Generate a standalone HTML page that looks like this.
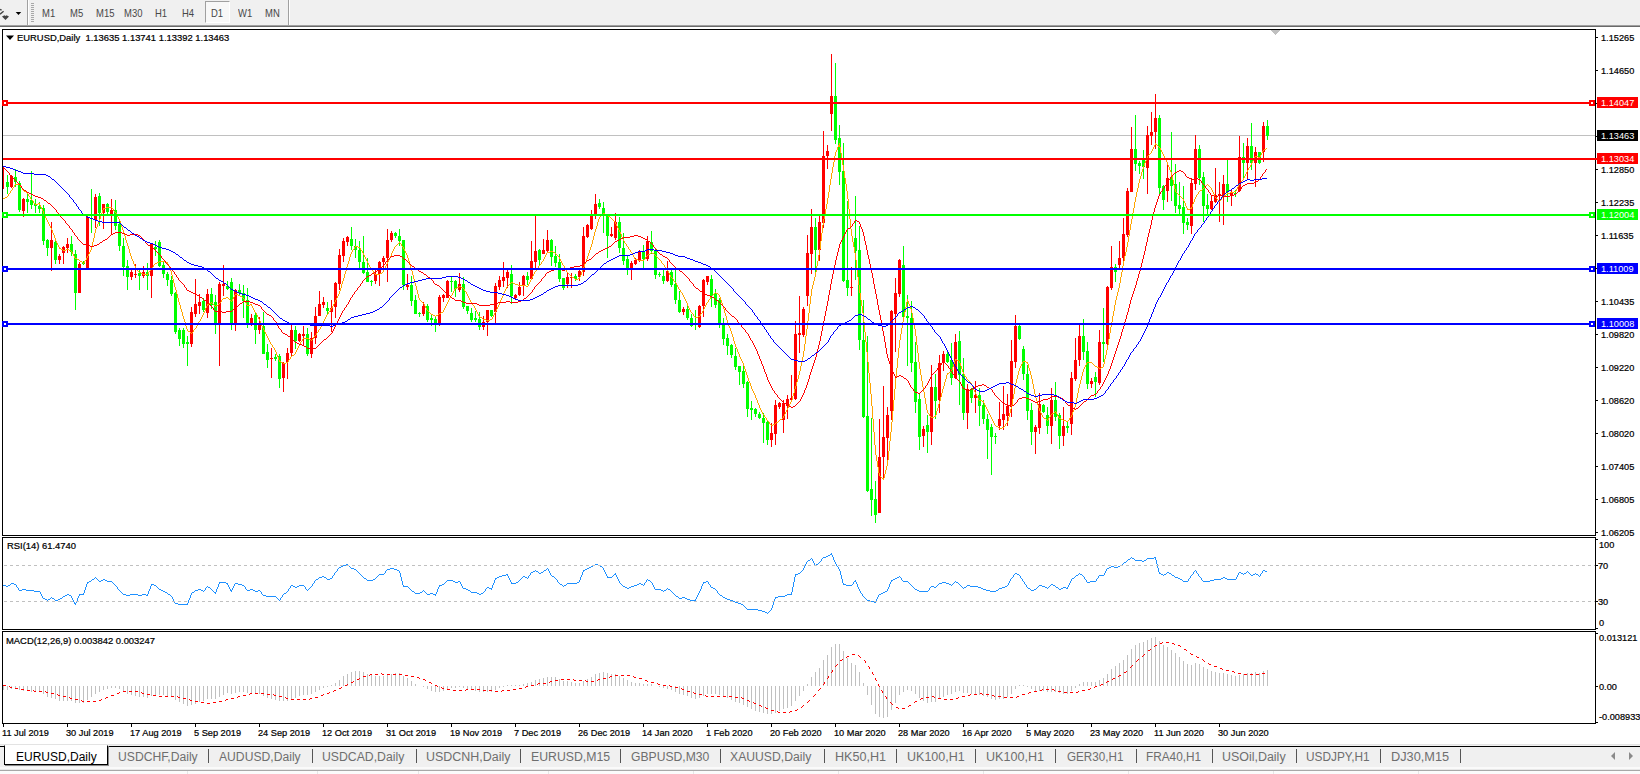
<!DOCTYPE html><html><head><meta charset="utf-8"><title>EURUSD,Daily</title><style>
html,body{margin:0;padding:0;}
body{width:1640px;height:774px;overflow:hidden;background:#fff;position:relative;font-family:"Liberation Sans",sans-serif;}
div,span{box-sizing:border-box}
#tb{position:absolute;left:0;top:0;width:1640px;height:25px;background:#f0f0f0;}
#tbl1{position:absolute;left:0;top:25px;width:1640px;height:1px;background:#a0a0a0;}
#tbl2{position:absolute;left:0;top:26px;width:1640px;height:1px;background:#696969;}
.tf{position:absolute;top:8px;font-size:10.2px;line-height:11px;color:#484848;white-space:nowrap;transform:scaleX(.93);transform-origin:0 0;}
.ax,.dt,.lbl{-webkit-text-stroke:0.22px #000}
.ax{position:absolute;left:1601px;font-size:9.5px;line-height:11px;color:#000;white-space:nowrap;transform:scaleX(.968);transform-origin:0 0;}
.tag{position:absolute;left:1597px;width:41px;height:11px;color:#fff;font-size:9.5px;line-height:11px;white-space:nowrap;}
.tag span{position:absolute;left:3.7px;top:-0.5px;transform:scaleX(.968);transform-origin:0 0;}
.dt{position:absolute;top:726.5px;font-size:9.5px;line-height:11px;color:#000;white-space:nowrap;transform:scaleX(.968);transform-origin:0 0;}
.lbl{position:absolute;font-size:9.5px;line-height:11px;color:#000;white-space:nowrap;transform:scaleX(.99);transform-origin:0 0;}
.tab{position:absolute;top:750px;font-size:12px;line-height:14px;color:#6e6e6e;white-space:nowrap;}
.sep{position:absolute;top:749px;width:1px;height:14px;background:#555;}
</style></head><body><div id="tb"></div><div id="tbl1"></div><div id="tbl2"></div><div style="position:absolute;left:27px;top:0;width:1px;height:25px;background:#a0a0a0"></div><div style="position:absolute;left:28px;top:0;width:1px;height:25px;background:#fff"></div><div style="position:absolute;left:288px;top:0;width:1px;height:25px;background:#a0a0a0"></div><div style="position:absolute;left:289px;top:0;width:1px;height:25px;background:#fff"></div><div style="position:absolute;left:31px;top:3px;width:3px;height:19px;background:repeating-linear-gradient(to bottom,#a8a8a8 0,#a8a8a8 1px,#f0f0f0 1px,#f0f0f0 2px)"></div><div style="position:absolute;left:205px;top:1px;width:25px;height:22px;border-left:1px solid #a0a0a0;border-top:1px solid #a0a0a0;border-right:1px solid #fff;border-bottom:1px solid #fff;background:#f8f8f8"></div><div class="tf" style="left:42px">M1</div><div class="tf" style="left:70px">M5</div><div class="tf" style="left:96px">M15</div><div class="tf" style="left:124px">M30</div><div class="tf" style="left:155px">H1</div><div class="tf" style="left:182px">H4</div><div class="tf" style="left:211px">D1</div><div class="tf" style="left:238px">W1</div><div class="tf" style="left:265px">MN</div><svg style="position:absolute;left:0;top:0" width="27" height="25"><path d="M0 14.2 L3.6 11.2 M0 9.4 L1.6 10.2" stroke="#444" stroke-width="1.4" fill="none"/><path d="M2 16.6 L4.5 15.2 L5.5 15.9 L6.5 15.2 L9 16.6 L5.5 20z" fill="#444"/><path d="M15.7 11.9 h5.5 l-2.75 3.1z" fill="#000"/></svg><div class="ax" style="top:31.5px">1.15265</div><div class="ax" style="top:64.5px">1.14650</div><div class="ax" style="top:163.5px">1.12850</div><div class="ax" style="top:196.5px">1.12235</div><div class="ax" style="top:229.5px">1.11635</div><div class="ax" style="top:295.5px">1.10435</div><div class="ax" style="top:328.5px">1.09820</div><div class="ax" style="top:361.5px">1.09220</div><div class="ax" style="top:394.5px">1.08620</div><div class="ax" style="top:427.5px">1.08020</div><div class="ax" style="top:460.5px">1.07405</div><div class="ax" style="top:493.5px">1.06805</div><div class="ax" style="top:526.5px">1.06205</div><div class="ax" style="left:1599px;top:539px">100</div><div class="ax" style="left:1598px;top:560px">70</div><div class="ax" style="left:1598px;top:596px">30</div><div class="ax" style="left:1599px;top:617px">0</div><div class="ax" style="left:1599px;top:632px">0.013121</div><div class="ax" style="left:1599px;top:681px">0.00</div><div class="ax" style="left:1599px;top:711px">-0.008933</div><div class="dt" style="left:2px">11 Jul 2019</div><div class="dt" style="left:66px">30 Jul 2019</div><div class="dt" style="left:130px">17 Aug 2019</div><div class="dt" style="left:194px">5 Sep 2019</div><div class="dt" style="left:258px">24 Sep 2019</div><div class="dt" style="left:322px">12 Oct 2019</div><div class="dt" style="left:386px">31 Oct 2019</div><div class="dt" style="left:450px">19 Nov 2019</div><div class="dt" style="left:514px">7 Dec 2019</div><div class="dt" style="left:578px">26 Dec 2019</div><div class="dt" style="left:642px">14 Jan 2020</div><div class="dt" style="left:706px">1 Feb 2020</div><div class="dt" style="left:770px">20 Feb 2020</div><div class="dt" style="left:834px">10 Mar 2020</div><div class="dt" style="left:898px">28 Mar 2020</div><div class="dt" style="left:962px">16 Apr 2020</div><div class="dt" style="left:1026px">5 May 2020</div><div class="dt" style="left:1090px">23 May 2020</div><div class="dt" style="left:1154px">11 Jun 2020</div><div class="dt" style="left:1218px">30 Jun 2020</div><div class="tag" style="top:97px;background:#ff0000"><span>1.14047</span></div><div class="tag" style="top:130px;background:#000"><span>1.13463</span></div><div class="tag" style="top:153px;background:#ff0000"><span>1.13034</span></div><div class="tag" style="top:209px;background:#00ff00"><span>1.12004</span></div><div class="tag" style="top:263px;background:#0000ff"><span>1.11009</span></div><div class="tag" style="top:318px;background:#0000ff"><span>1.10008</span></div><svg style="position:absolute;left:6px;top:35px" width="9" height="6"><path d="M0 0.5 h8 l-4 4.5z" fill="#000"/></svg><div class="lbl" style="left:17px;top:32px">EURUSD,Daily&nbsp; 1.13635 1.13741 1.13392 1.13463</div><div class="lbl" style="left:6.5px;top:540px">RSI(14) 61.4740</div><div class="lbl" style="left:6px;top:634.5px">MACD(12,26,9) 0.003842 0.003247</div><svg id="chart" style="position:absolute;left:0;top:0" width="1640" height="774" shape-rendering="crispEdges"><rect x="3" y="135" width="1592" height="1" fill="#c0c0c0"/><rect x="3" y="167" width="1" height="22" fill="#ff0000"/><rect x="3" y="169" width="1" height="20" fill="#ff0000"/><rect x="7" y="175" width="1" height="19" fill="#00ff00"/><rect x="6" y="182" width="3" height="5" fill="#00ff00"/><rect x="11" y="175" width="1" height="13" fill="#ff0000"/><rect x="10" y="176" width="3" height="11" fill="#ff0000"/><rect x="15" y="169" width="1" height="18" fill="#00ff00"/><rect x="14" y="177" width="3" height="5" fill="#00ff00"/><rect x="19" y="181" width="1" height="31" fill="#00ff00"/><rect x="18" y="183" width="3" height="27" fill="#00ff00"/><rect x="23" y="198" width="1" height="19" fill="#ff0000"/><rect x="22" y="199" width="3" height="12" fill="#ff0000"/><rect x="27" y="193" width="1" height="20" fill="#00ff00"/><rect x="26" y="199" width="3" height="3" fill="#00ff00"/><rect x="31" y="171" width="1" height="38" fill="#00ff00"/><rect x="30" y="200" width="3" height="5" fill="#00ff00"/><rect x="35" y="199" width="1" height="14" fill="#00ff00"/><rect x="34" y="204" width="3" height="2" fill="#00ff00"/><rect x="39" y="202" width="1" height="11" fill="#00ff00"/><rect x="38" y="206" width="3" height="3" fill="#00ff00"/><rect x="43" y="205" width="1" height="40" fill="#00ff00"/><rect x="42" y="208" width="3" height="33" fill="#00ff00"/><rect x="47" y="239" width="1" height="17" fill="#00ff00"/><rect x="46" y="240" width="3" height="8" fill="#00ff00"/><rect x="51" y="222" width="1" height="49" fill="#ff0000"/><rect x="50" y="240" width="3" height="8" fill="#ff0000"/><rect x="55" y="240" width="1" height="24" fill="#00ff00"/><rect x="54" y="242" width="3" height="18" fill="#00ff00"/><rect x="59" y="254" width="1" height="10" fill="#ff0000"/><rect x="58" y="256" width="3" height="4" fill="#ff0000"/><rect x="63" y="246" width="1" height="18" fill="#ff0000"/><rect x="62" y="247" width="3" height="6" fill="#ff0000"/><rect x="67" y="238" width="1" height="15" fill="#ff0000"/><rect x="66" y="244" width="3" height="4" fill="#ff0000"/><rect x="71" y="236" width="1" height="20" fill="#00ff00"/><rect x="70" y="244" width="3" height="8" fill="#00ff00"/><rect x="75" y="250" width="1" height="60" fill="#00ff00"/><rect x="74" y="254" width="3" height="39" fill="#00ff00"/><rect x="79" y="262" width="1" height="31" fill="#ff0000"/><rect x="78" y="264" width="3" height="29" fill="#ff0000"/><rect x="83" y="261" width="1" height="4" fill="#00ff00"/><rect x="82" y="263" width="3" height="1" fill="#00ff00"/><rect x="87" y="216" width="1" height="52" fill="#ff0000"/><rect x="86" y="217" width="3" height="51" fill="#ff0000"/><rect x="91" y="189" width="1" height="44" fill="#00ff00"/><rect x="91" y="210" width="1" height="1" fill="#00ff00"/><rect x="95" y="194" width="1" height="34" fill="#ff0000"/><rect x="94" y="197" width="3" height="23" fill="#ff0000"/><rect x="99" y="193" width="1" height="33" fill="#00ff00"/><rect x="98" y="196" width="3" height="17" fill="#00ff00"/><rect x="103" y="204" width="1" height="25" fill="#ff0000"/><rect x="102" y="204" width="3" height="9" fill="#ff0000"/><rect x="107" y="203" width="1" height="11" fill="#00ff00"/><rect x="106" y="204" width="3" height="8" fill="#00ff00"/><rect x="111" y="199" width="1" height="35" fill="#ff0000"/><rect x="110" y="210" width="3" height="4" fill="#ff0000"/><rect x="115" y="200" width="1" height="30" fill="#00ff00"/><rect x="114" y="210" width="3" height="16" fill="#00ff00"/><rect x="119" y="220" width="1" height="31" fill="#00ff00"/><rect x="118" y="224" width="3" height="22" fill="#00ff00"/><rect x="123" y="238" width="1" height="38" fill="#00ff00"/><rect x="122" y="246" width="3" height="21" fill="#00ff00"/><rect x="127" y="260" width="1" height="30" fill="#00ff00"/><rect x="126" y="266" width="3" height="11" fill="#00ff00"/><rect x="131" y="270" width="1" height="10" fill="#ff0000"/><rect x="130" y="272" width="3" height="5" fill="#ff0000"/><rect x="135" y="264" width="1" height="14" fill="#ff0000"/><rect x="134" y="274" width="3" height="1" fill="#ff0000"/><rect x="139" y="270" width="1" height="20" fill="#00ff00"/><rect x="138" y="273" width="3" height="3" fill="#00ff00"/><rect x="143" y="266" width="1" height="12" fill="#ff0000"/><rect x="142" y="272" width="3" height="4" fill="#ff0000"/><rect x="147" y="263" width="1" height="27" fill="#00ff00"/><rect x="146" y="272" width="3" height="4" fill="#00ff00"/><rect x="151" y="244" width="1" height="54" fill="#ff0000"/><rect x="150" y="244" width="3" height="32" fill="#ff0000"/><rect x="155" y="241" width="1" height="15" fill="#00ff00"/><rect x="154" y="247" width="3" height="2" fill="#00ff00"/><rect x="159" y="240" width="1" height="27" fill="#00ff00"/><rect x="158" y="242" width="3" height="24" fill="#00ff00"/><rect x="163" y="261" width="1" height="17" fill="#00ff00"/><rect x="162" y="265" width="3" height="9" fill="#00ff00"/><rect x="167" y="272" width="1" height="14" fill="#00ff00"/><rect x="166" y="274" width="3" height="6" fill="#00ff00"/><rect x="171" y="276" width="1" height="20" fill="#00ff00"/><rect x="170" y="280" width="3" height="14" fill="#00ff00"/><rect x="175" y="292" width="1" height="42" fill="#00ff00"/><rect x="174" y="293" width="3" height="39" fill="#00ff00"/><rect x="179" y="328" width="1" height="18" fill="#00ff00"/><rect x="178" y="330" width="3" height="9" fill="#00ff00"/><rect x="183" y="328" width="1" height="20" fill="#00ff00"/><rect x="182" y="330" width="3" height="14" fill="#00ff00"/><rect x="187" y="336" width="1" height="30" fill="#00ff00"/><rect x="186" y="342" width="3" height="2" fill="#00ff00"/><rect x="191" y="307" width="1" height="40" fill="#ff0000"/><rect x="190" y="312" width="3" height="32" fill="#ff0000"/><rect x="195" y="279" width="1" height="38" fill="#ff0000"/><rect x="194" y="304" width="3" height="10" fill="#ff0000"/><rect x="199" y="294" width="1" height="20" fill="#ff0000"/><rect x="198" y="302" width="3" height="4" fill="#ff0000"/><rect x="203" y="298" width="1" height="14" fill="#00ff00"/><rect x="202" y="301" width="3" height="9" fill="#00ff00"/><rect x="207" y="289" width="1" height="29" fill="#ff0000"/><rect x="206" y="294" width="3" height="19" fill="#ff0000"/><rect x="211" y="288" width="1" height="21" fill="#00ff00"/><rect x="210" y="294" width="3" height="11" fill="#00ff00"/><rect x="215" y="295" width="1" height="39" fill="#00ff00"/><rect x="214" y="302" width="3" height="22" fill="#00ff00"/><rect x="219" y="282" width="1" height="84" fill="#ff0000"/><rect x="218" y="284" width="3" height="40" fill="#ff0000"/><rect x="223" y="265" width="1" height="31" fill="#ff0000"/><rect x="222" y="284" width="3" height="2" fill="#ff0000"/><rect x="227" y="281" width="1" height="9" fill="#00ff00"/><rect x="226" y="286" width="3" height="3" fill="#00ff00"/><rect x="231" y="278" width="1" height="52" fill="#00ff00"/><rect x="230" y="282" width="3" height="42" fill="#00ff00"/><rect x="235" y="289" width="1" height="42" fill="#ff0000"/><rect x="234" y="290" width="3" height="34" fill="#ff0000"/><rect x="239" y="284" width="1" height="12" fill="#00ff00"/><rect x="238" y="290" width="3" height="3" fill="#00ff00"/><rect x="243" y="285" width="1" height="33" fill="#00ff00"/><rect x="242" y="293" width="3" height="8" fill="#00ff00"/><rect x="247" y="288" width="1" height="40" fill="#00ff00"/><rect x="246" y="300" width="3" height="23" fill="#00ff00"/><rect x="251" y="314" width="1" height="12" fill="#ff0000"/><rect x="250" y="318" width="3" height="6" fill="#ff0000"/><rect x="255" y="313" width="1" height="31" fill="#00ff00"/><rect x="254" y="315" width="3" height="15" fill="#00ff00"/><rect x="259" y="317" width="1" height="17" fill="#ff0000"/><rect x="258" y="324" width="3" height="6" fill="#ff0000"/><rect x="263" y="312" width="1" height="42" fill="#00ff00"/><rect x="262" y="326" width="3" height="28" fill="#00ff00"/><rect x="267" y="344" width="1" height="24" fill="#00ff00"/><rect x="266" y="352" width="3" height="8" fill="#00ff00"/><rect x="271" y="348" width="1" height="30" fill="#ff0000"/><rect x="270" y="358" width="3" height="1" fill="#ff0000"/><rect x="275" y="354" width="1" height="7" fill="#00ff00"/><rect x="274" y="357" width="3" height="2" fill="#00ff00"/><rect x="279" y="354" width="1" height="34" fill="#00ff00"/><rect x="278" y="356" width="3" height="23" fill="#00ff00"/><rect x="283" y="362" width="1" height="30" fill="#ff0000"/><rect x="282" y="363" width="3" height="15" fill="#ff0000"/><rect x="287" y="348" width="1" height="31" fill="#ff0000"/><rect x="286" y="353" width="3" height="9" fill="#ff0000"/><rect x="291" y="325" width="1" height="31" fill="#ff0000"/><rect x="290" y="330" width="3" height="23" fill="#ff0000"/><rect x="295" y="326" width="1" height="23" fill="#00ff00"/><rect x="294" y="330" width="3" height="11" fill="#00ff00"/><rect x="299" y="333" width="1" height="9" fill="#ff0000"/><rect x="298" y="334" width="3" height="7" fill="#ff0000"/><rect x="303" y="326" width="1" height="20" fill="#ff0000"/><rect x="302" y="334" width="3" height="2" fill="#ff0000"/><rect x="307" y="328" width="1" height="28" fill="#00ff00"/><rect x="306" y="334" width="3" height="20" fill="#00ff00"/><rect x="311" y="332" width="1" height="26" fill="#ff0000"/><rect x="310" y="338" width="3" height="16" fill="#ff0000"/><rect x="315" y="307" width="1" height="37" fill="#ff0000"/><rect x="314" y="316" width="3" height="22" fill="#ff0000"/><rect x="319" y="291" width="1" height="25" fill="#ff0000"/><rect x="318" y="304" width="3" height="12" fill="#ff0000"/><rect x="323" y="297" width="1" height="11" fill="#ff0000"/><rect x="322" y="302" width="3" height="3" fill="#ff0000"/><rect x="327" y="302" width="1" height="12" fill="#00ff00"/><rect x="326" y="308" width="3" height="3" fill="#00ff00"/><rect x="331" y="300" width="1" height="32" fill="#ff0000"/><rect x="330" y="308" width="3" height="4" fill="#ff0000"/><rect x="335" y="282" width="1" height="36" fill="#ff0000"/><rect x="334" y="283" width="3" height="24" fill="#ff0000"/><rect x="339" y="249" width="1" height="41" fill="#ff0000"/><rect x="338" y="255" width="3" height="29" fill="#ff0000"/><rect x="343" y="238" width="1" height="24" fill="#ff0000"/><rect x="342" y="241" width="3" height="15" fill="#ff0000"/><rect x="347" y="236" width="1" height="10" fill="#ff0000"/><rect x="346" y="237" width="3" height="5" fill="#ff0000"/><rect x="351" y="227" width="1" height="23" fill="#00ff00"/><rect x="350" y="239" width="3" height="7" fill="#00ff00"/><rect x="355" y="239" width="1" height="19" fill="#00ff00"/><rect x="354" y="246" width="3" height="4" fill="#00ff00"/><rect x="359" y="241" width="1" height="27" fill="#00ff00"/><rect x="358" y="250" width="3" height="12" fill="#00ff00"/><rect x="363" y="236" width="1" height="38" fill="#00ff00"/><rect x="362" y="262" width="3" height="11" fill="#00ff00"/><rect x="367" y="258" width="1" height="24" fill="#00ff00"/><rect x="366" y="272" width="3" height="10" fill="#00ff00"/><rect x="371" y="280" width="1" height="6" fill="#00ff00"/><rect x="370" y="281" width="3" height="1" fill="#00ff00"/><rect x="375" y="268" width="1" height="16" fill="#ff0000"/><rect x="374" y="274" width="3" height="7" fill="#ff0000"/><rect x="379" y="261" width="1" height="25" fill="#ff0000"/><rect x="378" y="262" width="3" height="12" fill="#ff0000"/><rect x="383" y="256" width="1" height="12" fill="#ff0000"/><rect x="382" y="258" width="3" height="4" fill="#ff0000"/><rect x="387" y="229" width="1" height="53" fill="#ff0000"/><rect x="386" y="240" width="3" height="18" fill="#ff0000"/><rect x="391" y="231" width="1" height="11" fill="#ff0000"/><rect x="390" y="233" width="3" height="7" fill="#ff0000"/><rect x="395" y="232" width="1" height="6" fill="#00ff00"/><rect x="394" y="233" width="3" height="3" fill="#00ff00"/><rect x="399" y="229" width="1" height="17" fill="#00ff00"/><rect x="398" y="236" width="3" height="5" fill="#00ff00"/><rect x="403" y="240" width="1" height="50" fill="#00ff00"/><rect x="402" y="240" width="3" height="45" fill="#00ff00"/><rect x="407" y="274" width="1" height="16" fill="#ff0000"/><rect x="406" y="285" width="3" height="2" fill="#ff0000"/><rect x="411" y="276" width="1" height="30" fill="#00ff00"/><rect x="410" y="285" width="3" height="16" fill="#00ff00"/><rect x="415" y="295" width="1" height="19" fill="#00ff00"/><rect x="414" y="300" width="3" height="14" fill="#00ff00"/><rect x="419" y="312" width="1" height="5" fill="#00ff00"/><rect x="418" y="313" width="3" height="1" fill="#00ff00"/><rect x="423" y="302" width="1" height="14" fill="#ff0000"/><rect x="422" y="306" width="3" height="8" fill="#ff0000"/><rect x="427" y="304" width="1" height="18" fill="#00ff00"/><rect x="426" y="306" width="3" height="14" fill="#00ff00"/><rect x="431" y="314" width="1" height="12" fill="#00ff00"/><rect x="430" y="318" width="3" height="2" fill="#00ff00"/><rect x="435" y="317" width="1" height="15" fill="#00ff00"/><rect x="434" y="319" width="3" height="5" fill="#00ff00"/><rect x="439" y="295" width="1" height="31" fill="#ff0000"/><rect x="438" y="297" width="3" height="27" fill="#ff0000"/><rect x="443" y="294" width="1" height="8" fill="#ff0000"/><rect x="442" y="295" width="3" height="3" fill="#ff0000"/><rect x="447" y="280" width="1" height="18" fill="#ff0000"/><rect x="446" y="281" width="3" height="17" fill="#ff0000"/><rect x="451" y="277" width="1" height="15" fill="#00ff00"/><rect x="450" y="281" width="3" height="1" fill="#00ff00"/><rect x="455" y="280" width="1" height="17" fill="#00ff00"/><rect x="454" y="281" width="3" height="8" fill="#00ff00"/><rect x="459" y="273" width="1" height="19" fill="#ff0000"/><rect x="458" y="284" width="3" height="6" fill="#ff0000"/><rect x="463" y="277" width="1" height="32" fill="#00ff00"/><rect x="462" y="284" width="3" height="23" fill="#00ff00"/><rect x="467" y="306" width="1" height="8" fill="#00ff00"/><rect x="466" y="306" width="3" height="5" fill="#00ff00"/><rect x="471" y="308" width="1" height="14" fill="#00ff00"/><rect x="470" y="313" width="3" height="7" fill="#00ff00"/><rect x="475" y="311" width="1" height="11" fill="#00ff00"/><rect x="474" y="318" width="3" height="2" fill="#00ff00"/><rect x="479" y="312" width="1" height="18" fill="#00ff00"/><rect x="478" y="319" width="3" height="8" fill="#00ff00"/><rect x="483" y="316" width="1" height="14" fill="#ff0000"/><rect x="482" y="322" width="3" height="5" fill="#ff0000"/><rect x="487" y="310" width="1" height="26" fill="#ff0000"/><rect x="486" y="310" width="3" height="12" fill="#ff0000"/><rect x="491" y="310" width="1" height="7" fill="#00ff00"/><rect x="490" y="310" width="3" height="6" fill="#00ff00"/><rect x="495" y="283" width="1" height="40" fill="#ff0000"/><rect x="494" y="286" width="3" height="26" fill="#ff0000"/><rect x="499" y="276" width="1" height="14" fill="#ff0000"/><rect x="498" y="280" width="3" height="7" fill="#ff0000"/><rect x="503" y="262" width="1" height="25" fill="#ff0000"/><rect x="502" y="277" width="3" height="4" fill="#ff0000"/><rect x="507" y="269" width="1" height="19" fill="#ff0000"/><rect x="506" y="272" width="3" height="6" fill="#ff0000"/><rect x="511" y="265" width="1" height="39" fill="#00ff00"/><rect x="510" y="274" width="3" height="22" fill="#00ff00"/><rect x="515" y="294" width="1" height="6" fill="#ff0000"/><rect x="514" y="295" width="3" height="3" fill="#ff0000"/><rect x="519" y="282" width="1" height="14" fill="#ff0000"/><rect x="518" y="287" width="3" height="8" fill="#ff0000"/><rect x="523" y="275" width="1" height="21" fill="#ff0000"/><rect x="522" y="276" width="3" height="10" fill="#ff0000"/><rect x="527" y="272" width="1" height="13" fill="#00ff00"/><rect x="526" y="276" width="3" height="4" fill="#00ff00"/><rect x="531" y="241" width="1" height="39" fill="#ff0000"/><rect x="530" y="261" width="3" height="18" fill="#ff0000"/><rect x="535" y="216" width="1" height="52" fill="#ff0000"/><rect x="534" y="251" width="3" height="11" fill="#ff0000"/><rect x="539" y="249" width="1" height="16" fill="#00ff00"/><rect x="538" y="250" width="3" height="10" fill="#00ff00"/><rect x="543" y="239" width="1" height="15" fill="#ff0000"/><rect x="542" y="250" width="3" height="4" fill="#ff0000"/><rect x="547" y="230" width="1" height="22" fill="#ff0000"/><rect x="546" y="240" width="3" height="11" fill="#ff0000"/><rect x="551" y="239" width="1" height="27" fill="#00ff00"/><rect x="550" y="240" width="3" height="17" fill="#00ff00"/><rect x="555" y="246" width="1" height="21" fill="#00ff00"/><rect x="554" y="256" width="3" height="7" fill="#00ff00"/><rect x="559" y="254" width="1" height="28" fill="#00ff00"/><rect x="558" y="262" width="3" height="17" fill="#00ff00"/><rect x="563" y="278" width="1" height="12" fill="#00ff00"/><rect x="562" y="278" width="3" height="10" fill="#00ff00"/><rect x="567" y="273" width="1" height="15" fill="#ff0000"/><rect x="566" y="277" width="3" height="7" fill="#ff0000"/><rect x="571" y="273" width="1" height="15" fill="#ff0000"/><rect x="570" y="277" width="3" height="1" fill="#ff0000"/><rect x="575" y="274" width="1" height="7" fill="#00ff00"/><rect x="574" y="276" width="3" height="3" fill="#00ff00"/><rect x="579" y="270" width="1" height="11" fill="#ff0000"/><rect x="578" y="271" width="3" height="6" fill="#ff0000"/><rect x="583" y="227" width="1" height="49" fill="#ff0000"/><rect x="582" y="236" width="3" height="36" fill="#ff0000"/><rect x="587" y="224" width="1" height="14" fill="#ff0000"/><rect x="586" y="225" width="3" height="12" fill="#ff0000"/><rect x="591" y="210" width="1" height="20" fill="#ff0000"/><rect x="590" y="216" width="3" height="13" fill="#ff0000"/><rect x="595" y="194" width="1" height="25" fill="#ff0000"/><rect x="594" y="204" width="3" height="10" fill="#ff0000"/><rect x="599" y="199" width="1" height="10" fill="#00ff00"/><rect x="598" y="203" width="3" height="4" fill="#00ff00"/><rect x="603" y="202" width="1" height="31" fill="#00ff00"/><rect x="602" y="208" width="3" height="6" fill="#00ff00"/><rect x="607" y="215" width="1" height="43" fill="#00ff00"/><rect x="606" y="216" width="3" height="20" fill="#00ff00"/><rect x="611" y="227" width="1" height="10" fill="#ff0000"/><rect x="610" y="234" width="3" height="2" fill="#ff0000"/><rect x="615" y="213" width="1" height="27" fill="#ff0000"/><rect x="614" y="222" width="3" height="16" fill="#ff0000"/><rect x="619" y="217" width="1" height="36" fill="#00ff00"/><rect x="618" y="222" width="3" height="26" fill="#00ff00"/><rect x="623" y="233" width="1" height="32" fill="#00ff00"/><rect x="622" y="248" width="3" height="13" fill="#00ff00"/><rect x="627" y="256" width="1" height="19" fill="#00ff00"/><rect x="626" y="259" width="3" height="9" fill="#00ff00"/><rect x="631" y="261" width="1" height="19" fill="#ff0000"/><rect x="630" y="263" width="3" height="5" fill="#ff0000"/><rect x="635" y="258" width="1" height="7" fill="#ff0000"/><rect x="634" y="260" width="3" height="4" fill="#ff0000"/><rect x="639" y="250" width="1" height="12" fill="#ff0000"/><rect x="638" y="252" width="3" height="9" fill="#ff0000"/><rect x="643" y="245" width="1" height="23" fill="#00ff00"/><rect x="642" y="252" width="3" height="7" fill="#00ff00"/><rect x="647" y="236" width="1" height="25" fill="#ff0000"/><rect x="646" y="241" width="3" height="18" fill="#ff0000"/><rect x="651" y="231" width="1" height="23" fill="#00ff00"/><rect x="650" y="242" width="3" height="9" fill="#00ff00"/><rect x="655" y="248" width="1" height="31" fill="#00ff00"/><rect x="654" y="250" width="3" height="25" fill="#00ff00"/><rect x="659" y="272" width="1" height="5" fill="#00ff00"/><rect x="658" y="274" width="3" height="1" fill="#00ff00"/><rect x="663" y="270" width="1" height="14" fill="#00ff00"/><rect x="662" y="276" width="3" height="5" fill="#00ff00"/><rect x="667" y="261" width="1" height="21" fill="#ff0000"/><rect x="666" y="271" width="3" height="10" fill="#ff0000"/><rect x="671" y="270" width="1" height="17" fill="#00ff00"/><rect x="670" y="272" width="3" height="13" fill="#00ff00"/><rect x="675" y="267" width="1" height="37" fill="#00ff00"/><rect x="674" y="284" width="3" height="16" fill="#00ff00"/><rect x="679" y="291" width="1" height="22" fill="#00ff00"/><rect x="678" y="300" width="3" height="12" fill="#00ff00"/><rect x="683" y="307" width="1" height="8" fill="#ff0000"/><rect x="682" y="309" width="3" height="3" fill="#ff0000"/><rect x="687" y="305" width="1" height="15" fill="#00ff00"/><rect x="686" y="309" width="3" height="9" fill="#00ff00"/><rect x="691" y="314" width="1" height="13" fill="#00ff00"/><rect x="690" y="318" width="3" height="8" fill="#00ff00"/><rect x="695" y="310" width="1" height="20" fill="#00ff00"/><rect x="694" y="323" width="3" height="1" fill="#00ff00"/><rect x="699" y="305" width="1" height="23" fill="#ff0000"/><rect x="698" y="306" width="3" height="21" fill="#ff0000"/><rect x="703" y="279" width="1" height="38" fill="#ff0000"/><rect x="702" y="280" width="3" height="26" fill="#ff0000"/><rect x="707" y="276" width="1" height="9" fill="#ff0000"/><rect x="706" y="276" width="3" height="6" fill="#ff0000"/><rect x="711" y="275" width="1" height="32" fill="#00ff00"/><rect x="710" y="279" width="3" height="17" fill="#00ff00"/><rect x="715" y="289" width="1" height="19" fill="#00ff00"/><rect x="714" y="294" width="3" height="11" fill="#00ff00"/><rect x="719" y="298" width="1" height="30" fill="#00ff00"/><rect x="718" y="300" width="3" height="23" fill="#00ff00"/><rect x="723" y="318" width="1" height="27" fill="#00ff00"/><rect x="722" y="323" width="3" height="16" fill="#00ff00"/><rect x="727" y="334" width="1" height="21" fill="#00ff00"/><rect x="726" y="338" width="3" height="8" fill="#00ff00"/><rect x="731" y="344" width="1" height="14" fill="#00ff00"/><rect x="730" y="345" width="3" height="10" fill="#00ff00"/><rect x="735" y="348" width="1" height="22" fill="#00ff00"/><rect x="734" y="356" width="3" height="11" fill="#00ff00"/><rect x="739" y="366" width="1" height="19" fill="#00ff00"/><rect x="738" y="366" width="3" height="6" fill="#00ff00"/><rect x="743" y="366" width="1" height="22" fill="#00ff00"/><rect x="742" y="371" width="3" height="13" fill="#00ff00"/><rect x="747" y="381" width="1" height="36" fill="#00ff00"/><rect x="746" y="382" width="3" height="27" fill="#00ff00"/><rect x="751" y="401" width="1" height="19" fill="#00ff00"/><rect x="750" y="408" width="3" height="2" fill="#00ff00"/><rect x="755" y="408" width="1" height="9" fill="#00ff00"/><rect x="754" y="409" width="3" height="5" fill="#00ff00"/><rect x="759" y="412" width="1" height="7" fill="#00ff00"/><rect x="758" y="414" width="3" height="4" fill="#00ff00"/><rect x="763" y="413" width="1" height="30" fill="#00ff00"/><rect x="762" y="418" width="3" height="5" fill="#00ff00"/><rect x="767" y="420" width="1" height="25" fill="#00ff00"/><rect x="766" y="422" width="3" height="18" fill="#00ff00"/><rect x="771" y="423" width="1" height="24" fill="#ff0000"/><rect x="770" y="433" width="3" height="7" fill="#ff0000"/><rect x="775" y="400" width="1" height="45" fill="#ff0000"/><rect x="774" y="405" width="3" height="29" fill="#ff0000"/><rect x="779" y="402" width="1" height="7" fill="#ff0000"/><rect x="778" y="403" width="3" height="4" fill="#ff0000"/><rect x="783" y="400" width="1" height="33" fill="#ff0000"/><rect x="782" y="403" width="3" height="17" fill="#ff0000"/><rect x="787" y="395" width="1" height="24" fill="#ff0000"/><rect x="786" y="399" width="3" height="7" fill="#ff0000"/><rect x="791" y="375" width="1" height="26" fill="#ff0000"/><rect x="790" y="398" width="3" height="2" fill="#ff0000"/><rect x="795" y="321" width="1" height="79" fill="#ff0000"/><rect x="794" y="334" width="3" height="65" fill="#ff0000"/><rect x="799" y="296" width="1" height="57" fill="#ff0000"/><rect x="798" y="333" width="3" height="2" fill="#ff0000"/><rect x="803" y="307" width="1" height="30" fill="#ff0000"/><rect x="802" y="309" width="3" height="26" fill="#ff0000"/><rect x="807" y="235" width="1" height="71" fill="#ff0000"/><rect x="806" y="253" width="3" height="43" fill="#ff0000"/><rect x="811" y="209" width="1" height="65" fill="#ff0000"/><rect x="810" y="227" width="3" height="27" fill="#ff0000"/><rect x="815" y="218" width="1" height="54" fill="#00ff00"/><rect x="814" y="227" width="3" height="23" fill="#00ff00"/><rect x="819" y="216" width="1" height="45" fill="#ff0000"/><rect x="818" y="222" width="3" height="28" fill="#ff0000"/><rect x="823" y="131" width="1" height="97" fill="#ff0000"/><rect x="822" y="156" width="3" height="67" fill="#ff0000"/><rect x="827" y="145" width="1" height="24" fill="#ff0000"/><rect x="826" y="151" width="3" height="5" fill="#ff0000"/><rect x="831" y="54" width="1" height="77" fill="#ff0000"/><rect x="830" y="96" width="3" height="18" fill="#ff0000"/><rect x="835" y="63" width="1" height="81" fill="#00ff00"/><rect x="834" y="96" width="3" height="44" fill="#00ff00"/><rect x="839" y="125" width="1" height="60" fill="#00ff00"/><rect x="838" y="138" width="3" height="34" fill="#00ff00"/><rect x="843" y="143" width="1" height="139" fill="#00ff00"/><rect x="842" y="171" width="3" height="110" fill="#00ff00"/><rect x="847" y="201" width="1" height="95" fill="#00ff00"/><rect x="846" y="280" width="3" height="8" fill="#00ff00"/><rect x="851" y="267" width="1" height="29" fill="#ff0000"/><rect x="850" y="287" width="3" height="1" fill="#ff0000"/><rect x="855" y="196" width="1" height="84" fill="#00ff00"/><rect x="854" y="238" width="3" height="13" fill="#00ff00"/><rect x="859" y="226" width="1" height="124" fill="#00ff00"/><rect x="858" y="250" width="3" height="90" fill="#00ff00"/><rect x="863" y="300" width="1" height="118" fill="#00ff00"/><rect x="862" y="340" width="3" height="77" fill="#00ff00"/><rect x="867" y="336" width="1" height="156" fill="#00ff00"/><rect x="866" y="416" width="3" height="75" fill="#00ff00"/><rect x="871" y="418" width="1" height="98" fill="#00ff00"/><rect x="870" y="489" width="3" height="11" fill="#00ff00"/><rect x="875" y="481" width="1" height="42" fill="#00ff00"/><rect x="874" y="499" width="3" height="16" fill="#00ff00"/><rect x="879" y="419" width="1" height="94" fill="#ff0000"/><rect x="878" y="457" width="3" height="56" fill="#ff0000"/><rect x="883" y="386" width="1" height="94" fill="#ff0000"/><rect x="882" y="437" width="3" height="20" fill="#ff0000"/><rect x="887" y="407" width="1" height="53" fill="#ff0000"/><rect x="886" y="415" width="3" height="23" fill="#ff0000"/><rect x="891" y="310" width="1" height="110" fill="#ff0000"/><rect x="890" y="311" width="3" height="100" fill="#ff0000"/><rect x="895" y="278" width="1" height="74" fill="#ff0000"/><rect x="894" y="293" width="3" height="21" fill="#ff0000"/><rect x="899" y="259" width="1" height="38" fill="#ff0000"/><rect x="898" y="260" width="3" height="34" fill="#ff0000"/><rect x="903" y="246" width="1" height="72" fill="#00ff00"/><rect x="902" y="265" width="3" height="52" fill="#00ff00"/><rect x="907" y="295" width="1" height="71" fill="#00ff00"/><rect x="906" y="316" width="3" height="2" fill="#00ff00"/><rect x="911" y="301" width="1" height="71" fill="#00ff00"/><rect x="910" y="318" width="3" height="45" fill="#00ff00"/><rect x="915" y="342" width="1" height="71" fill="#00ff00"/><rect x="914" y="362" width="3" height="40" fill="#00ff00"/><rect x="919" y="394" width="1" height="56" fill="#00ff00"/><rect x="918" y="399" width="3" height="38" fill="#00ff00"/><rect x="923" y="426" width="1" height="21" fill="#ff0000"/><rect x="922" y="429" width="3" height="7" fill="#ff0000"/><rect x="927" y="415" width="1" height="38" fill="#00ff00"/><rect x="926" y="425" width="3" height="7" fill="#00ff00"/><rect x="931" y="365" width="1" height="80" fill="#ff0000"/><rect x="930" y="387" width="3" height="45" fill="#ff0000"/><rect x="935" y="374" width="1" height="45" fill="#00ff00"/><rect x="934" y="387" width="3" height="14" fill="#00ff00"/><rect x="939" y="355" width="1" height="58" fill="#ff0000"/><rect x="938" y="363" width="3" height="37" fill="#ff0000"/><rect x="943" y="351" width="1" height="20" fill="#ff0000"/><rect x="942" y="354" width="3" height="9" fill="#ff0000"/><rect x="947" y="352" width="1" height="11" fill="#00ff00"/><rect x="946" y="354" width="3" height="8" fill="#00ff00"/><rect x="951" y="343" width="1" height="42" fill="#00ff00"/><rect x="950" y="360" width="3" height="18" fill="#00ff00"/><rect x="955" y="334" width="1" height="45" fill="#ff0000"/><rect x="954" y="342" width="3" height="36" fill="#ff0000"/><rect x="959" y="331" width="1" height="74" fill="#00ff00"/><rect x="958" y="341" width="3" height="34" fill="#00ff00"/><rect x="963" y="358" width="1" height="62" fill="#00ff00"/><rect x="962" y="374" width="3" height="39" fill="#00ff00"/><rect x="967" y="384" width="1" height="45" fill="#ff0000"/><rect x="966" y="389" width="3" height="24" fill="#ff0000"/><rect x="971" y="388" width="1" height="15" fill="#00ff00"/><rect x="970" y="389" width="3" height="9" fill="#00ff00"/><rect x="975" y="381" width="1" height="32" fill="#ff0000"/><rect x="974" y="395" width="3" height="3" fill="#ff0000"/><rect x="979" y="388" width="1" height="38" fill="#00ff00"/><rect x="978" y="395" width="3" height="11" fill="#00ff00"/><rect x="983" y="400" width="1" height="24" fill="#00ff00"/><rect x="982" y="405" width="3" height="14" fill="#00ff00"/><rect x="987" y="414" width="1" height="45" fill="#00ff00"/><rect x="986" y="419" width="3" height="11" fill="#00ff00"/><rect x="991" y="424" width="1" height="51" fill="#00ff00"/><rect x="990" y="427" width="3" height="10" fill="#00ff00"/><rect x="995" y="433" width="1" height="11" fill="#00ff00"/><rect x="994" y="436" width="3" height="1" fill="#00ff00"/><rect x="999" y="402" width="1" height="28" fill="#ff0000"/><rect x="998" y="419" width="3" height="7" fill="#ff0000"/><rect x="1003" y="386" width="1" height="44" fill="#ff0000"/><rect x="1002" y="414" width="3" height="6" fill="#ff0000"/><rect x="1007" y="394" width="1" height="32" fill="#ff0000"/><rect x="1006" y="406" width="3" height="10" fill="#ff0000"/><rect x="1011" y="340" width="1" height="77" fill="#ff0000"/><rect x="1010" y="361" width="3" height="45" fill="#ff0000"/><rect x="1015" y="315" width="1" height="53" fill="#ff0000"/><rect x="1014" y="326" width="3" height="36" fill="#ff0000"/><rect x="1019" y="325" width="1" height="15" fill="#00ff00"/><rect x="1018" y="326" width="3" height="13" fill="#00ff00"/><rect x="1023" y="346" width="1" height="34" fill="#00ff00"/><rect x="1022" y="349" width="3" height="25" fill="#00ff00"/><rect x="1027" y="365" width="1" height="55" fill="#00ff00"/><rect x="1026" y="374" width="3" height="37" fill="#00ff00"/><rect x="1031" y="403" width="1" height="42" fill="#00ff00"/><rect x="1030" y="410" width="3" height="22" fill="#00ff00"/><rect x="1035" y="425" width="1" height="29" fill="#ff0000"/><rect x="1034" y="427" width="3" height="5" fill="#ff0000"/><rect x="1039" y="393" width="1" height="41" fill="#ff0000"/><rect x="1038" y="404" width="3" height="24" fill="#ff0000"/><rect x="1043" y="404" width="1" height="9" fill="#00ff00"/><rect x="1042" y="405" width="3" height="7" fill="#00ff00"/><rect x="1047" y="407" width="1" height="27" fill="#00ff00"/><rect x="1046" y="415" width="3" height="11" fill="#00ff00"/><rect x="1051" y="388" width="1" height="56" fill="#ff0000"/><rect x="1050" y="400" width="3" height="26" fill="#ff0000"/><rect x="1055" y="382" width="1" height="39" fill="#00ff00"/><rect x="1054" y="400" width="3" height="17" fill="#00ff00"/><rect x="1059" y="413" width="1" height="36" fill="#00ff00"/><rect x="1058" y="415" width="3" height="21" fill="#00ff00"/><rect x="1063" y="407" width="1" height="39" fill="#ff0000"/><rect x="1062" y="426" width="3" height="10" fill="#ff0000"/><rect x="1067" y="422" width="1" height="11" fill="#00ff00"/><rect x="1066" y="426" width="3" height="2" fill="#00ff00"/><rect x="1071" y="372" width="1" height="63" fill="#ff0000"/><rect x="1070" y="378" width="3" height="46" fill="#ff0000"/><rect x="1075" y="338" width="1" height="43" fill="#ff0000"/><rect x="1074" y="360" width="3" height="19" fill="#ff0000"/><rect x="1079" y="325" width="1" height="41" fill="#ff0000"/><rect x="1078" y="336" width="3" height="24" fill="#ff0000"/><rect x="1083" y="319" width="1" height="41" fill="#00ff00"/><rect x="1082" y="336" width="3" height="16" fill="#00ff00"/><rect x="1087" y="342" width="1" height="47" fill="#00ff00"/><rect x="1086" y="351" width="3" height="33" fill="#00ff00"/><rect x="1091" y="378" width="1" height="10" fill="#ff0000"/><rect x="1090" y="381" width="3" height="3" fill="#ff0000"/><rect x="1095" y="372" width="1" height="25" fill="#00ff00"/><rect x="1094" y="377" width="3" height="5" fill="#00ff00"/><rect x="1099" y="330" width="1" height="55" fill="#ff0000"/><rect x="1098" y="342" width="3" height="41" fill="#ff0000"/><rect x="1103" y="308" width="1" height="54" fill="#00ff00"/><rect x="1102" y="342" width="3" height="2" fill="#00ff00"/><rect x="1107" y="286" width="1" height="59" fill="#ff0000"/><rect x="1106" y="287" width="3" height="57" fill="#ff0000"/><rect x="1111" y="246" width="1" height="44" fill="#ff0000"/><rect x="1110" y="267" width="3" height="21" fill="#ff0000"/><rect x="1115" y="264" width="1" height="18" fill="#00ff00"/><rect x="1114" y="267" width="3" height="5" fill="#00ff00"/><rect x="1119" y="241" width="1" height="29" fill="#ff0000"/><rect x="1118" y="258" width="3" height="7" fill="#ff0000"/><rect x="1123" y="218" width="1" height="43" fill="#ff0000"/><rect x="1122" y="234" width="3" height="24" fill="#ff0000"/><rect x="1127" y="188" width="1" height="49" fill="#ff0000"/><rect x="1126" y="191" width="3" height="44" fill="#ff0000"/><rect x="1131" y="127" width="1" height="65" fill="#ff0000"/><rect x="1130" y="149" width="3" height="43" fill="#ff0000"/><rect x="1135" y="115" width="1" height="56" fill="#00ff00"/><rect x="1134" y="149" width="3" height="15" fill="#00ff00"/><rect x="1139" y="161" width="1" height="13" fill="#00ff00"/><rect x="1138" y="163" width="3" height="3" fill="#00ff00"/><rect x="1143" y="150" width="1" height="29" fill="#00ff00"/><rect x="1142" y="160" width="3" height="7" fill="#00ff00"/><rect x="1147" y="126" width="1" height="68" fill="#ff0000"/><rect x="1146" y="135" width="3" height="33" fill="#ff0000"/><rect x="1151" y="112" width="1" height="33" fill="#ff0000"/><rect x="1150" y="132" width="3" height="4" fill="#ff0000"/><rect x="1155" y="94" width="1" height="55" fill="#ff0000"/><rect x="1154" y="118" width="3" height="14" fill="#ff0000"/><rect x="1159" y="115" width="1" height="79" fill="#00ff00"/><rect x="1158" y="118" width="3" height="70" fill="#00ff00"/><rect x="1163" y="185" width="1" height="25" fill="#00ff00"/><rect x="1162" y="186" width="3" height="14" fill="#00ff00"/><rect x="1167" y="164" width="1" height="38" fill="#ff0000"/><rect x="1166" y="178" width="3" height="13" fill="#ff0000"/><rect x="1171" y="132" width="1" height="69" fill="#00ff00"/><rect x="1170" y="177" width="3" height="9" fill="#00ff00"/><rect x="1175" y="164" width="1" height="49" fill="#00ff00"/><rect x="1174" y="184" width="3" height="22" fill="#00ff00"/><rect x="1179" y="182" width="1" height="32" fill="#00ff00"/><rect x="1178" y="205" width="3" height="4" fill="#00ff00"/><rect x="1183" y="186" width="1" height="48" fill="#00ff00"/><rect x="1182" y="207" width="3" height="16" fill="#00ff00"/><rect x="1187" y="218" width="1" height="12" fill="#00ff00"/><rect x="1186" y="222" width="3" height="3" fill="#00ff00"/><rect x="1191" y="178" width="1" height="56" fill="#ff0000"/><rect x="1190" y="183" width="3" height="43" fill="#ff0000"/><rect x="1195" y="135" width="1" height="55" fill="#ff0000"/><rect x="1194" y="149" width="3" height="35" fill="#ff0000"/><rect x="1199" y="145" width="1" height="40" fill="#00ff00"/><rect x="1198" y="149" width="3" height="29" fill="#00ff00"/><rect x="1203" y="172" width="1" height="50" fill="#00ff00"/><rect x="1202" y="177" width="3" height="29" fill="#00ff00"/><rect x="1207" y="194" width="1" height="20" fill="#00ff00"/><rect x="1206" y="205" width="3" height="4" fill="#00ff00"/><rect x="1211" y="195" width="1" height="15" fill="#ff0000"/><rect x="1210" y="201" width="3" height="8" fill="#ff0000"/><rect x="1215" y="168" width="1" height="35" fill="#ff0000"/><rect x="1214" y="195" width="3" height="7" fill="#ff0000"/><rect x="1219" y="182" width="1" height="40" fill="#ff0000"/><rect x="1218" y="194" width="3" height="2" fill="#ff0000"/><rect x="1223" y="175" width="1" height="50" fill="#ff0000"/><rect x="1222" y="184" width="3" height="12" fill="#ff0000"/><rect x="1227" y="160" width="1" height="42" fill="#00ff00"/><rect x="1226" y="184" width="3" height="8" fill="#00ff00"/><rect x="1231" y="190" width="1" height="16" fill="#ff0000"/><rect x="1230" y="193" width="3" height="3" fill="#ff0000"/><rect x="1235" y="190" width="1" height="7" fill="#00ff00"/><rect x="1234" y="193" width="3" height="1" fill="#00ff00"/><rect x="1239" y="136" width="1" height="56" fill="#ff0000"/><rect x="1238" y="157" width="3" height="34" fill="#ff0000"/><rect x="1243" y="143" width="1" height="37" fill="#00ff00"/><rect x="1242" y="157" width="3" height="6" fill="#00ff00"/><rect x="1247" y="138" width="1" height="42" fill="#ff0000"/><rect x="1246" y="146" width="3" height="17" fill="#ff0000"/><rect x="1251" y="123" width="1" height="47" fill="#00ff00"/><rect x="1250" y="146" width="3" height="17" fill="#00ff00"/><rect x="1255" y="147" width="1" height="40" fill="#ff0000"/><rect x="1254" y="152" width="3" height="11" fill="#ff0000"/><rect x="1259" y="152" width="1" height="12" fill="#00ff00"/><rect x="1258" y="152" width="3" height="11" fill="#00ff00"/><rect x="1263" y="122" width="1" height="40" fill="#ff0000"/><rect x="1262" y="126" width="3" height="26" fill="#ff0000"/><rect x="1267" y="120" width="1" height="20" fill="#00ff00"/><rect x="1266" y="126" width="3" height="10" fill="#00ff00"/><path d="M839 143h1v1h-1zM1155 143h1v1h-1zM839 144h1v1h-1zM1155 144h2v1h-2zM838 145h2v1h-2zM1154 145h1v1h-1zM1157 145h1v1h-1zM838 146h2v1h-2zM1154 146h1v1h-1zM1158 146h1v1h-1zM837 147h1v1h-1zM840 147h1v1h-1zM1153 147h1v1h-1zM1159 147h1v1h-1zM837 148h1v1h-1zM840 148h1v1h-1zM1153 148h1v1h-1zM1160 148h1v1h-1zM1266 148h1v1h-1zM837 149h1v1h-1zM840 149h1v1h-1zM1152 149h1v1h-1zM1160 149h1v1h-1zM1264 149h2v1h-2zM836 150h1v1h-1zM840 150h1v1h-1zM1152 150h1v1h-1zM1161 150h1v1h-1zM1263 150h1v1h-1zM836 151h1v1h-1zM840 151h1v1h-1zM1151 151h1v1h-1zM1161 151h1v1h-1zM1262 151h1v1h-1zM835 152h1v1h-1zM840 152h1v1h-1zM1151 152h1v1h-1zM1162 152h1v1h-1zM1262 152h1v1h-1zM835 153h1v1h-1zM841 153h1v1h-1zM1150 153h1v1h-1zM1162 153h1v1h-1zM1261 153h1v1h-1zM835 154h1v1h-1zM841 154h1v1h-1zM1149 154h1v1h-1zM1163 154h1v1h-1zM1261 154h1v1h-1zM835 155h1v1h-1zM841 155h1v1h-1zM1148 155h1v1h-1zM1163 155h1v1h-1zM1260 155h1v1h-1zM834 156h1v1h-1zM841 156h1v1h-1zM1147 156h1v1h-1zM1164 156h1v1h-1zM1255 156h3v1h-3zM1260 156h1v1h-1zM834 157h1v1h-1zM841 157h1v1h-1zM1147 157h1v1h-1zM1164 157h1v1h-1zM1254 157h1v1h-1zM1258 157h2v1h-2zM834 158h1v1h-1zM841 158h1v1h-1zM1146 158h1v1h-1zM1165 158h1v1h-1zM1254 158h1v1h-1zM834 159h1v1h-1zM842 159h1v1h-1zM1146 159h1v1h-1zM1165 159h1v1h-1zM1253 159h1v1h-1zM834 160h1v1h-1zM842 160h1v1h-1zM1146 160h1v1h-1zM1166 160h1v1h-1zM1253 160h1v1h-1zM834 161h1v1h-1zM842 161h1v1h-1zM1145 161h1v1h-1zM1166 161h1v1h-1zM1252 161h1v1h-1zM833 162h1v1h-1zM842 162h1v1h-1zM1145 162h1v1h-1zM1167 162h1v1h-1zM1252 162h1v1h-1zM833 163h1v1h-1zM842 163h1v1h-1zM1144 163h1v1h-1zM1167 163h1v1h-1zM1251 163h1v1h-1zM833 164h1v1h-1zM842 164h1v1h-1zM1144 164h1v1h-1zM1167 164h1v1h-1zM1251 164h1v1h-1zM833 165h1v1h-1zM843 165h1v1h-1zM1144 165h1v1h-1zM1168 165h1v1h-1zM1250 165h1v1h-1zM833 166h1v1h-1zM843 166h1v1h-1zM1143 166h1v1h-1zM1168 166h1v1h-1zM1250 166h1v1h-1zM832 167h1v1h-1zM843 167h1v1h-1zM1143 167h1v1h-1zM1169 167h1v1h-1zM1249 167h1v1h-1zM832 168h1v1h-1zM843 168h1v1h-1zM1143 168h1v1h-1zM1169 168h1v1h-1zM1248 168h1v1h-1zM832 169h1v1h-1zM843 169h1v1h-1zM1142 169h1v1h-1zM1169 169h1v1h-1zM1248 169h1v1h-1zM832 170h1v1h-1zM843 170h1v1h-1zM1142 170h1v1h-1zM1170 170h1v1h-1zM1247 170h1v1h-1zM832 171h1v1h-1zM844 171h1v1h-1zM1142 171h1v1h-1zM1170 171h1v1h-1zM1247 171h1v1h-1zM832 172h1v1h-1zM844 172h1v1h-1zM1141 172h1v1h-1zM1171 172h1v1h-1zM1246 172h1v1h-1zM831 173h1v1h-1zM844 173h1v1h-1zM1141 173h1v1h-1zM1171 173h1v1h-1zM1246 173h1v1h-1zM831 174h1v1h-1zM844 174h1v1h-1zM1141 174h1v1h-1zM1171 174h1v1h-1zM1245 174h1v1h-1zM831 175h1v1h-1zM844 175h1v1h-1zM1141 175h1v1h-1zM1171 175h1v1h-1zM1245 175h1v1h-1zM831 176h1v1h-1zM844 176h1v1h-1zM1140 176h1v1h-1zM1172 176h1v1h-1zM1244 176h1v1h-1zM831 177h1v1h-1zM844 177h1v1h-1zM1140 177h1v1h-1zM1172 177h1v1h-1zM1244 177h1v1h-1zM831 178h1v1h-1zM845 178h1v1h-1zM1140 178h1v1h-1zM1172 178h1v1h-1zM1243 178h1v1h-1zM830 179h1v1h-1zM845 179h1v1h-1zM1139 179h1v1h-1zM1172 179h1v1h-1zM1243 179h1v1h-1zM830 180h1v1h-1zM845 180h1v1h-1zM1139 180h1v1h-1zM1173 180h1v1h-1zM1242 180h1v1h-1zM830 181h1v1h-1zM845 181h1v1h-1zM1139 181h1v1h-1zM1173 181h1v1h-1zM1241 181h1v1h-1zM830 182h1v1h-1zM845 182h1v1h-1zM1139 182h1v1h-1zM1173 182h1v1h-1zM1241 182h1v1h-1zM830 183h1v1h-1zM845 183h1v1h-1zM1138 183h1v1h-1zM1173 183h1v1h-1zM1240 183h1v1h-1zM15 184h5v1h-5zM830 184h1v1h-1zM846 184h1v1h-1zM1138 184h1v1h-1zM1173 184h1v1h-1zM1207 184h1v1h-1zM1239 184h1v1h-1zM14 185h1v1h-1zM20 185h1v1h-1zM829 185h1v1h-1zM846 185h1v1h-1zM1138 185h1v1h-1zM1174 185h1v1h-1zM1206 185h1v1h-1zM1208 185h1v1h-1zM1238 185h1v1h-1zM14 186h1v1h-1zM20 186h1v1h-1zM829 186h1v1h-1zM846 186h1v1h-1zM1138 186h1v1h-1zM1174 186h1v1h-1zM1205 186h1v1h-1zM1209 186h1v1h-1zM1238 186h1v1h-1zM13 187h1v1h-1zM21 187h1v1h-1zM829 187h1v1h-1zM846 187h1v1h-1zM1138 187h1v1h-1zM1174 187h1v1h-1zM1204 187h1v1h-1zM1210 187h1v1h-1zM1237 187h1v1h-1zM12 188h1v1h-1zM22 188h1v1h-1zM829 188h1v1h-1zM846 188h1v1h-1zM1137 188h1v1h-1zM1174 188h1v1h-1zM1203 188h1v1h-1zM1211 188h1v1h-1zM1237 188h1v1h-1zM12 189h1v1h-1zM22 189h1v1h-1zM829 189h1v1h-1zM846 189h1v1h-1zM1137 189h1v1h-1zM1175 189h1v1h-1zM1202 189h1v1h-1zM1211 189h1v1h-1zM1236 189h1v1h-1zM11 190h1v1h-1zM23 190h1v1h-1zM829 190h1v1h-1zM846 190h1v1h-1zM1137 190h1v1h-1zM1175 190h1v1h-1zM1200 190h2v1h-2zM1212 190h1v1h-1zM1236 190h1v1h-1zM10 191h1v1h-1zM24 191h2v1h-2zM829 191h1v1h-1zM847 191h1v1h-1zM1137 191h1v1h-1zM1175 191h1v1h-1zM1199 191h1v1h-1zM1212 191h1v1h-1zM1234 191h2v1h-2zM10 192h1v1h-1zM26 192h1v1h-1zM828 192h1v1h-1zM847 192h1v1h-1zM1136 192h1v1h-1zM1176 192h1v1h-1zM1198 192h1v1h-1zM1213 192h1v1h-1zM1230 192h4v1h-4zM9 193h1v1h-1zM27 193h1v1h-1zM828 193h1v1h-1zM847 193h1v1h-1zM1136 193h1v1h-1zM1177 193h1v1h-1zM1198 193h1v1h-1zM1213 193h1v1h-1zM1227 193h3v1h-3zM8 194h1v1h-1zM28 194h1v1h-1zM828 194h1v1h-1zM847 194h1v1h-1zM1136 194h1v1h-1zM1178 194h1v1h-1zM1197 194h1v1h-1zM1214 194h1v1h-1zM1226 194h1v1h-1zM8 195h1v1h-1zM28 195h1v1h-1zM828 195h1v1h-1zM847 195h1v1h-1zM1136 195h1v1h-1zM1179 195h1v1h-1zM1196 195h1v1h-1zM1214 195h1v1h-1zM1224 195h2v1h-2zM7 196h1v1h-1zM29 196h1v1h-1zM828 196h1v1h-1zM847 196h1v1h-1zM1136 196h1v1h-1zM1180 196h1v1h-1zM1196 196h1v1h-1zM1215 196h1v1h-1zM1223 196h1v1h-1zM5 197h2v1h-2zM30 197h1v1h-1zM828 197h1v1h-1zM847 197h1v1h-1zM1135 197h1v1h-1zM1181 197h1v1h-1zM1195 197h1v1h-1zM1215 197h1v1h-1zM1222 197h1v1h-1zM3 198h2v1h-2zM30 198h1v1h-1zM827 198h1v1h-1zM847 198h1v1h-1zM1135 198h1v1h-1zM1182 198h1v1h-1zM1195 198h1v1h-1zM1216 198h1v1h-1zM1221 198h1v1h-1zM31 199h1v1h-1zM827 199h1v1h-1zM848 199h1v1h-1zM1135 199h1v1h-1zM1183 199h1v1h-1zM1194 199h1v1h-1zM1217 199h1v1h-1zM1221 199h1v1h-1zM32 200h1v1h-1zM827 200h1v1h-1zM848 200h1v1h-1zM1135 200h1v1h-1zM1183 200h1v1h-1zM1194 200h1v1h-1zM1218 200h1v1h-1zM1220 200h1v1h-1zM33 201h1v1h-1zM827 201h1v1h-1zM848 201h1v1h-1zM1135 201h1v1h-1zM1184 201h1v1h-1zM1194 201h1v1h-1zM1219 201h1v1h-1zM33 202h1v1h-1zM827 202h1v1h-1zM848 202h1v1h-1zM1134 202h1v1h-1zM1184 202h1v1h-1zM1193 202h1v1h-1zM34 203h1v1h-1zM38 203h2v1h-2zM827 203h1v1h-1zM848 203h1v1h-1zM1134 203h1v1h-1zM1185 203h1v1h-1zM1193 203h1v1h-1zM35 204h3v1h-3zM39 204h1v1h-1zM826 204h1v1h-1zM848 204h1v1h-1zM1134 204h1v1h-1zM1185 204h1v1h-1zM1192 204h1v1h-1zM40 205h1v1h-1zM826 205h1v1h-1zM848 205h1v1h-1zM1134 205h1v1h-1zM1185 205h1v1h-1zM1192 205h1v1h-1zM40 206h1v1h-1zM826 206h1v1h-1zM848 206h1v1h-1zM1134 206h1v1h-1zM1186 206h1v1h-1zM1192 206h1v1h-1zM41 207h1v1h-1zM106 207h6v1h-6zM826 207h1v1h-1zM848 207h1v1h-1zM1134 207h1v1h-1zM1186 207h1v1h-1zM1191 207h1v1h-1zM41 208h1v1h-1zM103 208h3v1h-3zM112 208h1v1h-1zM826 208h1v1h-1zM848 208h1v1h-1zM1133 208h1v1h-1zM1187 208h1v1h-1zM1190 208h2v1h-2zM42 209h1v1h-1zM103 209h1v1h-1zM113 209h1v1h-1zM825 209h1v1h-1zM849 209h1v1h-1zM1133 209h1v1h-1zM1187 209h3v1h-3zM42 210h1v1h-1zM102 210h1v1h-1zM113 210h1v1h-1zM825 210h1v1h-1zM849 210h1v1h-1zM1133 210h1v1h-1zM43 211h1v1h-1zM102 211h1v1h-1zM114 211h1v1h-1zM825 211h1v1h-1zM849 211h1v1h-1zM1133 211h1v1h-1zM43 212h1v1h-1zM102 212h1v1h-1zM115 212h1v1h-1zM825 212h1v1h-1zM849 212h1v1h-1zM1133 212h1v1h-1zM43 213h1v1h-1zM101 213h1v1h-1zM116 213h1v1h-1zM603 213h2v1h-2zM825 213h1v1h-1zM849 213h1v1h-1zM1132 213h1v1h-1zM44 214h1v1h-1zM101 214h1v1h-1zM116 214h1v1h-1zM602 214h1v1h-1zM605 214h2v1h-2zM824 214h1v1h-1zM849 214h1v1h-1zM1132 214h1v1h-1zM44 215h1v1h-1zM101 215h1v1h-1zM117 215h1v1h-1zM601 215h1v1h-1zM607 215h1v1h-1zM824 215h1v1h-1zM849 215h1v1h-1zM1132 215h1v1h-1zM45 216h1v1h-1zM100 216h1v1h-1zM117 216h1v1h-1zM600 216h1v1h-1zM608 216h2v1h-2zM824 216h1v1h-1zM849 216h1v1h-1zM1132 216h1v1h-1zM45 217h1v1h-1zM100 217h1v1h-1zM118 217h1v1h-1zM599 217h1v1h-1zM610 217h1v1h-1zM824 217h1v1h-1zM849 217h1v1h-1zM1132 217h1v1h-1zM46 218h1v1h-1zM100 218h1v1h-1zM118 218h1v1h-1zM599 218h1v1h-1zM611 218h1v1h-1zM824 218h1v1h-1zM849 218h1v1h-1zM1132 218h1v1h-1zM46 219h1v1h-1zM99 219h1v1h-1zM119 219h1v1h-1zM598 219h1v1h-1zM612 219h1v1h-1zM823 219h1v1h-1zM850 219h1v1h-1zM1131 219h1v1h-1zM47 220h1v1h-1zM99 220h1v1h-1zM119 220h1v1h-1zM598 220h1v1h-1zM613 220h1v1h-1zM823 220h1v1h-1zM850 220h1v1h-1zM1131 220h1v1h-1zM47 221h1v1h-1zM99 221h1v1h-1zM120 221h1v1h-1zM598 221h1v1h-1zM614 221h1v1h-1zM823 221h1v1h-1zM850 221h1v1h-1zM1131 221h1v1h-1zM48 222h1v1h-1zM98 222h1v1h-1zM120 222h1v1h-1zM597 222h1v1h-1zM615 222h1v1h-1zM823 222h1v1h-1zM850 222h1v1h-1zM1131 222h1v1h-1zM48 223h1v1h-1zM98 223h1v1h-1zM120 223h1v1h-1zM597 223h1v1h-1zM615 223h1v1h-1zM823 223h1v1h-1zM850 223h1v1h-1zM1131 223h1v1h-1zM49 224h1v1h-1zM97 224h1v1h-1zM121 224h1v1h-1zM597 224h1v1h-1zM616 224h1v1h-1zM823 224h1v1h-1zM850 224h1v1h-1zM1130 224h1v1h-1zM49 225h1v1h-1zM97 225h1v1h-1zM121 225h1v1h-1zM597 225h1v1h-1zM616 225h1v1h-1zM822 225h1v1h-1zM850 225h1v1h-1zM1130 225h1v1h-1zM50 226h1v1h-1zM97 226h1v1h-1zM121 226h1v1h-1zM596 226h1v1h-1zM617 226h1v1h-1zM822 226h1v1h-1zM850 226h1v1h-1zM1130 226h1v1h-1zM50 227h1v1h-1zM96 227h1v1h-1zM122 227h1v1h-1zM596 227h1v1h-1zM617 227h1v1h-1zM822 227h1v1h-1zM850 227h1v1h-1zM1130 227h1v1h-1zM51 228h1v1h-1zM96 228h1v1h-1zM122 228h1v1h-1zM596 228h1v1h-1zM618 228h1v1h-1zM822 228h1v1h-1zM850 228h1v1h-1zM1130 228h1v1h-1zM51 229h1v1h-1zM95 229h1v1h-1zM122 229h1v1h-1zM595 229h1v1h-1zM618 229h1v1h-1zM822 229h1v1h-1zM851 229h1v1h-1zM1130 229h1v1h-1zM52 230h1v1h-1zM95 230h1v1h-1zM123 230h1v1h-1zM595 230h1v1h-1zM619 230h1v1h-1zM822 230h1v1h-1zM851 230h1v1h-1zM1129 230h1v1h-1zM52 231h1v1h-1zM95 231h1v1h-1zM123 231h1v1h-1zM595 231h1v1h-1zM619 231h1v1h-1zM822 231h1v1h-1zM851 231h1v1h-1zM1129 231h1v1h-1zM52 232h1v1h-1zM95 232h1v1h-1zM123 232h1v1h-1zM594 232h1v1h-1zM620 232h1v1h-1zM822 232h1v1h-1zM851 232h1v1h-1zM1129 232h1v1h-1zM53 233h1v1h-1zM94 233h1v1h-1zM124 233h1v1h-1zM594 233h1v1h-1zM620 233h1v1h-1zM821 233h1v1h-1zM851 233h1v1h-1zM1129 233h1v1h-1zM53 234h1v1h-1zM94 234h1v1h-1zM124 234h1v1h-1zM594 234h1v1h-1zM621 234h1v1h-1zM821 234h1v1h-1zM851 234h1v1h-1zM1129 234h1v1h-1zM54 235h1v1h-1zM94 235h1v1h-1zM124 235h1v1h-1zM594 235h1v1h-1zM621 235h1v1h-1zM821 235h1v1h-1zM851 235h1v1h-1zM1129 235h1v1h-1zM54 236h1v1h-1zM94 236h1v1h-1zM125 236h1v1h-1zM593 236h1v1h-1zM621 236h1v1h-1zM821 236h1v1h-1zM852 236h1v1h-1zM1128 236h1v1h-1zM54 237h1v1h-1zM94 237h1v1h-1zM125 237h1v1h-1zM593 237h1v1h-1zM622 237h1v1h-1zM821 237h1v1h-1zM852 237h1v1h-1zM1128 237h1v1h-1zM55 238h1v1h-1zM93 238h1v1h-1zM125 238h1v1h-1zM593 238h1v1h-1zM622 238h1v1h-1zM821 238h1v1h-1zM852 238h1v1h-1zM1128 238h1v1h-1zM55 239h1v1h-1zM93 239h1v1h-1zM125 239h1v1h-1zM593 239h1v1h-1zM623 239h1v1h-1zM821 239h1v1h-1zM852 239h1v1h-1zM1128 239h1v1h-1zM55 240h1v1h-1zM93 240h1v1h-1zM126 240h1v1h-1zM592 240h1v1h-1zM623 240h1v1h-1zM821 240h1v1h-1zM852 240h1v1h-1zM1128 240h1v1h-1zM56 241h1v1h-1zM93 241h1v1h-1zM126 241h1v1h-1zM592 241h1v1h-1zM624 241h1v1h-1zM820 241h1v1h-1zM852 241h1v1h-1zM1128 241h1v1h-1zM56 242h1v1h-1zM92 242h1v1h-1zM126 242h1v1h-1zM399 242h1v1h-1zM592 242h1v1h-1zM624 242h1v1h-1zM820 242h1v1h-1zM853 242h1v1h-1zM1127 242h1v1h-1zM57 243h1v1h-1zM92 243h1v1h-1zM127 243h1v1h-1zM398 243h1v1h-1zM400 243h1v1h-1zM592 243h1v1h-1zM625 243h1v1h-1zM820 243h1v1h-1zM853 243h1v1h-1zM1127 243h1v1h-1zM57 244h1v1h-1zM92 244h1v1h-1zM127 244h1v1h-1zM397 244h1v1h-1zM401 244h1v1h-1zM591 244h1v1h-1zM626 244h1v1h-1zM820 244h1v1h-1zM853 244h1v1h-1zM1127 244h1v1h-1zM58 245h1v1h-1zM92 245h1v1h-1zM127 245h1v1h-1zM396 245h1v1h-1zM401 245h1v1h-1zM591 245h1v1h-1zM626 245h1v1h-1zM820 245h1v1h-1zM853 245h1v1h-1zM1127 245h1v1h-1zM58 246h1v1h-1zM92 246h1v1h-1zM128 246h1v1h-1zM355 246h3v1h-3zM395 246h1v1h-1zM402 246h1v1h-1zM591 246h1v1h-1zM627 246h1v1h-1zM820 246h1v1h-1zM853 246h1v1h-1zM1127 246h1v1h-1zM59 247h1v1h-1zM91 247h1v1h-1zM128 247h1v1h-1zM354 247h1v1h-1zM358 247h2v1h-2zM394 247h1v1h-1zM403 247h1v1h-1zM590 247h1v1h-1zM628 247h1v1h-1zM820 247h1v1h-1zM854 247h1v1h-1zM1126 247h1v1h-1zM59 248h2v1h-2zM91 248h1v1h-1zM128 248h1v1h-1zM354 248h1v1h-1zM360 248h1v1h-1zM394 248h1v1h-1zM403 248h1v1h-1zM590 248h1v1h-1zM628 248h1v1h-1zM820 248h1v1h-1zM854 248h1v1h-1zM1126 248h1v1h-1zM61 249h2v1h-2zM66 249h3v1h-3zM91 249h1v1h-1zM129 249h1v1h-1zM353 249h1v1h-1zM360 249h1v1h-1zM393 249h1v1h-1zM404 249h1v1h-1zM590 249h1v1h-1zM629 249h1v1h-1zM819 249h1v1h-1zM854 249h1v1h-1zM1126 249h1v1h-1zM63 250h3v1h-3zM69 250h2v1h-2zM90 250h1v1h-1zM129 250h1v1h-1zM352 250h1v1h-1zM361 250h1v1h-1zM393 250h1v1h-1zM404 250h1v1h-1zM589 250h1v1h-1zM630 250h1v1h-1zM819 250h1v1h-1zM854 250h1v1h-1zM1126 250h1v1h-1zM71 251h1v1h-1zM90 251h1v1h-1zM129 251h1v1h-1zM352 251h1v1h-1zM362 251h1v1h-1zM392 251h1v1h-1zM405 251h1v1h-1zM550 251h3v1h-3zM589 251h1v1h-1zM630 251h1v1h-1zM819 251h1v1h-1zM854 251h1v1h-1zM1126 251h1v1h-1zM72 252h1v1h-1zM89 252h1v1h-1zM129 252h1v1h-1zM351 252h1v1h-1zM362 252h1v1h-1zM392 252h1v1h-1zM405 252h1v1h-1zM547 252h3v1h-3zM553 252h2v1h-2zM589 252h1v1h-1zM631 252h1v1h-1zM651 252h1v1h-1zM819 252h1v1h-1zM854 252h1v1h-1zM1125 252h1v1h-1zM72 253h1v1h-1zM89 253h1v1h-1zM130 253h1v1h-1zM351 253h1v1h-1zM363 253h1v1h-1zM391 253h1v1h-1zM406 253h1v1h-1zM546 253h1v1h-1zM555 253h1v1h-1zM588 253h1v1h-1zM632 253h1v1h-1zM650 253h1v1h-1zM652 253h2v1h-2zM819 253h1v1h-1zM855 253h1v1h-1zM1125 253h1v1h-1zM73 254h1v1h-1zM88 254h1v1h-1zM130 254h1v1h-1zM350 254h1v1h-1zM363 254h1v1h-1zM391 254h1v1h-1zM406 254h1v1h-1zM546 254h1v1h-1zM556 254h1v1h-1zM588 254h1v1h-1zM632 254h1v1h-1zM648 254h2v1h-2zM654 254h1v1h-1zM819 254h1v1h-1zM855 254h1v1h-1zM1125 254h1v1h-1zM73 255h1v1h-1zM88 255h1v1h-1zM130 255h1v1h-1zM350 255h1v1h-1zM364 255h1v1h-1zM391 255h1v1h-1zM407 255h1v1h-1zM545 255h1v1h-1zM557 255h1v1h-1zM588 255h1v1h-1zM633 255h1v1h-1zM647 255h1v1h-1zM655 255h1v1h-1zM818 255h1v1h-1zM855 255h1v1h-1zM1125 255h1v1h-1zM74 256h1v1h-1zM87 256h1v1h-1zM131 256h1v1h-1zM350 256h1v1h-1zM364 256h1v1h-1zM390 256h1v1h-1zM407 256h1v1h-1zM545 256h1v1h-1zM558 256h1v1h-1zM587 256h1v1h-1zM633 256h1v1h-1zM646 256h1v1h-1zM656 256h1v1h-1zM818 256h1v1h-1zM855 256h1v1h-1zM1124 256h1v1h-1zM74 257h1v1h-1zM87 257h1v1h-1zM131 257h1v1h-1zM349 257h1v1h-1zM365 257h1v1h-1zM390 257h1v1h-1zM407 257h1v1h-1zM544 257h1v1h-1zM559 257h1v1h-1zM587 257h1v1h-1zM634 257h1v1h-1zM645 257h1v1h-1zM657 257h1v1h-1zM818 257h1v1h-1zM855 257h1v1h-1zM1124 257h1v1h-1zM75 258h2v1h-2zM86 258h1v1h-1zM131 258h1v1h-1zM349 258h1v1h-1zM365 258h1v1h-1zM389 258h1v1h-1zM408 258h1v1h-1zM544 258h1v1h-1zM559 258h1v1h-1zM587 258h1v1h-1zM634 258h1v1h-1zM645 258h1v1h-1zM658 258h1v1h-1zM818 258h1v1h-1zM855 258h1v1h-1zM1124 258h1v1h-1zM77 259h2v1h-2zM86 259h1v1h-1zM132 259h1v1h-1zM349 259h1v1h-1zM366 259h1v1h-1zM389 259h1v1h-1zM408 259h1v1h-1zM543 259h1v1h-1zM560 259h1v1h-1zM586 259h1v1h-1zM635 259h3v1h-3zM644 259h1v1h-1zM659 259h1v1h-1zM818 259h1v1h-1zM855 259h1v1h-1zM1124 259h1v1h-1zM79 260h1v1h-1zM85 260h1v1h-1zM132 260h1v1h-1zM349 260h1v1h-1zM366 260h1v1h-1zM388 260h1v1h-1zM408 260h1v1h-1zM543 260h1v1h-1zM560 260h1v1h-1zM586 260h1v1h-1zM638 260h6v1h-6zM660 260h1v1h-1zM818 260h1v1h-1zM856 260h1v1h-1zM1124 260h1v1h-1zM80 261h2v1h-2zM84 261h1v1h-1zM133 261h1v1h-1zM159 261h7v1h-7zM348 261h1v1h-1zM367 261h1v1h-1zM388 261h1v1h-1zM409 261h1v1h-1zM542 261h1v1h-1zM561 261h1v1h-1zM586 261h1v1h-1zM661 261h1v1h-1zM817 261h1v1h-1zM856 261h1v1h-1zM1123 261h1v1h-1zM82 262h1v1h-1zM84 262h1v1h-1zM133 262h1v1h-1zM157 262h2v1h-2zM166 262h2v1h-2zM348 262h1v1h-1zM367 262h1v1h-1zM387 262h1v1h-1zM409 262h1v1h-1zM541 262h1v1h-1zM561 262h1v1h-1zM585 262h1v1h-1zM661 262h1v1h-1zM817 262h1v1h-1zM856 262h1v1h-1zM1123 262h1v1h-1zM83 263h1v1h-1zM133 263h1v1h-1zM155 263h2v1h-2zM167 263h1v1h-1zM348 263h1v1h-1zM368 263h1v1h-1zM387 263h1v1h-1zM409 263h1v1h-1zM541 263h1v1h-1zM562 263h1v1h-1zM585 263h1v1h-1zM662 263h1v1h-1zM817 263h1v1h-1zM856 263h1v1h-1zM1123 263h1v1h-1zM134 264h1v1h-1zM154 264h1v1h-1zM168 264h1v1h-1zM347 264h1v1h-1zM368 264h1v1h-1zM386 264h1v1h-1zM409 264h1v1h-1zM540 264h1v1h-1zM562 264h1v1h-1zM584 264h1v1h-1zM663 264h1v1h-1zM817 264h1v1h-1zM856 264h1v1h-1zM1123 264h1v1h-1zM134 265h1v1h-1zM153 265h1v1h-1zM168 265h1v1h-1zM347 265h1v1h-1zM369 265h1v1h-1zM386 265h1v1h-1zM410 265h1v1h-1zM539 265h1v1h-1zM563 265h1v1h-1zM584 265h1v1h-1zM664 265h1v1h-1zM817 265h1v1h-1zM856 265h1v1h-1zM1123 265h1v1h-1zM135 266h1v1h-1zM153 266h1v1h-1zM169 266h1v1h-1zM347 266h1v1h-1zM369 266h1v1h-1zM385 266h1v1h-1zM410 266h1v1h-1zM538 266h1v1h-1zM564 266h1v1h-1zM584 266h1v1h-1zM664 266h1v1h-1zM816 266h1v1h-1zM856 266h1v1h-1zM1122 266h1v1h-1zM135 267h1v1h-1zM152 267h1v1h-1zM169 267h1v1h-1zM346 267h1v1h-1zM370 267h1v1h-1zM385 267h1v1h-1zM410 267h1v1h-1zM538 267h1v1h-1zM564 267h1v1h-1zM583 267h1v1h-1zM665 267h1v1h-1zM816 267h1v1h-1zM856 267h1v1h-1zM1122 267h1v1h-1zM136 268h1v1h-1zM151 268h1v1h-1zM169 268h1v1h-1zM346 268h1v1h-1zM370 268h1v1h-1zM384 268h1v1h-1zM411 268h1v1h-1zM537 268h1v1h-1zM565 268h1v1h-1zM583 268h1v1h-1zM666 268h1v1h-1zM816 268h1v1h-1zM857 268h1v1h-1zM1122 268h1v1h-1zM137 269h1v1h-1zM150 269h1v1h-1zM170 269h1v1h-1zM346 269h1v1h-1zM371 269h1v1h-1zM384 269h1v1h-1zM411 269h1v1h-1zM536 269h1v1h-1zM565 269h1v1h-1zM583 269h1v1h-1zM666 269h1v1h-1zM816 269h1v1h-1zM857 269h1v1h-1zM1122 269h1v1h-1zM137 270h1v1h-1zM150 270h1v1h-1zM170 270h1v1h-1zM346 270h1v1h-1zM372 270h1v1h-1zM383 270h1v1h-1zM411 270h1v1h-1zM536 270h1v1h-1zM566 270h1v1h-1zM582 270h1v1h-1zM667 270h1v1h-1zM816 270h1v1h-1zM857 270h1v1h-1zM1122 270h1v1h-1zM138 271h1v1h-1zM149 271h1v1h-1zM171 271h1v1h-1zM345 271h1v1h-1zM373 271h1v1h-1zM383 271h1v1h-1zM412 271h1v1h-1zM535 271h1v1h-1zM566 271h1v1h-1zM582 271h1v1h-1zM668 271h1v1h-1zM816 271h1v1h-1zM857 271h1v1h-1zM1122 271h1v1h-1zM139 272h2v1h-2zM148 272h1v1h-1zM171 272h1v1h-1zM345 272h1v1h-1zM373 272h1v1h-1zM382 272h1v1h-1zM412 272h1v1h-1zM534 272h1v1h-1zM567 272h1v1h-1zM581 272h1v1h-1zM668 272h1v1h-1zM815 272h1v1h-1zM857 272h1v1h-1zM1121 272h1v1h-1zM141 273h2v1h-2zM148 273h1v1h-1zM171 273h1v1h-1zM345 273h1v1h-1zM374 273h1v1h-1zM380 273h2v1h-2zM412 273h1v1h-1zM534 273h1v1h-1zM568 273h1v1h-1zM581 273h1v1h-1zM669 273h1v1h-1zM815 273h1v1h-1zM857 273h1v1h-1zM1121 273h1v1h-1zM143 274h5v1h-5zM171 274h1v1h-1zM344 274h1v1h-1zM375 274h5v1h-5zM412 274h1v1h-1zM533 274h1v1h-1zM569 274h1v1h-1zM581 274h1v1h-1zM669 274h1v1h-1zM815 274h1v1h-1zM857 274h1v1h-1zM1121 274h1v1h-1zM172 275h1v1h-1zM344 275h1v1h-1zM413 275h1v1h-1zM533 275h1v1h-1zM570 275h1v1h-1zM580 275h1v1h-1zM670 275h1v1h-1zM815 275h1v1h-1zM857 275h1v1h-1zM1121 275h1v1h-1zM172 276h1v1h-1zM344 276h1v1h-1zM413 276h1v1h-1zM532 276h1v1h-1zM571 276h1v1h-1zM580 276h1v1h-1zM670 276h1v1h-1zM815 276h1v1h-1zM857 276h1v1h-1zM1121 276h1v1h-1zM172 277h1v1h-1zM344 277h1v1h-1zM413 277h1v1h-1zM532 277h1v1h-1zM572 277h2v1h-2zM579 277h1v1h-1zM671 277h1v1h-1zM814 277h1v1h-1zM858 277h1v1h-1zM1120 277h1v1h-1zM172 278h1v1h-1zM343 278h1v1h-1zM413 278h1v1h-1zM531 278h1v1h-1zM574 278h1v1h-1zM578 278h2v1h-2zM672 278h1v1h-1zM814 278h1v1h-1zM858 278h1v1h-1zM1120 278h1v1h-1zM173 279h1v1h-1zM343 279h1v1h-1zM414 279h1v1h-1zM531 279h1v1h-1zM575 279h3v1h-3zM673 279h1v1h-1zM814 279h1v1h-1zM858 279h1v1h-1zM1120 279h1v1h-1zM173 280h1v1h-1zM343 280h1v1h-1zM414 280h1v1h-1zM530 280h1v1h-1zM673 280h1v1h-1zM814 280h1v1h-1zM858 280h1v1h-1zM1120 280h1v1h-1zM173 281h1v1h-1zM342 281h1v1h-1zM414 281h1v1h-1zM530 281h1v1h-1zM674 281h1v1h-1zM813 281h1v1h-1zM858 281h1v1h-1zM1120 281h1v1h-1zM173 282h1v1h-1zM342 282h1v1h-1zM414 282h1v1h-1zM511 282h2v1h-2zM529 282h1v1h-1zM675 282h1v1h-1zM813 282h1v1h-1zM858 282h1v1h-1zM1120 282h1v1h-1zM174 283h1v1h-1zM342 283h1v1h-1zM415 283h1v1h-1zM510 283h1v1h-1zM513 283h2v1h-2zM529 283h1v1h-1zM676 283h1v1h-1zM813 283h1v1h-1zM858 283h1v1h-1zM1119 283h1v1h-1zM174 284h1v1h-1zM341 284h1v1h-1zM415 284h1v1h-1zM509 284h1v1h-1zM515 284h3v1h-3zM528 284h1v1h-1zM676 284h1v1h-1zM813 284h1v1h-1zM858 284h1v1h-1zM1119 284h1v1h-1zM174 285h1v1h-1zM341 285h1v1h-1zM415 285h1v1h-1zM508 285h1v1h-1zM518 285h8v1h-8zM528 285h1v1h-1zM677 285h1v1h-1zM812 285h1v1h-1zM859 285h1v1h-1zM1119 285h1v1h-1zM174 286h1v1h-1zM341 286h1v1h-1zM416 286h1v1h-1zM459 286h2v1h-2zM507 286h1v1h-1zM526 286h2v1h-2zM677 286h1v1h-1zM812 286h1v1h-1zM859 286h1v1h-1zM1119 286h1v1h-1zM175 287h1v1h-1zM341 287h1v1h-1zM416 287h1v1h-1zM457 287h2v1h-2zM461 287h2v1h-2zM506 287h1v1h-1zM678 287h1v1h-1zM812 287h1v1h-1zM859 287h1v1h-1zM1119 287h1v1h-1zM175 288h1v1h-1zM340 288h1v1h-1zM416 288h1v1h-1zM455 288h2v1h-2zM463 288h1v1h-1zM506 288h1v1h-1zM678 288h1v1h-1zM812 288h1v1h-1zM859 288h1v1h-1zM1118 288h1v1h-1zM175 289h1v1h-1zM340 289h1v1h-1zM416 289h1v1h-1zM454 289h1v1h-1zM464 289h1v1h-1zM505 289h1v1h-1zM679 289h1v1h-1zM811 289h1v1h-1zM859 289h1v1h-1zM1118 289h1v1h-1zM176 290h1v1h-1zM340 290h1v1h-1zM417 290h1v1h-1zM454 290h1v1h-1zM464 290h1v1h-1zM505 290h1v1h-1zM680 290h1v1h-1zM811 290h1v1h-1zM859 290h1v1h-1zM1118 290h1v1h-1zM176 291h1v1h-1zM339 291h1v1h-1zM417 291h1v1h-1zM453 291h1v1h-1zM465 291h1v1h-1zM504 291h1v1h-1zM680 291h1v1h-1zM811 291h1v1h-1zM859 291h1v1h-1zM1118 291h1v1h-1zM176 292h1v1h-1zM339 292h1v1h-1zM417 292h1v1h-1zM453 292h1v1h-1zM466 292h1v1h-1zM504 292h1v1h-1zM681 292h1v1h-1zM715 292h1v1h-1zM811 292h1v1h-1zM859 292h1v1h-1zM1117 292h1v1h-1zM176 293h1v1h-1zM339 293h1v1h-1zM417 293h1v1h-1zM452 293h1v1h-1zM466 293h1v1h-1zM503 293h1v1h-1zM682 293h1v1h-1zM714 293h1v1h-1zM716 293h2v1h-2zM811 293h1v1h-1zM860 293h1v1h-1zM1117 293h1v1h-1zM177 294h1v1h-1zM235 294h3v1h-3zM338 294h1v1h-1zM418 294h1v1h-1zM452 294h1v1h-1zM467 294h1v1h-1zM503 294h1v1h-1zM682 294h1v1h-1zM713 294h1v1h-1zM718 294h1v1h-1zM811 294h1v1h-1zM860 294h1v1h-1zM1117 294h1v1h-1zM177 295h1v1h-1zM234 295h1v1h-1zM238 295h2v1h-2zM338 295h1v1h-1zM418 295h1v1h-1zM451 295h1v1h-1zM467 295h1v1h-1zM503 295h1v1h-1zM683 295h1v1h-1zM712 295h1v1h-1zM719 295h1v1h-1zM811 295h1v1h-1zM860 295h1v1h-1zM1117 295h1v1h-1zM177 296h1v1h-1zM234 296h1v1h-1zM240 296h2v1h-2zM337 296h1v1h-1zM418 296h1v1h-1zM450 296h1v1h-1zM468 296h1v1h-1zM502 296h1v1h-1zM683 296h1v1h-1zM711 296h1v1h-1zM719 296h1v1h-1zM810 296h1v1h-1zM860 296h1v1h-1zM1116 296h1v1h-1zM177 297h1v1h-1zM226 297h2v1h-2zM233 297h1v1h-1zM242 297h1v1h-1zM337 297h1v1h-1zM418 297h1v1h-1zM450 297h1v1h-1zM468 297h1v1h-1zM502 297h1v1h-1zM684 297h1v1h-1zM710 297h1v1h-1zM720 297h1v1h-1zM810 297h1v1h-1zM860 297h1v1h-1zM1116 297h1v1h-1zM178 298h1v1h-1zM223 298h3v1h-3zM228 298h1v1h-1zM233 298h1v1h-1zM243 298h1v1h-1zM336 298h1v1h-1zM419 298h1v1h-1zM449 298h1v1h-1zM469 298h1v1h-1zM501 298h1v1h-1zM684 298h1v1h-1zM710 298h1v1h-1zM720 298h1v1h-1zM810 298h1v1h-1zM860 298h1v1h-1zM1116 298h1v1h-1zM178 299h1v1h-1zM222 299h1v1h-1zM229 299h1v1h-1zM232 299h1v1h-1zM244 299h1v1h-1zM336 299h1v1h-1zM419 299h1v1h-1zM449 299h1v1h-1zM469 299h1v1h-1zM501 299h1v1h-1zM685 299h1v1h-1zM709 299h1v1h-1zM720 299h1v1h-1zM810 299h1v1h-1zM860 299h1v1h-1zM907 299h1v1h-1zM1116 299h1v1h-1zM178 300h1v1h-1zM221 300h1v1h-1zM230 300h1v1h-1zM232 300h1v1h-1zM244 300h1v1h-1zM335 300h1v1h-1zM420 300h1v1h-1zM448 300h1v1h-1zM470 300h1v1h-1zM500 300h1v1h-1zM685 300h1v1h-1zM708 300h1v1h-1zM721 300h1v1h-1zM810 300h1v1h-1zM861 300h1v1h-1zM907 300h1v1h-1zM1115 300h1v1h-1zM178 301h1v1h-1zM221 301h1v1h-1zM231 301h1v1h-1zM245 301h1v1h-1zM335 301h1v1h-1zM421 301h1v1h-1zM448 301h1v1h-1zM470 301h1v1h-1zM500 301h1v1h-1zM686 301h1v1h-1zM708 301h1v1h-1zM721 301h1v1h-1zM810 301h1v1h-1zM861 301h1v1h-1zM907 301h2v1h-2zM1115 301h1v1h-1zM179 302h1v1h-1zM211 302h1v1h-1zM220 302h1v1h-1zM245 302h1v1h-1zM334 302h1v1h-1zM422 302h1v1h-1zM447 302h1v1h-1zM471 302h1v1h-1zM499 302h1v1h-1zM686 302h1v1h-1zM707 302h1v1h-1zM721 302h1v1h-1zM810 302h1v1h-1zM861 302h1v1h-1zM906 302h1v1h-1zM908 302h1v1h-1zM1115 302h1v1h-1zM179 303h1v1h-1zM209 303h2v1h-2zM212 303h1v1h-1zM219 303h1v1h-1zM246 303h1v1h-1zM334 303h1v1h-1zM423 303h1v1h-1zM447 303h1v1h-1zM472 303h1v1h-1zM499 303h1v1h-1zM687 303h1v1h-1zM706 303h1v1h-1zM722 303h1v1h-1zM810 303h1v1h-1zM861 303h1v1h-1zM906 303h1v1h-1zM908 303h1v1h-1zM1115 303h1v1h-1zM179 304h1v1h-1zM207 304h2v1h-2zM213 304h1v1h-1zM218 304h1v1h-1zM246 304h1v1h-1zM250 304h2v1h-2zM333 304h1v1h-1zM424 304h1v1h-1zM446 304h1v1h-1zM472 304h1v1h-1zM499 304h1v1h-1zM687 304h1v1h-1zM706 304h1v1h-1zM722 304h1v1h-1zM809 304h1v1h-1zM861 304h1v1h-1zM906 304h1v1h-1zM909 304h1v1h-1zM1115 304h1v1h-1zM180 305h1v1h-1zM207 305h1v1h-1zM214 305h1v1h-1zM216 305h2v1h-2zM247 305h3v1h-3zM251 305h1v1h-1zM333 305h1v1h-1zM424 305h1v1h-1zM446 305h1v1h-1zM473 305h1v1h-1zM498 305h1v1h-1zM687 305h1v1h-1zM705 305h1v1h-1zM722 305h1v1h-1zM809 305h1v1h-1zM861 305h1v1h-1zM906 305h1v1h-1zM909 305h1v1h-1zM1114 305h1v1h-1zM180 306h1v1h-1zM206 306h1v1h-1zM215 306h1v1h-1zM252 306h1v1h-1zM332 306h1v1h-1zM425 306h1v1h-1zM445 306h1v1h-1zM474 306h1v1h-1zM498 306h1v1h-1zM688 306h1v1h-1zM705 306h1v1h-1zM723 306h1v1h-1zM809 306h1v1h-1zM862 306h1v1h-1zM906 306h1v1h-1zM910 306h1v1h-1zM1114 306h1v1h-1zM180 307h1v1h-1zM206 307h1v1h-1zM252 307h1v1h-1zM332 307h1v1h-1zM425 307h1v1h-1zM445 307h1v1h-1zM474 307h1v1h-1zM497 307h1v1h-1zM688 307h1v1h-1zM704 307h1v1h-1zM723 307h1v1h-1zM809 307h1v1h-1zM862 307h1v1h-1zM905 307h1v1h-1zM910 307h1v1h-1zM1114 307h1v1h-1zM180 308h1v1h-1zM205 308h1v1h-1zM253 308h1v1h-1zM331 308h1v1h-1zM426 308h1v1h-1zM444 308h1v1h-1zM475 308h1v1h-1zM497 308h1v1h-1zM689 308h1v1h-1zM704 308h1v1h-1zM723 308h1v1h-1zM809 308h1v1h-1zM862 308h1v1h-1zM905 308h1v1h-1zM910 308h1v1h-1zM1114 308h1v1h-1zM181 309h1v1h-1zM205 309h1v1h-1zM253 309h1v1h-1zM330 309h1v1h-1zM426 309h1v1h-1zM444 309h1v1h-1zM475 309h1v1h-1zM496 309h1v1h-1zM689 309h1v1h-1zM703 309h1v1h-1zM724 309h1v1h-1zM809 309h1v1h-1zM862 309h1v1h-1zM905 309h1v1h-1zM911 309h1v1h-1zM1114 309h1v1h-1zM181 310h1v1h-1zM205 310h1v1h-1zM254 310h1v1h-1zM330 310h1v1h-1zM427 310h1v1h-1zM443 310h1v1h-1zM476 310h1v1h-1zM496 310h1v1h-1zM690 310h1v1h-1zM703 310h1v1h-1zM724 310h1v1h-1zM809 310h1v1h-1zM862 310h1v1h-1zM905 310h1v1h-1zM911 310h1v1h-1zM1114 310h1v1h-1zM181 311h1v1h-1zM204 311h1v1h-1zM254 311h1v1h-1zM329 311h1v1h-1zM428 311h1v1h-1zM443 311h1v1h-1zM476 311h1v1h-1zM495 311h1v1h-1zM690 311h1v1h-1zM702 311h1v1h-1zM724 311h1v1h-1zM809 311h1v1h-1zM862 311h1v1h-1zM905 311h1v1h-1zM911 311h1v1h-1zM1113 311h1v1h-1zM182 312h1v1h-1zM204 312h1v1h-1zM255 312h1v1h-1zM328 312h1v1h-1zM429 312h1v1h-1zM441 312h2v1h-2zM477 312h1v1h-1zM495 312h1v1h-1zM691 312h1v1h-1zM702 312h1v1h-1zM724 312h1v1h-1zM809 312h1v1h-1zM862 312h1v1h-1zM904 312h1v1h-1zM911 312h1v1h-1zM1113 312h1v1h-1zM182 313h1v1h-1zM203 313h1v1h-1zM256 313h1v1h-1zM328 313h1v1h-1zM430 313h1v1h-1zM439 313h2v1h-2zM477 313h1v1h-1zM494 313h1v1h-1zM692 313h1v1h-1zM701 313h1v1h-1zM725 313h1v1h-1zM808 313h1v1h-1zM863 313h1v1h-1zM904 313h1v1h-1zM912 313h1v1h-1zM1113 313h1v1h-1zM182 314h1v1h-1zM203 314h1v1h-1zM256 314h1v1h-1zM327 314h1v1h-1zM431 314h2v1h-2zM438 314h1v1h-1zM478 314h1v1h-1zM494 314h1v1h-1zM693 314h1v1h-1zM700 314h1v1h-1zM725 314h1v1h-1zM808 314h1v1h-1zM863 314h1v1h-1zM904 314h1v1h-1zM912 314h1v1h-1zM1113 314h1v1h-1zM182 315h1v1h-1zM202 315h1v1h-1zM257 315h1v1h-1zM326 315h1v1h-1zM433 315h2v1h-2zM436 315h2v1h-2zM478 315h1v1h-1zM493 315h1v1h-1zM693 315h1v1h-1zM700 315h1v1h-1zM725 315h1v1h-1zM808 315h1v1h-1zM863 315h1v1h-1zM904 315h1v1h-1zM912 315h1v1h-1zM1113 315h1v1h-1zM183 316h1v1h-1zM202 316h1v1h-1zM257 316h1v1h-1zM326 316h1v1h-1zM435 316h1v1h-1zM479 316h1v1h-1zM493 316h1v1h-1zM694 316h1v1h-1zM698 316h2v1h-2zM726 316h1v1h-1zM808 316h1v1h-1zM863 316h1v1h-1zM904 316h1v1h-1zM912 316h1v1h-1zM1112 316h1v1h-1zM183 317h1v1h-1zM201 317h1v1h-1zM258 317h1v1h-1zM325 317h1v1h-1zM480 317h2v1h-2zM492 317h1v1h-1zM695 317h3v1h-3zM726 317h1v1h-1zM808 317h1v1h-1zM863 317h1v1h-1zM903 317h1v1h-1zM912 317h1v1h-1zM1112 317h1v1h-1zM183 318h1v1h-1zM201 318h1v1h-1zM258 318h1v1h-1zM325 318h1v1h-1zM482 318h1v1h-1zM492 318h1v1h-1zM726 318h1v1h-1zM808 318h1v1h-1zM863 318h1v1h-1zM903 318h1v1h-1zM913 318h1v1h-1zM1112 318h1v1h-1zM184 319h1v1h-1zM200 319h1v1h-1zM259 319h1v1h-1zM324 319h1v1h-1zM483 319h3v1h-3zM490 319h2v1h-2zM726 319h1v1h-1zM808 319h1v1h-1zM863 319h1v1h-1zM903 319h1v1h-1zM913 319h1v1h-1zM1112 319h1v1h-1zM184 320h1v1h-1zM200 320h1v1h-1zM259 320h1v1h-1zM324 320h1v1h-1zM486 320h4v1h-4zM727 320h1v1h-1zM808 320h1v1h-1zM863 320h1v1h-1zM903 320h1v1h-1zM913 320h1v1h-1zM1112 320h1v1h-1zM184 321h1v1h-1zM199 321h1v1h-1zM260 321h1v1h-1zM323 321h1v1h-1zM727 321h1v1h-1zM807 321h1v1h-1zM863 321h1v1h-1zM903 321h1v1h-1zM913 321h1v1h-1zM1112 321h1v1h-1zM185 322h1v1h-1zM198 322h1v1h-1zM260 322h1v1h-1zM323 322h1v1h-1zM727 322h1v1h-1zM807 322h1v1h-1zM864 322h1v1h-1zM902 322h1v1h-1zM913 322h1v1h-1zM1111 322h1v1h-1zM185 323h1v1h-1zM198 323h1v1h-1zM261 323h1v1h-1zM322 323h1v1h-1zM728 323h1v1h-1zM807 323h1v1h-1zM864 323h1v1h-1zM902 323h1v1h-1zM913 323h1v1h-1zM1111 323h1v1h-1zM185 324h1v1h-1zM197 324h1v1h-1zM261 324h1v1h-1zM322 324h1v1h-1zM728 324h1v1h-1zM807 324h1v1h-1zM864 324h1v1h-1zM902 324h1v1h-1zM914 324h1v1h-1zM1111 324h1v1h-1zM185 325h1v1h-1zM197 325h1v1h-1zM261 325h1v1h-1zM321 325h1v1h-1zM728 325h1v1h-1zM807 325h1v1h-1zM864 325h1v1h-1zM902 325h1v1h-1zM914 325h1v1h-1zM1111 325h1v1h-1zM186 326h1v1h-1zM196 326h1v1h-1zM262 326h1v1h-1zM321 326h1v1h-1zM729 326h1v1h-1zM807 326h1v1h-1zM864 326h1v1h-1zM902 326h1v1h-1zM914 326h1v1h-1zM1111 326h1v1h-1zM186 327h1v1h-1zM196 327h1v1h-1zM262 327h1v1h-1zM320 327h1v1h-1zM729 327h1v1h-1zM807 327h1v1h-1zM864 327h1v1h-1zM902 327h1v1h-1zM914 327h1v1h-1zM1110 327h1v1h-1zM186 328h1v1h-1zM195 328h1v1h-1zM263 328h1v1h-1zM320 328h1v1h-1zM730 328h1v1h-1zM807 328h1v1h-1zM864 328h1v1h-1zM901 328h1v1h-1zM914 328h1v1h-1zM1110 328h1v1h-1zM187 329h1v1h-1zM194 329h1v1h-1zM263 329h1v1h-1zM319 329h1v1h-1zM730 329h1v1h-1zM806 329h1v1h-1zM864 329h1v1h-1zM901 329h1v1h-1zM915 329h1v1h-1zM1110 329h1v1h-1zM187 330h1v1h-1zM193 330h1v1h-1zM264 330h1v1h-1zM318 330h1v1h-1zM730 330h1v1h-1zM806 330h1v1h-1zM864 330h1v1h-1zM901 330h1v1h-1zM915 330h1v1h-1zM1110 330h1v1h-1zM188 331h2v1h-2zM193 331h1v1h-1zM264 331h1v1h-1zM318 331h1v1h-1zM731 331h1v1h-1zM806 331h1v1h-1zM864 331h1v1h-1zM901 331h1v1h-1zM915 331h1v1h-1zM1110 331h1v1h-1zM190 332h1v1h-1zM192 332h1v1h-1zM265 332h1v1h-1zM317 332h1v1h-1zM731 332h1v1h-1zM806 332h1v1h-1zM865 332h1v1h-1zM901 332h1v1h-1zM915 332h1v1h-1zM1110 332h1v1h-1zM191 333h1v1h-1zM265 333h1v1h-1zM316 333h1v1h-1zM731 333h1v1h-1zM806 333h1v1h-1zM865 333h1v1h-1zM901 333h1v1h-1zM915 333h1v1h-1zM1109 333h1v1h-1zM266 334h1v1h-1zM316 334h1v1h-1zM732 334h1v1h-1zM806 334h1v1h-1zM865 334h1v1h-1zM900 334h1v1h-1zM915 334h1v1h-1zM1109 334h1v1h-1zM266 335h1v1h-1zM315 335h1v1h-1zM732 335h1v1h-1zM806 335h1v1h-1zM865 335h1v1h-1zM900 335h1v1h-1zM915 335h1v1h-1zM1109 335h1v1h-1zM267 336h1v1h-1zM314 336h1v1h-1zM732 336h1v1h-1zM805 336h1v1h-1zM865 336h1v1h-1zM900 336h1v1h-1zM916 336h1v1h-1zM1109 336h1v1h-1zM267 337h1v1h-1zM313 337h1v1h-1zM733 337h1v1h-1zM805 337h1v1h-1zM865 337h1v1h-1zM900 337h1v1h-1zM916 337h1v1h-1zM1109 337h1v1h-1zM268 338h1v1h-1zM303 338h6v1h-6zM313 338h1v1h-1zM733 338h1v1h-1zM805 338h1v1h-1zM865 338h1v1h-1zM900 338h1v1h-1zM916 338h1v1h-1zM1109 338h1v1h-1zM268 339h1v1h-1zM302 339h1v1h-1zM309 339h2v1h-2zM312 339h1v1h-1zM733 339h1v1h-1zM805 339h1v1h-1zM865 339h1v1h-1zM900 339h1v1h-1zM916 339h1v1h-1zM1108 339h1v1h-1zM269 340h1v1h-1zM302 340h1v1h-1zM311 340h1v1h-1zM733 340h1v1h-1zM805 340h1v1h-1zM865 340h1v1h-1zM899 340h1v1h-1zM916 340h1v1h-1zM1108 340h1v1h-1zM269 341h1v1h-1zM301 341h1v1h-1zM734 341h1v1h-1zM805 341h1v1h-1zM865 341h1v1h-1zM899 341h1v1h-1zM916 341h1v1h-1zM1108 341h1v1h-1zM270 342h1v1h-1zM300 342h1v1h-1zM734 342h1v1h-1zM805 342h1v1h-1zM866 342h1v1h-1zM899 342h1v1h-1zM916 342h1v1h-1zM1108 342h1v1h-1zM270 343h1v1h-1zM300 343h1v1h-1zM734 343h1v1h-1zM805 343h1v1h-1zM866 343h1v1h-1zM899 343h1v1h-1zM916 343h1v1h-1zM1108 343h1v1h-1zM271 344h1v1h-1zM299 344h1v1h-1zM735 344h1v1h-1zM804 344h1v1h-1zM866 344h1v1h-1zM899 344h1v1h-1zM916 344h1v1h-1zM1108 344h1v1h-1zM272 345h1v1h-1zM299 345h1v1h-1zM735 345h1v1h-1zM804 345h1v1h-1zM866 345h1v1h-1zM899 345h1v1h-1zM917 345h1v1h-1zM1107 345h1v1h-1zM272 346h1v1h-1zM298 346h1v1h-1zM735 346h1v1h-1zM804 346h1v1h-1zM866 346h1v1h-1zM899 346h1v1h-1zM917 346h1v1h-1zM1107 346h1v1h-1zM273 347h1v1h-1zM298 347h1v1h-1zM736 347h1v1h-1zM804 347h1v1h-1zM866 347h1v1h-1zM899 347h1v1h-1zM917 347h1v1h-1zM1107 347h1v1h-1zM274 348h1v1h-1zM297 348h1v1h-1zM736 348h1v1h-1zM804 348h1v1h-1zM866 348h1v1h-1zM898 348h1v1h-1zM917 348h1v1h-1zM1107 348h1v1h-1zM274 349h1v1h-1zM297 349h1v1h-1zM737 349h1v1h-1zM804 349h1v1h-1zM866 349h1v1h-1zM898 349h1v1h-1zM917 349h1v1h-1zM1107 349h1v1h-1zM275 350h1v1h-1zM296 350h1v1h-1zM737 350h1v1h-1zM804 350h1v1h-1zM866 350h1v1h-1zM898 350h1v1h-1zM917 350h1v1h-1zM1106 350h1v1h-1zM275 351h1v1h-1zM296 351h1v1h-1zM737 351h1v1h-1zM803 351h1v1h-1zM866 351h1v1h-1zM898 351h1v1h-1zM917 351h1v1h-1zM1106 351h1v1h-1zM276 352h1v1h-1zM295 352h1v1h-1zM738 352h1v1h-1zM803 352h1v1h-1zM867 352h1v1h-1zM898 352h1v1h-1zM917 352h1v1h-1zM1106 352h1v1h-1zM276 353h1v1h-1zM295 353h1v1h-1zM738 353h1v1h-1zM803 353h1v1h-1zM867 353h1v1h-1zM898 353h1v1h-1zM918 353h1v1h-1zM1106 353h1v1h-1zM276 354h1v1h-1zM294 354h1v1h-1zM739 354h1v1h-1zM803 354h1v1h-1zM867 354h1v1h-1zM898 354h1v1h-1zM918 354h1v1h-1zM1106 354h1v1h-1zM277 355h1v1h-1zM292 355h2v1h-2zM739 355h1v1h-1zM803 355h1v1h-1zM867 355h1v1h-1zM898 355h1v1h-1zM918 355h1v1h-1zM1105 355h1v1h-1zM277 356h1v1h-1zM291 356h1v1h-1zM739 356h1v1h-1zM803 356h1v1h-1zM867 356h1v1h-1zM898 356h1v1h-1zM918 356h1v1h-1zM1105 356h1v1h-1zM278 357h1v1h-1zM290 357h1v1h-1zM740 357h1v1h-1zM802 357h1v1h-1zM867 357h1v1h-1zM898 357h1v1h-1zM918 357h1v1h-1zM1105 357h1v1h-1zM278 358h1v1h-1zM290 358h1v1h-1zM740 358h1v1h-1zM802 358h1v1h-1zM867 358h1v1h-1zM897 358h1v1h-1zM918 358h1v1h-1zM1105 358h1v1h-1zM278 359h1v1h-1zM289 359h1v1h-1zM741 359h1v1h-1zM802 359h1v1h-1zM867 359h1v1h-1zM897 359h1v1h-1zM918 359h1v1h-1zM955 359h2v1h-2zM1104 359h1v1h-1zM279 360h1v1h-1zM288 360h1v1h-1zM741 360h1v1h-1zM802 360h1v1h-1zM867 360h1v1h-1zM897 360h1v1h-1zM918 360h1v1h-1zM955 360h1v1h-1zM957 360h2v1h-2zM1104 360h1v1h-1zM279 361h2v1h-2zM288 361h1v1h-1zM742 361h1v1h-1zM802 361h1v1h-1zM867 361h1v1h-1zM897 361h1v1h-1zM918 361h1v1h-1zM954 361h1v1h-1zM959 361h1v1h-1zM1023 361h3v1h-3zM1104 361h1v1h-1zM281 362h2v1h-2zM286 362h2v1h-2zM742 362h1v1h-1zM801 362h1v1h-1zM868 362h1v1h-1zM897 362h1v1h-1zM919 362h1v1h-1zM954 362h1v1h-1zM959 362h1v1h-1zM1022 362h1v1h-1zM1026 362h2v1h-2zM1087 362h5v1h-5zM1104 362h1v1h-1zM283 363h3v1h-3zM743 363h1v1h-1zM801 363h1v1h-1zM868 363h1v1h-1zM897 363h1v1h-1zM919 363h1v1h-1zM954 363h1v1h-1zM960 363h1v1h-1zM1022 363h1v1h-1zM1027 363h1v1h-1zM1086 363h1v1h-1zM1092 363h1v1h-1zM1104 363h1v1h-1zM743 364h1v1h-1zM801 364h1v1h-1zM868 364h1v1h-1zM897 364h1v1h-1zM919 364h1v1h-1zM953 364h1v1h-1zM960 364h1v1h-1zM1021 364h1v1h-1zM1028 364h1v1h-1zM1086 364h1v1h-1zM1093 364h1v1h-1zM1103 364h1v1h-1zM743 365h1v1h-1zM801 365h1v1h-1zM868 365h1v1h-1zM897 365h1v1h-1zM919 365h1v1h-1zM953 365h1v1h-1zM960 365h1v1h-1zM1021 365h1v1h-1zM1028 365h1v1h-1zM1085 365h1v1h-1zM1094 365h1v1h-1zM1103 365h1v1h-1zM744 366h1v1h-1zM800 366h1v1h-1zM868 366h1v1h-1zM897 366h1v1h-1zM919 366h1v1h-1zM953 366h1v1h-1zM961 366h1v1h-1zM1020 366h1v1h-1zM1028 366h1v1h-1zM1085 366h1v1h-1zM1095 366h2v1h-2zM1103 366h1v1h-1zM744 367h1v1h-1zM800 367h1v1h-1zM868 367h1v1h-1zM897 367h1v1h-1zM919 367h1v1h-1zM952 367h1v1h-1zM961 367h1v1h-1zM1020 367h1v1h-1zM1028 367h1v1h-1zM1084 367h1v1h-1zM1097 367h2v1h-2zM1101 367h2v1h-2zM744 368h1v1h-1zM800 368h1v1h-1zM868 368h1v1h-1zM896 368h1v1h-1zM919 368h1v1h-1zM952 368h1v1h-1zM961 368h1v1h-1zM1019 368h1v1h-1zM1029 368h1v1h-1zM1084 368h1v1h-1zM1099 368h2v1h-2zM745 369h1v1h-1zM800 369h1v1h-1zM868 369h1v1h-1zM896 369h1v1h-1zM920 369h1v1h-1zM952 369h1v1h-1zM962 369h1v1h-1zM1019 369h1v1h-1zM1029 369h1v1h-1zM1083 369h1v1h-1zM745 370h1v1h-1zM800 370h1v1h-1zM868 370h1v1h-1zM896 370h1v1h-1zM920 370h1v1h-1zM951 370h1v1h-1zM962 370h1v1h-1zM1019 370h1v1h-1zM1029 370h1v1h-1zM1083 370h1v1h-1zM745 371h1v1h-1zM799 371h1v1h-1zM868 371h1v1h-1zM896 371h1v1h-1zM920 371h1v1h-1zM951 371h1v1h-1zM962 371h1v1h-1zM1018 371h1v1h-1zM1030 371h1v1h-1zM1083 371h1v1h-1zM746 372h1v1h-1zM799 372h1v1h-1zM868 372h1v1h-1zM896 372h1v1h-1zM920 372h1v1h-1zM949 372h2v1h-2zM963 372h1v1h-1zM1018 372h1v1h-1zM1030 372h1v1h-1zM1082 372h1v1h-1zM746 373h1v1h-1zM799 373h1v1h-1zM869 373h1v1h-1zM896 373h1v1h-1zM920 373h1v1h-1zM947 373h2v1h-2zM963 373h1v1h-1zM1018 373h1v1h-1zM1030 373h1v1h-1zM1082 373h1v1h-1zM746 374h1v1h-1zM799 374h1v1h-1zM869 374h1v1h-1zM896 374h1v1h-1zM920 374h1v1h-1zM947 374h1v1h-1zM964 374h1v1h-1zM1018 374h1v1h-1zM1030 374h1v1h-1zM1082 374h1v1h-1zM747 375h1v1h-1zM798 375h1v1h-1zM869 375h1v1h-1zM896 375h1v1h-1zM921 375h1v1h-1zM946 375h1v1h-1zM964 375h1v1h-1zM1017 375h1v1h-1zM1031 375h1v1h-1zM1082 375h1v1h-1zM747 376h1v1h-1zM798 376h1v1h-1zM869 376h1v1h-1zM896 376h1v1h-1zM921 376h1v1h-1zM946 376h1v1h-1zM965 376h1v1h-1zM1017 376h1v1h-1zM1031 376h1v1h-1zM1081 376h1v1h-1zM747 377h1v1h-1zM798 377h1v1h-1zM869 377h1v1h-1zM896 377h1v1h-1zM921 377h1v1h-1zM946 377h1v1h-1zM966 377h1v1h-1zM1017 377h1v1h-1zM1031 377h1v1h-1zM1081 377h1v1h-1zM748 378h1v1h-1zM798 378h1v1h-1zM869 378h1v1h-1zM895 378h1v1h-1zM921 378h1v1h-1zM946 378h1v1h-1zM966 378h1v1h-1zM1017 378h1v1h-1zM1031 378h1v1h-1zM1081 378h1v1h-1zM748 379h1v1h-1zM797 379h1v1h-1zM869 379h1v1h-1zM895 379h1v1h-1zM921 379h1v1h-1zM945 379h1v1h-1zM967 379h1v1h-1zM1016 379h1v1h-1zM1032 379h1v1h-1zM1081 379h1v1h-1zM748 380h1v1h-1zM797 380h1v1h-1zM869 380h1v1h-1zM895 380h1v1h-1zM921 380h1v1h-1zM945 380h1v1h-1zM968 380h1v1h-1zM1016 380h1v1h-1zM1032 380h1v1h-1zM1080 380h1v1h-1zM749 381h1v1h-1zM797 381h1v1h-1zM869 381h1v1h-1zM895 381h1v1h-1zM922 381h1v1h-1zM945 381h1v1h-1zM969 381h1v1h-1zM1016 381h1v1h-1zM1032 381h1v1h-1zM1080 381h1v1h-1zM749 382h1v1h-1zM796 382h1v1h-1zM869 382h1v1h-1zM895 382h1v1h-1zM922 382h1v1h-1zM944 382h1v1h-1zM970 382h1v1h-1zM1016 382h1v1h-1zM1032 382h1v1h-1zM1080 382h1v1h-1zM750 383h1v1h-1zM796 383h1v1h-1zM870 383h1v1h-1zM895 383h1v1h-1zM922 383h1v1h-1zM944 383h1v1h-1zM971 383h1v1h-1zM1015 383h1v1h-1zM1032 383h1v1h-1zM1080 383h1v1h-1zM750 384h1v1h-1zM796 384h1v1h-1zM870 384h1v1h-1zM895 384h1v1h-1zM922 384h1v1h-1zM944 384h1v1h-1zM971 384h1v1h-1zM1015 384h1v1h-1zM1033 384h1v1h-1zM1079 384h1v1h-1zM750 385h1v1h-1zM796 385h1v1h-1zM870 385h1v1h-1zM895 385h1v1h-1zM922 385h1v1h-1zM944 385h1v1h-1zM972 385h1v1h-1zM1015 385h1v1h-1zM1033 385h1v1h-1zM1079 385h1v1h-1zM751 386h1v1h-1zM795 386h1v1h-1zM870 386h1v1h-1zM895 386h1v1h-1zM922 386h1v1h-1zM943 386h1v1h-1zM972 386h1v1h-1zM1015 386h1v1h-1zM1033 386h1v1h-1zM1079 386h1v1h-1zM751 387h1v1h-1zM795 387h1v1h-1zM870 387h1v1h-1zM895 387h1v1h-1zM923 387h1v1h-1zM943 387h1v1h-1zM973 387h1v1h-1zM1015 387h1v1h-1zM1033 387h1v1h-1zM1079 387h1v1h-1zM751 388h1v1h-1zM795 388h1v1h-1zM870 388h1v1h-1zM895 388h1v1h-1zM923 388h1v1h-1zM943 388h1v1h-1zM973 388h1v1h-1zM1014 388h1v1h-1zM1033 388h1v1h-1zM1078 388h1v1h-1zM752 389h1v1h-1zM794 389h1v1h-1zM870 389h1v1h-1zM894 389h1v1h-1zM923 389h1v1h-1zM942 389h1v1h-1zM973 389h1v1h-1zM1014 389h1v1h-1zM1034 389h1v1h-1zM1078 389h1v1h-1zM752 390h1v1h-1zM794 390h1v1h-1zM870 390h1v1h-1zM894 390h1v1h-1zM923 390h1v1h-1zM942 390h1v1h-1zM974 390h1v1h-1zM1014 390h1v1h-1zM1034 390h1v1h-1zM1078 390h1v1h-1zM753 391h1v1h-1zM794 391h1v1h-1zM870 391h1v1h-1zM894 391h1v1h-1zM923 391h1v1h-1zM942 391h1v1h-1zM974 391h1v1h-1zM1014 391h1v1h-1zM1034 391h1v1h-1zM1078 391h1v1h-1zM753 392h1v1h-1zM794 392h1v1h-1zM870 392h1v1h-1zM894 392h1v1h-1zM924 392h1v1h-1zM942 392h1v1h-1zM975 392h1v1h-1zM1014 392h1v1h-1zM1034 392h1v1h-1zM1078 392h1v1h-1zM754 393h1v1h-1zM793 393h1v1h-1zM870 393h1v1h-1zM894 393h1v1h-1zM924 393h1v1h-1zM941 393h1v1h-1zM975 393h1v1h-1zM1014 393h1v1h-1zM1034 393h1v1h-1zM1077 393h1v1h-1zM754 394h1v1h-1zM793 394h1v1h-1zM871 394h1v1h-1zM894 394h1v1h-1zM924 394h1v1h-1zM941 394h1v1h-1zM976 394h1v1h-1zM1013 394h1v1h-1zM1035 394h1v1h-1zM1077 394h1v1h-1zM755 395h1v1h-1zM793 395h1v1h-1zM871 395h1v1h-1zM894 395h1v1h-1zM924 395h1v1h-1zM941 395h1v1h-1zM976 395h1v1h-1zM1013 395h1v1h-1zM1035 395h1v1h-1zM1077 395h1v1h-1zM755 396h1v1h-1zM792 396h1v1h-1zM871 396h1v1h-1zM894 396h1v1h-1zM924 396h1v1h-1zM941 396h1v1h-1zM977 396h1v1h-1zM1013 396h1v1h-1zM1035 396h1v1h-1zM1077 396h1v1h-1zM755 397h1v1h-1zM792 397h1v1h-1zM871 397h1v1h-1zM894 397h1v1h-1zM924 397h1v1h-1zM940 397h1v1h-1zM977 397h1v1h-1zM1013 397h1v1h-1zM1035 397h1v1h-1zM1077 397h1v1h-1zM756 398h1v1h-1zM792 398h1v1h-1zM871 398h1v1h-1zM894 398h1v1h-1zM925 398h1v1h-1zM940 398h1v1h-1zM978 398h1v1h-1zM1013 398h1v1h-1zM1036 398h1v1h-1zM1076 398h1v1h-1zM756 399h1v1h-1zM792 399h1v1h-1zM871 399h1v1h-1zM894 399h1v1h-1zM925 399h1v1h-1zM940 399h1v1h-1zM978 399h1v1h-1zM1012 399h1v1h-1zM1036 399h1v1h-1zM1076 399h1v1h-1zM757 400h1v1h-1zM791 400h1v1h-1zM871 400h1v1h-1zM893 400h1v1h-1zM925 400h1v1h-1zM940 400h1v1h-1zM979 400h3v1h-3zM1012 400h1v1h-1zM1036 400h1v1h-1zM1076 400h1v1h-1zM757 401h1v1h-1zM791 401h1v1h-1zM871 401h1v1h-1zM893 401h1v1h-1zM925 401h1v1h-1zM939 401h1v1h-1zM982 401h2v1h-2zM1012 401h1v1h-1zM1037 401h1v1h-1zM1076 401h1v1h-1zM757 402h1v1h-1zM790 402h1v1h-1zM871 402h1v1h-1zM893 402h1v1h-1zM925 402h1v1h-1zM939 402h1v1h-1zM983 402h1v1h-1zM1012 402h1v1h-1zM1037 402h1v1h-1zM1076 402h1v1h-1zM758 403h1v1h-1zM790 403h1v1h-1zM871 403h1v1h-1zM893 403h1v1h-1zM925 403h1v1h-1zM939 403h1v1h-1zM984 403h1v1h-1zM1012 403h1v1h-1zM1037 403h1v1h-1zM1075 403h1v1h-1zM758 404h1v1h-1zM789 404h1v1h-1zM871 404h1v1h-1zM893 404h1v1h-1zM926 404h1v1h-1zM938 404h1v1h-1zM984 404h1v1h-1zM1012 404h1v1h-1zM1037 404h1v1h-1zM1075 404h1v1h-1zM759 405h1v1h-1zM789 405h1v1h-1zM871 405h1v1h-1zM893 405h1v1h-1zM926 405h1v1h-1zM938 405h1v1h-1zM985 405h1v1h-1zM1011 405h1v1h-1zM1038 405h1v1h-1zM1075 405h1v1h-1zM759 406h1v1h-1zM788 406h1v1h-1zM872 406h1v1h-1zM893 406h1v1h-1zM926 406h1v1h-1zM938 406h1v1h-1zM985 406h1v1h-1zM1011 406h1v1h-1zM1038 406h1v1h-1zM1075 406h1v1h-1zM759 407h1v1h-1zM788 407h1v1h-1zM872 407h1v1h-1zM893 407h1v1h-1zM926 407h1v1h-1zM938 407h1v1h-1zM986 407h1v1h-1zM1011 407h1v1h-1zM1038 407h1v1h-1zM1074 407h1v1h-1zM760 408h1v1h-1zM787 408h1v1h-1zM872 408h1v1h-1zM893 408h1v1h-1zM926 408h1v1h-1zM937 408h1v1h-1zM986 408h1v1h-1zM1011 408h1v1h-1zM1039 408h1v1h-1zM1074 408h1v1h-1zM760 409h1v1h-1zM787 409h1v1h-1zM872 409h1v1h-1zM893 409h1v1h-1zM926 409h1v1h-1zM937 409h1v1h-1zM987 409h1v1h-1zM1010 409h1v1h-1zM1039 409h1v1h-1zM1074 409h1v1h-1zM761 410h1v1h-1zM786 410h1v1h-1zM872 410h1v1h-1zM893 410h1v1h-1zM927 410h1v1h-1zM937 410h1v1h-1zM987 410h1v1h-1zM1010 410h1v1h-1zM1039 410h1v1h-1zM1073 410h1v1h-1zM761 411h1v1h-1zM786 411h1v1h-1zM872 411h1v1h-1zM892 411h1v1h-1zM927 411h1v1h-1zM936 411h1v1h-1zM988 411h1v1h-1zM1010 411h1v1h-1zM1040 411h1v1h-1zM1055 411h1v1h-1zM1073 411h1v1h-1zM762 412h1v1h-1zM785 412h1v1h-1zM872 412h1v1h-1zM892 412h1v1h-1zM927 412h1v1h-1zM936 412h1v1h-1zM988 412h1v1h-1zM1010 412h1v1h-1zM1040 412h1v1h-1zM1054 412h1v1h-1zM1056 412h1v1h-1zM1072 412h1v1h-1zM762 413h1v1h-1zM785 413h1v1h-1zM872 413h1v1h-1zM892 413h1v1h-1zM928 413h1v1h-1zM936 413h1v1h-1zM989 413h1v1h-1zM1009 413h1v1h-1zM1041 413h1v1h-1zM1052 413h2v1h-2zM1056 413h1v1h-1zM1072 413h1v1h-1zM763 414h1v1h-1zM784 414h1v1h-1zM872 414h1v1h-1zM892 414h1v1h-1zM929 414h1v1h-1zM936 414h1v1h-1zM989 414h1v1h-1zM1009 414h1v1h-1zM1041 414h1v1h-1zM1051 414h1v1h-1zM1057 414h1v1h-1zM1072 414h1v1h-1zM764 415h1v1h-1zM784 415h1v1h-1zM872 415h1v1h-1zM892 415h1v1h-1zM929 415h1v1h-1zM935 415h1v1h-1zM990 415h1v1h-1zM1009 415h1v1h-1zM1042 415h1v1h-1zM1050 415h1v1h-1zM1057 415h1v1h-1zM1071 415h1v1h-1zM764 416h1v1h-1zM783 416h1v1h-1zM872 416h1v1h-1zM892 416h1v1h-1zM930 416h1v1h-1zM934 416h2v1h-2zM990 416h1v1h-1zM1009 416h1v1h-1zM1042 416h1v1h-1zM1050 416h1v1h-1zM1058 416h1v1h-1zM1071 416h1v1h-1zM765 417h1v1h-1zM783 417h1v1h-1zM872 417h1v1h-1zM892 417h1v1h-1zM931 417h3v1h-3zM991 417h1v1h-1zM1008 417h1v1h-1zM1043 417h1v1h-1zM1049 417h1v1h-1zM1058 417h1v1h-1zM1070 417h1v1h-1zM766 418h1v1h-1zM782 418h1v1h-1zM872 418h1v1h-1zM892 418h1v1h-1zM991 418h1v1h-1zM1008 418h1v1h-1zM1044 418h2v1h-2zM1048 418h1v1h-1zM1059 418h2v1h-2zM1069 418h1v1h-1zM766 419h1v1h-1zM780 419h2v1h-2zM873 419h1v1h-1zM892 419h1v1h-1zM992 419h1v1h-1zM1008 419h1v1h-1zM1046 419h1v1h-1zM1048 419h1v1h-1zM1061 419h2v1h-2zM1069 419h1v1h-1zM767 420h1v1h-1zM779 420h1v1h-1zM873 420h1v1h-1zM892 420h1v1h-1zM992 420h1v1h-1zM1008 420h1v1h-1zM1047 420h1v1h-1zM1063 420h3v1h-3zM1068 420h1v1h-1zM768 421h1v1h-1zM778 421h1v1h-1zM873 421h1v1h-1zM892 421h1v1h-1zM993 421h1v1h-1zM1007 421h1v1h-1zM1066 421h2v1h-2zM769 422h1v1h-1zM776 422h2v1h-2zM873 422h1v1h-1zM891 422h1v1h-1zM993 422h1v1h-1zM1007 422h1v1h-1zM769 423h1v1h-1zM775 423h1v1h-1zM873 423h1v1h-1zM891 423h1v1h-1zM994 423h1v1h-1zM1006 423h1v1h-1zM770 424h1v1h-1zM773 424h2v1h-2zM873 424h1v1h-1zM891 424h1v1h-1zM994 424h1v1h-1zM1005 424h1v1h-1zM771 425h2v1h-2zM873 425h1v1h-1zM891 425h1v1h-1zM995 425h1v1h-1zM1005 425h1v1h-1zM873 426h1v1h-1zM891 426h1v1h-1zM996 426h2v1h-2zM1004 426h1v1h-1zM873 427h1v1h-1zM891 427h1v1h-1zM998 427h1v1h-1zM1002 427h2v1h-2zM873 428h1v1h-1zM891 428h1v1h-1zM999 428h3v1h-3zM873 429h1v1h-1zM891 429h1v1h-1zM873 430h1v1h-1zM891 430h1v1h-1zM873 431h1v1h-1zM891 431h1v1h-1zM874 432h1v1h-1zM890 432h1v1h-1zM874 433h1v1h-1zM890 433h1v1h-1zM874 434h1v1h-1zM890 434h1v1h-1zM874 435h1v1h-1zM890 435h1v1h-1zM874 436h1v1h-1zM890 436h1v1h-1zM874 437h1v1h-1zM890 437h1v1h-1zM874 438h1v1h-1zM890 438h1v1h-1zM874 439h1v1h-1zM890 439h1v1h-1zM874 440h1v1h-1zM890 440h1v1h-1zM874 441h1v1h-1zM889 441h1v1h-1zM874 442h1v1h-1zM889 442h1v1h-1zM874 443h1v1h-1zM889 443h1v1h-1zM874 444h1v1h-1zM889 444h1v1h-1zM875 445h1v1h-1zM889 445h1v1h-1zM875 446h1v1h-1zM889 446h1v1h-1zM875 447h1v1h-1zM889 447h1v1h-1zM875 448h1v1h-1zM889 448h1v1h-1zM875 449h1v1h-1zM889 449h1v1h-1zM875 450h1v1h-1zM889 450h1v1h-1zM875 451h1v1h-1zM888 451h1v1h-1zM875 452h1v1h-1zM888 452h1v1h-1zM875 453h1v1h-1zM888 453h1v1h-1zM875 454h1v1h-1zM888 454h1v1h-1zM876 455h1v1h-1zM888 455h1v1h-1zM876 456h1v1h-1zM888 456h1v1h-1zM876 457h1v1h-1zM888 457h1v1h-1zM876 458h1v1h-1zM888 458h1v1h-1zM876 459h1v1h-1zM888 459h1v1h-1zM876 460h1v1h-1zM887 460h1v1h-1zM877 461h1v1h-1zM887 461h1v1h-1zM877 462h1v1h-1zM887 462h1v1h-1zM877 463h1v1h-1zM887 463h1v1h-1zM877 464h1v1h-1zM887 464h1v1h-1zM877 465h1v1h-1zM887 465h1v1h-1zM877 466h1v1h-1zM886 466h1v1h-1zM878 467h1v1h-1zM886 467h1v1h-1zM878 468h1v1h-1zM886 468h1v1h-1zM878 469h1v1h-1zM886 469h1v1h-1zM878 470h1v1h-1zM885 470h1v1h-1zM878 471h1v1h-1zM885 471h1v1h-1zM878 472h1v1h-1zM885 472h1v1h-1zM879 473h1v1h-1zM885 473h1v1h-1zM879 474h1v1h-1zM884 474h1v1h-1zM879 475h1v1h-1zM884 475h1v1h-1zM880 476h1v1h-1zM884 476h1v1h-1zM881 477h1v1h-1zM884 477h1v1h-1zM882 478h2v1h-2zM883 479h1v1h-1z" fill="#ffa500"/><path d="M3 167h1v1h-1zM4 168h1v1h-1zM5 169h1v1h-1zM1266 169h1v1h-1zM6 170h1v1h-1zM1179 170h2v1h-2zM1265 170h1v1h-1zM7 171h1v1h-1zM1177 171h2v1h-2zM1181 171h2v1h-2zM1265 171h1v1h-1zM8 172h1v1h-1zM1175 172h2v1h-2zM1183 172h1v1h-1zM1264 172h1v1h-1zM9 173h1v1h-1zM1174 173h1v1h-1zM1184 173h1v1h-1zM1263 173h1v1h-1zM9 174h1v1h-1zM1173 174h1v1h-1zM1185 174h1v1h-1zM1262 174h1v1h-1zM10 175h1v1h-1zM1172 175h1v1h-1zM1185 175h1v1h-1zM1262 175h1v1h-1zM11 176h1v1h-1zM1171 176h1v1h-1zM1186 176h1v1h-1zM1261 176h1v1h-1zM12 177h1v1h-1zM1170 177h1v1h-1zM1187 177h2v1h-2zM1260 177h1v1h-1zM13 178h1v1h-1zM1170 178h1v1h-1zM1189 178h2v1h-2zM1194 178h4v1h-4zM1260 178h1v1h-1zM14 179h1v1h-1zM1169 179h1v1h-1zM1191 179h3v1h-3zM1198 179h2v1h-2zM1259 179h1v1h-1zM15 180h1v1h-1zM1168 180h1v1h-1zM1200 180h1v1h-1zM1258 180h1v1h-1zM16 181h1v1h-1zM1168 181h1v1h-1zM1201 181h1v1h-1zM1256 181h2v1h-2zM17 182h1v1h-1zM1167 182h1v1h-1zM1201 182h1v1h-1zM1254 182h2v1h-2zM18 183h1v1h-1zM1166 183h1v1h-1zM1202 183h1v1h-1zM1247 183h7v1h-7zM19 184h1v1h-1zM1166 184h1v1h-1zM1203 184h1v1h-1zM1245 184h2v1h-2zM20 185h1v1h-1zM1165 185h1v1h-1zM1204 185h1v1h-1zM1243 185h2v1h-2zM21 186h1v1h-1zM1164 186h1v1h-1zM1205 186h1v1h-1zM1242 186h1v1h-1zM21 187h1v1h-1zM1164 187h1v1h-1zM1205 187h1v1h-1zM1241 187h1v1h-1zM22 188h1v1h-1zM1163 188h1v1h-1zM1206 188h1v1h-1zM1241 188h1v1h-1zM23 189h1v1h-1zM1162 189h1v1h-1zM1207 189h1v1h-1zM1240 189h1v1h-1zM24 190h2v1h-2zM1162 190h1v1h-1zM1208 190h1v1h-1zM1239 190h1v1h-1zM26 191h1v1h-1zM1161 191h1v1h-1zM1208 191h1v1h-1zM1238 191h1v1h-1zM27 192h2v1h-2zM1160 192h1v1h-1zM1209 192h1v1h-1zM1237 192h1v1h-1zM29 193h2v1h-2zM1160 193h1v1h-1zM1210 193h1v1h-1zM1236 193h1v1h-1zM31 194h2v1h-2zM1159 194h1v1h-1zM1210 194h1v1h-1zM1234 194h2v1h-2zM33 195h2v1h-2zM1159 195h1v1h-1zM1211 195h3v1h-3zM1218 195h4v1h-4zM1230 195h4v1h-4zM35 196h3v1h-3zM1158 196h1v1h-1zM1214 196h4v1h-4zM1222 196h8v1h-8zM38 197h3v1h-3zM1158 197h1v1h-1zM41 198h2v1h-2zM1158 198h1v1h-1zM43 199h1v1h-1zM1157 199h1v1h-1zM44 200h2v1h-2zM1157 200h1v1h-1zM46 201h1v1h-1zM1157 201h1v1h-1zM47 202h1v1h-1zM1156 202h1v1h-1zM48 203h2v1h-2zM1156 203h1v1h-1zM50 204h1v1h-1zM1156 204h1v1h-1zM51 205h1v1h-1zM1155 205h1v1h-1zM52 206h1v1h-1zM1155 206h1v1h-1zM53 207h1v1h-1zM1155 207h1v1h-1zM54 208h1v1h-1zM1154 208h1v1h-1zM55 209h1v1h-1zM1154 209h1v1h-1zM56 210h1v1h-1zM1154 210h1v1h-1zM56 211h1v1h-1zM1154 211h1v1h-1zM57 212h1v1h-1zM1153 212h1v1h-1zM58 213h1v1h-1zM1153 213h1v1h-1zM58 214h1v1h-1zM1153 214h1v1h-1zM59 215h1v1h-1zM1153 215h1v1h-1zM60 216h1v1h-1zM1152 216h1v1h-1zM61 217h1v1h-1zM1152 217h1v1h-1zM62 218h1v1h-1zM1152 218h1v1h-1zM63 219h1v1h-1zM1152 219h1v1h-1zM64 220h1v1h-1zM855 220h2v1h-2zM1151 220h1v1h-1zM65 221h1v1h-1zM854 221h1v1h-1zM857 221h2v1h-2zM1151 221h1v1h-1zM65 222h1v1h-1zM854 222h1v1h-1zM859 222h1v1h-1zM1151 222h1v1h-1zM66 223h1v1h-1zM853 223h1v1h-1zM859 223h1v1h-1zM1151 223h1v1h-1zM67 224h1v1h-1zM852 224h1v1h-1zM860 224h1v1h-1zM1151 224h1v1h-1zM68 225h1v1h-1zM852 225h1v1h-1zM860 225h1v1h-1zM1150 225h1v1h-1zM69 226h1v1h-1zM851 226h1v1h-1zM860 226h1v1h-1zM1150 226h1v1h-1zM69 227h1v1h-1zM850 227h1v1h-1zM861 227h1v1h-1zM1150 227h1v1h-1zM70 228h1v1h-1zM848 228h2v1h-2zM861 228h1v1h-1zM1150 228h1v1h-1zM71 229h1v1h-1zM847 229h1v1h-1zM862 229h1v1h-1zM1149 229h1v1h-1zM72 230h1v1h-1zM846 230h1v1h-1zM862 230h1v1h-1zM1149 230h1v1h-1zM72 231h1v1h-1zM846 231h1v1h-1zM862 231h1v1h-1zM1149 231h1v1h-1zM73 232h1v1h-1zM115 232h7v1h-7zM845 232h1v1h-1zM863 232h1v1h-1zM1149 232h1v1h-1zM74 233h1v1h-1zM113 233h2v1h-2zM122 233h3v1h-3zM845 233h1v1h-1zM863 233h1v1h-1zM1148 233h1v1h-1zM74 234h1v1h-1zM111 234h2v1h-2zM125 234h2v1h-2zM130 234h8v1h-8zM844 234h1v1h-1zM863 234h1v1h-1zM1148 234h1v1h-1zM75 235h1v1h-1zM110 235h1v1h-1zM127 235h3v1h-3zM138 235h2v1h-2zM634 235h4v1h-4zM844 235h1v1h-1zM863 235h1v1h-1zM1148 235h1v1h-1zM76 236h1v1h-1zM109 236h1v1h-1zM140 236h1v1h-1zM630 236h4v1h-4zM638 236h3v1h-3zM843 236h1v1h-1zM864 236h1v1h-1zM1148 236h1v1h-1zM77 237h1v1h-1zM108 237h1v1h-1zM141 237h1v1h-1zM623 237h7v1h-7zM641 237h2v1h-2zM843 237h1v1h-1zM864 237h1v1h-1zM1147 237h1v1h-1zM77 238h1v1h-1zM107 238h1v1h-1zM142 238h1v1h-1zM621 238h2v1h-2zM643 238h2v1h-2zM842 238h1v1h-1zM864 238h1v1h-1zM1147 238h1v1h-1zM78 239h1v1h-1zM105 239h2v1h-2zM143 239h1v1h-1zM619 239h2v1h-2zM645 239h2v1h-2zM842 239h1v1h-1zM864 239h1v1h-1zM1147 239h1v1h-1zM79 240h1v1h-1zM103 240h2v1h-2zM144 240h1v1h-1zM617 240h2v1h-2zM647 240h1v1h-1zM841 240h1v1h-1zM864 240h1v1h-1zM1147 240h1v1h-1zM80 241h1v1h-1zM102 241h1v1h-1zM145 241h1v1h-1zM615 241h2v1h-2zM648 241h2v1h-2zM841 241h1v1h-1zM865 241h1v1h-1zM1147 241h1v1h-1zM81 242h1v1h-1zM100 242h2v1h-2zM145 242h1v1h-1zM614 242h1v1h-1zM650 242h1v1h-1zM840 242h1v1h-1zM865 242h1v1h-1zM1146 242h1v1h-1zM82 243h1v1h-1zM99 243h1v1h-1zM146 243h1v1h-1zM613 243h1v1h-1zM651 243h1v1h-1zM840 243h1v1h-1zM865 243h1v1h-1zM1146 243h1v1h-1zM83 244h3v1h-3zM97 244h2v1h-2zM147 244h1v1h-1zM612 244h1v1h-1zM652 244h1v1h-1zM839 244h1v1h-1zM865 244h1v1h-1zM1146 244h1v1h-1zM86 245h4v1h-4zM94 245h3v1h-3zM148 245h2v1h-2zM611 245h1v1h-1zM653 245h1v1h-1zM839 245h1v1h-1zM866 245h1v1h-1zM1146 245h1v1h-1zM90 246h4v1h-4zM150 246h1v1h-1zM609 246h2v1h-2zM653 246h1v1h-1zM839 246h1v1h-1zM866 246h1v1h-1zM1145 246h1v1h-1zM151 247h1v1h-1zM607 247h2v1h-2zM654 247h1v1h-1zM839 247h1v1h-1zM866 247h1v1h-1zM1145 247h1v1h-1zM152 248h2v1h-2zM605 248h2v1h-2zM655 248h1v1h-1zM838 248h1v1h-1zM866 248h1v1h-1zM1145 248h1v1h-1zM154 249h1v1h-1zM603 249h2v1h-2zM656 249h1v1h-1zM838 249h1v1h-1zM866 249h1v1h-1zM1145 249h1v1h-1zM155 250h1v1h-1zM601 250h2v1h-2zM657 250h1v1h-1zM838 250h1v1h-1zM867 250h1v1h-1zM1145 250h1v1h-1zM156 251h1v1h-1zM599 251h2v1h-2zM657 251h1v1h-1zM838 251h1v1h-1zM867 251h1v1h-1zM1144 251h1v1h-1zM157 252h1v1h-1zM598 252h1v1h-1zM658 252h1v1h-1zM837 252h1v1h-1zM867 252h1v1h-1zM1144 252h1v1h-1zM158 253h1v1h-1zM596 253h2v1h-2zM659 253h1v1h-1zM837 253h1v1h-1zM867 253h1v1h-1zM1144 253h1v1h-1zM159 254h1v1h-1zM595 254h1v1h-1zM660 254h2v1h-2zM837 254h1v1h-1zM867 254h1v1h-1zM1144 254h1v1h-1zM160 255h1v1h-1zM394 255h6v1h-6zM594 255h1v1h-1zM662 255h1v1h-1zM837 255h1v1h-1zM868 255h1v1h-1zM1143 255h1v1h-1zM161 256h1v1h-1zM391 256h3v1h-3zM400 256h2v1h-2zM593 256h1v1h-1zM663 256h2v1h-2zM836 256h1v1h-1zM868 256h1v1h-1zM1143 256h1v1h-1zM161 257h1v1h-1zM390 257h1v1h-1zM402 257h1v1h-1zM592 257h1v1h-1zM665 257h2v1h-2zM836 257h1v1h-1zM868 257h1v1h-1zM1143 257h1v1h-1zM162 258h1v1h-1zM389 258h1v1h-1zM403 258h1v1h-1zM591 258h1v1h-1zM667 258h1v1h-1zM836 258h1v1h-1zM868 258h1v1h-1zM1143 258h1v1h-1zM163 259h1v1h-1zM388 259h1v1h-1zM404 259h2v1h-2zM589 259h2v1h-2zM668 259h1v1h-1zM836 259h1v1h-1zM869 259h1v1h-1zM1142 259h1v1h-1zM164 260h1v1h-1zM387 260h1v1h-1zM406 260h1v1h-1zM587 260h2v1h-2zM669 260h1v1h-1zM835 260h1v1h-1zM869 260h1v1h-1zM1142 260h1v1h-1zM165 261h1v1h-1zM386 261h1v1h-1zM407 261h1v1h-1zM586 261h1v1h-1zM669 261h1v1h-1zM835 261h1v1h-1zM869 261h1v1h-1zM1142 261h1v1h-1zM165 262h1v1h-1zM385 262h1v1h-1zM408 262h1v1h-1zM584 262h2v1h-2zM670 262h1v1h-1zM835 262h1v1h-1zM869 262h1v1h-1zM1142 262h1v1h-1zM166 263h1v1h-1zM385 263h1v1h-1zM409 263h1v1h-1zM583 263h1v1h-1zM671 263h1v1h-1zM835 263h1v1h-1zM869 263h1v1h-1zM1141 263h1v1h-1zM167 264h1v1h-1zM384 264h1v1h-1zM410 264h1v1h-1zM582 264h1v1h-1zM672 264h1v1h-1zM835 264h1v1h-1zM870 264h1v1h-1zM1141 264h1v1h-1zM168 265h1v1h-1zM383 265h1v1h-1zM411 265h1v1h-1zM580 265h2v1h-2zM673 265h1v1h-1zM834 265h1v1h-1zM870 265h1v1h-1zM1141 265h1v1h-1zM169 266h1v1h-1zM382 266h1v1h-1zM412 266h2v1h-2zM574 266h6v1h-6zM674 266h1v1h-1zM834 266h1v1h-1zM870 266h1v1h-1zM1141 266h1v1h-1zM170 267h1v1h-1zM381 267h1v1h-1zM414 267h1v1h-1zM570 267h4v1h-4zM675 267h1v1h-1zM834 267h1v1h-1zM870 267h1v1h-1zM1140 267h1v1h-1zM171 268h1v1h-1zM380 268h1v1h-1zM415 268h1v1h-1zM567 268h3v1h-3zM676 268h2v1h-2zM834 268h1v1h-1zM871 268h1v1h-1zM1140 268h1v1h-1zM172 269h1v1h-1zM379 269h1v1h-1zM416 269h2v1h-2zM554 269h8v1h-8zM565 269h2v1h-2zM678 269h1v1h-1zM834 269h1v1h-1zM871 269h1v1h-1zM1140 269h1v1h-1zM172 270h1v1h-1zM377 270h2v1h-2zM418 270h1v1h-1zM551 270h3v1h-3zM562 270h3v1h-3zM679 270h1v1h-1zM833 270h1v1h-1zM871 270h1v1h-1zM1140 270h1v1h-1zM173 271h1v1h-1zM375 271h2v1h-2zM419 271h2v1h-2zM549 271h2v1h-2zM680 271h2v1h-2zM833 271h1v1h-1zM871 271h1v1h-1zM1139 271h1v1h-1zM174 272h1v1h-1zM374 272h1v1h-1zM421 272h2v1h-2zM547 272h2v1h-2zM682 272h1v1h-1zM833 272h1v1h-1zM871 272h1v1h-1zM1139 272h1v1h-1zM174 273h1v1h-1zM372 273h2v1h-2zM423 273h1v1h-1zM546 273h1v1h-1zM683 273h1v1h-1zM833 273h1v1h-1zM872 273h1v1h-1zM1139 273h1v1h-1zM175 274h1v1h-1zM371 274h1v1h-1zM424 274h2v1h-2zM545 274h1v1h-1zM684 274h1v1h-1zM832 274h1v1h-1zM872 274h1v1h-1zM1138 274h1v1h-1zM176 275h1v1h-1zM369 275h2v1h-2zM426 275h1v1h-1zM545 275h1v1h-1zM685 275h1v1h-1zM832 275h1v1h-1zM872 275h1v1h-1zM1138 275h1v1h-1zM176 276h1v1h-1zM367 276h2v1h-2zM427 276h1v1h-1zM544 276h1v1h-1zM686 276h1v1h-1zM832 276h1v1h-1zM872 276h1v1h-1zM1138 276h1v1h-1zM177 277h1v1h-1zM366 277h1v1h-1zM428 277h2v1h-2zM543 277h1v1h-1zM687 277h1v1h-1zM832 277h1v1h-1zM872 277h1v1h-1zM1138 277h1v1h-1zM178 278h1v1h-1zM365 278h1v1h-1zM430 278h1v1h-1zM542 278h1v1h-1zM688 278h1v1h-1zM832 278h1v1h-1zM873 278h1v1h-1zM1137 278h1v1h-1zM178 279h1v1h-1zM364 279h1v1h-1zM431 279h1v1h-1zM541 279h1v1h-1zM689 279h1v1h-1zM831 279h1v1h-1zM873 279h1v1h-1zM1137 279h1v1h-1zM179 280h1v1h-1zM363 280h1v1h-1zM432 280h1v1h-1zM541 280h1v1h-1zM689 280h1v1h-1zM831 280h1v1h-1zM873 280h1v1h-1zM1137 280h1v1h-1zM180 281h1v1h-1zM362 281h1v1h-1zM433 281h1v1h-1zM540 281h1v1h-1zM690 281h1v1h-1zM831 281h1v1h-1zM873 281h1v1h-1zM1136 281h1v1h-1zM181 282h1v1h-1zM362 282h1v1h-1zM433 282h1v1h-1zM539 282h1v1h-1zM691 282h1v1h-1zM831 282h1v1h-1zM873 282h1v1h-1zM1136 282h1v1h-1zM182 283h1v1h-1zM361 283h1v1h-1zM434 283h1v1h-1zM538 283h1v1h-1zM692 283h1v1h-1zM831 283h1v1h-1zM873 283h1v1h-1zM1136 283h1v1h-1zM183 284h1v1h-1zM360 284h1v1h-1zM435 284h2v1h-2zM537 284h1v1h-1zM693 284h1v1h-1zM830 284h1v1h-1zM874 284h1v1h-1zM1136 284h1v1h-1zM184 285h1v1h-1zM360 285h1v1h-1zM437 285h2v1h-2zM536 285h1v1h-1zM693 285h1v1h-1zM830 285h1v1h-1zM874 285h1v1h-1zM1135 285h1v1h-1zM184 286h1v1h-1zM359 286h1v1h-1zM439 286h1v1h-1zM535 286h1v1h-1zM694 286h1v1h-1zM830 286h1v1h-1zM874 286h1v1h-1zM1135 286h1v1h-1zM185 287h1v1h-1zM358 287h1v1h-1zM440 287h1v1h-1zM534 287h1v1h-1zM695 287h1v1h-1zM830 287h1v1h-1zM874 287h1v1h-1zM1135 287h1v1h-1zM186 288h1v1h-1zM357 288h1v1h-1zM441 288h1v1h-1zM534 288h1v1h-1zM696 288h2v1h-2zM830 288h1v1h-1zM874 288h1v1h-1zM1134 288h1v1h-1zM186 289h1v1h-1zM357 289h1v1h-1zM442 289h1v1h-1zM533 289h1v1h-1zM698 289h1v1h-1zM830 289h1v1h-1zM875 289h1v1h-1zM1134 289h1v1h-1zM187 290h2v1h-2zM356 290h1v1h-1zM443 290h1v1h-1zM532 290h1v1h-1zM699 290h1v1h-1zM829 290h1v1h-1zM875 290h1v1h-1zM1134 290h1v1h-1zM189 291h2v1h-2zM355 291h1v1h-1zM444 291h1v1h-1zM532 291h1v1h-1zM700 291h2v1h-2zM829 291h1v1h-1zM875 291h1v1h-1zM1133 291h1v1h-1zM191 292h2v1h-2zM354 292h1v1h-1zM445 292h1v1h-1zM531 292h1v1h-1zM702 292h1v1h-1zM829 292h1v1h-1zM875 292h1v1h-1zM1133 292h1v1h-1zM193 293h2v1h-2zM354 293h1v1h-1zM446 293h1v1h-1zM530 293h1v1h-1zM703 293h2v1h-2zM829 293h1v1h-1zM875 293h1v1h-1zM1133 293h1v1h-1zM195 294h2v1h-2zM353 294h1v1h-1zM447 294h1v1h-1zM529 294h1v1h-1zM705 294h2v1h-2zM829 294h1v1h-1zM876 294h1v1h-1zM1132 294h1v1h-1zM197 295h2v1h-2zM352 295h1v1h-1zM448 295h2v1h-2zM528 295h1v1h-1zM707 295h3v1h-3zM828 295h1v1h-1zM876 295h1v1h-1zM1132 295h1v1h-1zM199 296h1v1h-1zM352 296h1v1h-1zM450 296h1v1h-1zM527 296h1v1h-1zM710 296h2v1h-2zM828 296h1v1h-1zM876 296h1v1h-1zM1132 296h1v1h-1zM200 297h2v1h-2zM351 297h1v1h-1zM451 297h1v1h-1zM526 297h1v1h-1zM712 297h2v1h-2zM828 297h1v1h-1zM876 297h1v1h-1zM1131 297h1v1h-1zM202 298h1v1h-1zM350 298h1v1h-1zM452 298h2v1h-2zM524 298h2v1h-2zM714 298h1v1h-1zM828 298h1v1h-1zM876 298h1v1h-1zM1131 298h1v1h-1zM203 299h1v1h-1zM350 299h1v1h-1zM454 299h1v1h-1zM523 299h1v1h-1zM715 299h1v1h-1zM828 299h1v1h-1zM877 299h1v1h-1zM1131 299h1v1h-1zM204 300h2v1h-2zM349 300h1v1h-1zM455 300h6v1h-6zM521 300h2v1h-2zM716 300h2v1h-2zM828 300h1v1h-1zM877 300h1v1h-1zM1130 300h1v1h-1zM206 301h1v1h-1zM243 301h7v1h-7zM349 301h1v1h-1zM461 301h2v1h-2zM506 301h4v1h-4zM518 301h3v1h-3zM718 301h1v1h-1zM827 301h1v1h-1zM877 301h1v1h-1zM1130 301h1v1h-1zM207 302h1v1h-1zM242 302h1v1h-1zM250 302h3v1h-3zM348 302h1v1h-1zM463 302h3v1h-3zM498 302h8v1h-8zM510 302h8v1h-8zM719 302h1v1h-1zM827 302h1v1h-1zM877 302h1v1h-1zM1130 302h1v1h-1zM208 303h1v1h-1zM240 303h2v1h-2zM253 303h2v1h-2zM348 303h1v1h-1zM466 303h11v1h-11zM494 303h4v1h-4zM720 303h1v1h-1zM827 303h1v1h-1zM877 303h1v1h-1zM1130 303h1v1h-1zM209 304h1v1h-1zM239 304h1v1h-1zM255 304h3v1h-3zM347 304h1v1h-1zM477 304h2v1h-2zM490 304h4v1h-4zM721 304h1v1h-1zM827 304h1v1h-1zM877 304h1v1h-1zM1129 304h1v1h-1zM210 305h1v1h-1zM238 305h1v1h-1zM258 305h2v1h-2zM346 305h1v1h-1zM479 305h11v1h-11zM722 305h1v1h-1zM827 305h1v1h-1zM878 305h1v1h-1zM1129 305h1v1h-1zM211 306h1v1h-1zM236 306h2v1h-2zM260 306h1v1h-1zM346 306h1v1h-1zM723 306h1v1h-1zM826 306h1v1h-1zM878 306h1v1h-1zM1129 306h1v1h-1zM212 307h1v1h-1zM235 307h1v1h-1zM261 307h1v1h-1zM345 307h1v1h-1zM724 307h1v1h-1zM826 307h1v1h-1zM878 307h1v1h-1zM1129 307h1v1h-1zM213 308h1v1h-1zM234 308h1v1h-1zM261 308h1v1h-1zM344 308h1v1h-1zM725 308h1v1h-1zM826 308h1v1h-1zM878 308h1v1h-1zM1128 308h1v1h-1zM213 309h1v1h-1zM233 309h1v1h-1zM262 309h1v1h-1zM344 309h1v1h-1zM725 309h1v1h-1zM826 309h1v1h-1zM878 309h1v1h-1zM1128 309h1v1h-1zM214 310h1v1h-1zM232 310h1v1h-1zM263 310h1v1h-1zM343 310h1v1h-1zM726 310h1v1h-1zM826 310h1v1h-1zM879 310h1v1h-1zM1128 310h1v1h-1zM215 311h7v1h-7zM226 311h6v1h-6zM264 311h1v1h-1zM342 311h1v1h-1zM727 311h1v1h-1zM825 311h1v1h-1zM879 311h1v1h-1zM1128 311h1v1h-1zM222 312h4v1h-4zM265 312h1v1h-1zM342 312h1v1h-1zM728 312h1v1h-1zM825 312h1v1h-1zM879 312h1v1h-1zM1127 312h1v1h-1zM266 313h1v1h-1zM341 313h1v1h-1zM729 313h1v1h-1zM825 313h1v1h-1zM879 313h1v1h-1zM1127 313h1v1h-1zM267 314h2v1h-2zM341 314h1v1h-1zM730 314h1v1h-1zM825 314h1v1h-1zM879 314h1v1h-1zM1127 314h1v1h-1zM269 315h2v1h-2zM340 315h1v1h-1zM731 315h1v1h-1zM825 315h1v1h-1zM880 315h1v1h-1zM1126 315h1v1h-1zM271 316h1v1h-1zM340 316h1v1h-1zM732 316h2v1h-2zM824 316h1v1h-1zM880 316h1v1h-1zM1126 316h1v1h-1zM272 317h1v1h-1zM339 317h1v1h-1zM734 317h1v1h-1zM824 317h1v1h-1zM880 317h1v1h-1zM1126 317h1v1h-1zM273 318h1v1h-1zM339 318h1v1h-1zM735 318h1v1h-1zM824 318h1v1h-1zM880 318h1v1h-1zM1126 318h1v1h-1zM273 319h1v1h-1zM338 319h1v1h-1zM736 319h1v1h-1zM824 319h1v1h-1zM880 319h1v1h-1zM1125 319h1v1h-1zM274 320h1v1h-1zM338 320h1v1h-1zM737 320h1v1h-1zM824 320h1v1h-1zM881 320h1v1h-1zM1125 320h1v1h-1zM275 321h1v1h-1zM337 321h1v1h-1zM737 321h1v1h-1zM823 321h1v1h-1zM881 321h1v1h-1zM1125 321h1v1h-1zM276 322h1v1h-1zM337 322h1v1h-1zM738 322h1v1h-1zM823 322h1v1h-1zM881 322h1v1h-1zM1124 322h1v1h-1zM276 323h1v1h-1zM336 323h1v1h-1zM739 323h1v1h-1zM823 323h1v1h-1zM881 323h1v1h-1zM1124 323h1v1h-1zM277 324h1v1h-1zM336 324h1v1h-1zM740 324h1v1h-1zM823 324h1v1h-1zM881 324h1v1h-1zM1124 324h1v1h-1zM277 325h1v1h-1zM335 325h1v1h-1zM741 325h1v1h-1zM823 325h1v1h-1zM881 325h1v1h-1zM1124 325h1v1h-1zM278 326h1v1h-1zM335 326h1v1h-1zM741 326h1v1h-1zM822 326h1v1h-1zM882 326h1v1h-1zM1123 326h1v1h-1zM278 327h1v1h-1zM334 327h1v1h-1zM742 327h1v1h-1zM822 327h1v1h-1zM882 327h1v1h-1zM1123 327h1v1h-1zM279 328h1v1h-1zM334 328h1v1h-1zM743 328h1v1h-1zM822 328h1v1h-1zM882 328h1v1h-1zM1123 328h1v1h-1zM280 329h1v1h-1zM333 329h1v1h-1zM744 329h1v1h-1zM822 329h1v1h-1zM882 329h1v1h-1zM1122 329h1v1h-1zM281 330h1v1h-1zM333 330h1v1h-1zM745 330h1v1h-1zM822 330h1v1h-1zM882 330h1v1h-1zM1122 330h1v1h-1zM281 331h1v1h-1zM332 331h1v1h-1zM745 331h1v1h-1zM821 331h1v1h-1zM883 331h1v1h-1zM1122 331h1v1h-1zM282 332h1v1h-1zM332 332h1v1h-1zM746 332h1v1h-1zM821 332h1v1h-1zM883 332h1v1h-1zM1121 332h1v1h-1zM283 333h2v1h-2zM331 333h1v1h-1zM747 333h1v1h-1zM821 333h1v1h-1zM883 333h1v1h-1zM1121 333h1v1h-1zM285 334h2v1h-2zM330 334h1v1h-1zM748 334h1v1h-1zM821 334h1v1h-1zM883 334h1v1h-1zM1121 334h1v1h-1zM287 335h1v1h-1zM329 335h1v1h-1zM748 335h1v1h-1zM821 335h1v1h-1zM883 335h1v1h-1zM1121 335h1v1h-1zM288 336h2v1h-2zM328 336h1v1h-1zM749 336h1v1h-1zM820 336h1v1h-1zM884 336h1v1h-1zM1120 336h1v1h-1zM290 337h1v1h-1zM327 337h1v1h-1zM749 337h1v1h-1zM820 337h1v1h-1zM884 337h1v1h-1zM1120 337h1v1h-1zM291 338h1v1h-1zM326 338h1v1h-1zM750 338h1v1h-1zM820 338h1v1h-1zM884 338h1v1h-1zM1120 338h1v1h-1zM292 339h1v1h-1zM324 339h2v1h-2zM750 339h1v1h-1zM820 339h1v1h-1zM884 339h1v1h-1zM1119 339h1v1h-1zM293 340h1v1h-1zM323 340h1v1h-1zM751 340h1v1h-1zM820 340h1v1h-1zM884 340h1v1h-1zM1119 340h1v1h-1zM294 341h1v1h-1zM322 341h1v1h-1zM752 341h1v1h-1zM819 341h1v1h-1zM884 341h1v1h-1zM1119 341h1v1h-1zM295 342h2v1h-2zM321 342h1v1h-1zM752 342h1v1h-1zM819 342h1v1h-1zM885 342h1v1h-1zM1118 342h1v1h-1zM297 343h2v1h-2zM320 343h1v1h-1zM753 343h1v1h-1zM819 343h1v1h-1zM885 343h1v1h-1zM1118 343h1v1h-1zM299 344h3v1h-3zM319 344h1v1h-1zM753 344h1v1h-1zM819 344h1v1h-1zM885 344h1v1h-1zM1118 344h1v1h-1zM302 345h2v1h-2zM318 345h1v1h-1zM754 345h1v1h-1zM818 345h1v1h-1zM885 345h1v1h-1zM1117 345h1v1h-1zM304 346h2v1h-2zM317 346h1v1h-1zM754 346h1v1h-1zM818 346h1v1h-1zM885 346h1v1h-1zM1117 346h1v1h-1zM306 347h1v1h-1zM316 347h1v1h-1zM755 347h1v1h-1zM818 347h1v1h-1zM885 347h1v1h-1zM1117 347h1v1h-1zM307 348h9v1h-9zM755 348h1v1h-1zM818 348h1v1h-1zM886 348h1v1h-1zM1116 348h1v1h-1zM756 349h1v1h-1zM817 349h1v1h-1zM886 349h1v1h-1zM1116 349h1v1h-1zM756 350h1v1h-1zM817 350h1v1h-1zM886 350h1v1h-1zM1116 350h1v1h-1zM757 351h1v1h-1zM817 351h1v1h-1zM886 351h1v1h-1zM1115 351h1v1h-1zM757 352h1v1h-1zM817 352h1v1h-1zM886 352h1v1h-1zM1115 352h1v1h-1zM757 353h1v1h-1zM816 353h1v1h-1zM886 353h1v1h-1zM1115 353h1v1h-1zM758 354h1v1h-1zM816 354h1v1h-1zM887 354h1v1h-1zM1114 354h1v1h-1zM758 355h1v1h-1zM816 355h1v1h-1zM887 355h1v1h-1zM1114 355h1v1h-1zM759 356h1v1h-1zM816 356h1v1h-1zM887 356h1v1h-1zM1114 356h1v1h-1zM759 357h1v1h-1zM815 357h1v1h-1zM887 357h1v1h-1zM1113 357h1v1h-1zM759 358h1v1h-1zM815 358h1v1h-1zM888 358h1v1h-1zM1113 358h1v1h-1zM760 359h1v1h-1zM815 359h1v1h-1zM888 359h1v1h-1zM1113 359h1v1h-1zM760 360h1v1h-1zM814 360h1v1h-1zM888 360h1v1h-1zM1112 360h1v1h-1zM761 361h1v1h-1zM814 361h1v1h-1zM889 361h1v1h-1zM943 361h1v1h-1zM1112 361h1v1h-1zM761 362h1v1h-1zM814 362h1v1h-1zM889 362h1v1h-1zM942 362h1v1h-1zM944 362h1v1h-1zM1112 362h1v1h-1zM761 363h1v1h-1zM813 363h1v1h-1zM889 363h1v1h-1zM941 363h1v1h-1zM945 363h1v1h-1zM1111 363h1v1h-1zM762 364h1v1h-1zM813 364h1v1h-1zM890 364h1v1h-1zM941 364h1v1h-1zM946 364h1v1h-1zM1111 364h1v1h-1zM762 365h1v1h-1zM813 365h1v1h-1zM890 365h1v1h-1zM940 365h1v1h-1zM947 365h1v1h-1zM1111 365h1v1h-1zM763 366h1v1h-1zM812 366h1v1h-1zM890 366h1v1h-1zM939 366h1v1h-1zM948 366h1v1h-1zM1110 366h1v1h-1zM763 367h1v1h-1zM812 367h1v1h-1zM891 367h1v1h-1zM938 367h1v1h-1zM948 367h1v1h-1zM1110 367h1v1h-1zM763 368h1v1h-1zM812 368h1v1h-1zM891 368h1v1h-1zM937 368h1v1h-1zM949 368h1v1h-1zM1110 368h1v1h-1zM764 369h1v1h-1zM811 369h1v1h-1zM891 369h1v1h-1zM937 369h1v1h-1zM950 369h1v1h-1zM1109 369h1v1h-1zM764 370h1v1h-1zM811 370h1v1h-1zM892 370h1v1h-1zM936 370h1v1h-1zM950 370h1v1h-1zM1109 370h1v1h-1zM764 371h1v1h-1zM811 371h1v1h-1zM892 371h1v1h-1zM935 371h1v1h-1zM951 371h1v1h-1zM1108 371h1v1h-1zM765 372h1v1h-1zM810 372h1v1h-1zM893 372h1v1h-1zM934 372h1v1h-1zM952 372h1v1h-1zM1108 372h1v1h-1zM765 373h1v1h-1zM810 373h1v1h-1zM893 373h1v1h-1zM933 373h1v1h-1zM952 373h1v1h-1zM1108 373h1v1h-1zM766 374h1v1h-1zM810 374h1v1h-1zM894 374h1v1h-1zM932 374h1v1h-1zM953 374h1v1h-1zM1107 374h1v1h-1zM766 375h1v1h-1zM809 375h1v1h-1zM894 375h1v1h-1zM899 375h2v1h-2zM931 375h1v1h-1zM954 375h1v1h-1zM1107 375h1v1h-1zM766 376h1v1h-1zM809 376h1v1h-1zM895 376h1v1h-1zM897 376h2v1h-2zM901 376h2v1h-2zM931 376h1v1h-1zM954 376h1v1h-1zM1106 376h1v1h-1zM767 377h1v1h-1zM809 377h1v1h-1zM895 377h2v1h-2zM903 377h1v1h-1zM930 377h1v1h-1zM955 377h1v1h-1zM1106 377h1v1h-1zM767 378h1v1h-1zM809 378h1v1h-1zM904 378h2v1h-2zM930 378h1v1h-1zM956 378h1v1h-1zM1105 378h1v1h-1zM767 379h1v1h-1zM808 379h1v1h-1zM906 379h1v1h-1zM929 379h1v1h-1zM957 379h1v1h-1zM1105 379h1v1h-1zM768 380h1v1h-1zM808 380h1v1h-1zM907 380h1v1h-1zM929 380h1v1h-1zM958 380h1v1h-1zM1104 380h1v1h-1zM768 381h1v1h-1zM808 381h1v1h-1zM908 381h1v1h-1zM928 381h1v1h-1zM959 381h1v1h-1zM1104 381h1v1h-1zM769 382h1v1h-1zM807 382h1v1h-1zM908 382h1v1h-1zM928 382h1v1h-1zM960 382h1v1h-1zM1103 382h1v1h-1zM769 383h1v1h-1zM807 383h1v1h-1zM909 383h1v1h-1zM927 383h1v1h-1zM960 383h1v1h-1zM1103 383h1v1h-1zM770 384h1v1h-1zM807 384h1v1h-1zM909 384h1v1h-1zM927 384h1v1h-1zM961 384h1v1h-1zM982 384h2v1h-2zM1102 384h1v1h-1zM770 385h1v1h-1zM806 385h1v1h-1zM910 385h1v1h-1zM926 385h1v1h-1zM961 385h1v1h-1zM978 385h4v1h-4zM984 385h2v1h-2zM1102 385h1v1h-1zM771 386h1v1h-1zM806 386h1v1h-1zM910 386h1v1h-1zM925 386h1v1h-1zM962 386h1v1h-1zM975 386h3v1h-3zM986 386h1v1h-1zM1101 386h1v1h-1zM771 387h1v1h-1zM806 387h1v1h-1zM911 387h1v1h-1zM925 387h1v1h-1zM962 387h1v1h-1zM974 387h1v1h-1zM987 387h2v1h-2zM1100 387h1v1h-1zM772 388h1v1h-1zM805 388h1v1h-1zM912 388h1v1h-1zM924 388h1v1h-1zM963 388h2v1h-2zM972 388h2v1h-2zM989 388h2v1h-2zM1100 388h1v1h-1zM772 389h1v1h-1zM805 389h1v1h-1zM913 389h1v1h-1zM923 389h1v1h-1zM965 389h2v1h-2zM970 389h2v1h-2zM991 389h1v1h-1zM1099 389h1v1h-1zM773 390h1v1h-1zM804 390h1v1h-1zM913 390h1v1h-1zM922 390h1v1h-1zM967 390h3v1h-3zM992 390h1v1h-1zM1098 390h1v1h-1zM774 391h1v1h-1zM804 391h1v1h-1zM914 391h1v1h-1zM921 391h1v1h-1zM992 391h1v1h-1zM1097 391h1v1h-1zM774 392h1v1h-1zM804 392h1v1h-1zM915 392h3v1h-3zM920 392h1v1h-1zM993 392h1v1h-1zM1097 392h1v1h-1zM775 393h1v1h-1zM803 393h1v1h-1zM918 393h2v1h-2zM994 393h1v1h-1zM1096 393h1v1h-1zM776 394h1v1h-1zM803 394h1v1h-1zM994 394h1v1h-1zM1094 394h2v1h-2zM777 395h1v1h-1zM802 395h1v1h-1zM995 395h1v1h-1zM1091 395h3v1h-3zM777 396h1v1h-1zM802 396h1v1h-1zM996 396h1v1h-1zM1051 396h7v1h-7zM1090 396h1v1h-1zM778 397h1v1h-1zM801 397h1v1h-1zM997 397h1v1h-1zM1022 397h4v1h-4zM1050 397h1v1h-1zM1058 397h3v1h-3zM1089 397h1v1h-1zM779 398h1v1h-1zM801 398h1v1h-1zM998 398h1v1h-1zM1019 398h3v1h-3zM1026 398h3v1h-3zM1048 398h2v1h-2zM1061 398h2v1h-2zM1088 398h1v1h-1zM780 399h1v1h-1zM800 399h1v1h-1zM999 399h1v1h-1zM1018 399h1v1h-1zM1029 399h2v1h-2zM1043 399h5v1h-5zM1063 399h1v1h-1zM1087 399h1v1h-1zM781 400h1v1h-1zM800 400h1v1h-1zM1000 400h1v1h-1zM1017 400h1v1h-1zM1031 400h2v1h-2zM1041 400h2v1h-2zM1064 400h1v1h-1zM1086 400h1v1h-1zM782 401h1v1h-1zM799 401h1v1h-1zM1001 401h1v1h-1zM1017 401h1v1h-1zM1033 401h2v1h-2zM1038 401h3v1h-3zM1065 401h1v1h-1zM1084 401h2v1h-2zM783 402h1v1h-1zM798 402h1v1h-1zM1002 402h1v1h-1zM1016 402h1v1h-1zM1035 402h3v1h-3zM1065 402h1v1h-1zM1083 402h1v1h-1zM784 403h2v1h-2zM797 403h1v1h-1zM1003 403h2v1h-2zM1015 403h1v1h-1zM1066 403h1v1h-1zM1082 403h1v1h-1zM786 404h1v1h-1zM796 404h1v1h-1zM1005 404h2v1h-2zM1014 404h1v1h-1zM1067 404h1v1h-1zM1081 404h1v1h-1zM787 405h2v1h-2zM795 405h1v1h-1zM1007 405h3v1h-3zM1012 405h2v1h-2zM1068 405h2v1h-2zM1080 405h1v1h-1zM789 406h2v1h-2zM793 406h2v1h-2zM1010 406h2v1h-2zM1070 406h1v1h-1zM1079 406h1v1h-1zM791 407h2v1h-2zM1071 407h2v1h-2zM1078 407h1v1h-1zM1073 408h2v1h-2zM1076 408h2v1h-2zM1075 409h1v1h-1z" fill="#ff0000"/><path d="M3 166h3v1h-3zM6 167h4v1h-4zM10 168h3v1h-3zM13 169h2v1h-2zM15 170h3v1h-3zM18 171h3v1h-3zM21 172h2v1h-2zM23 173h11v1h-11zM34 174h12v1h-12zM46 175h2v1h-2zM48 176h2v1h-2zM50 177h1v1h-1zM51 178h1v1h-1zM1262 178h5v1h-5zM52 179h2v1h-2zM1247 179h3v1h-3zM1254 179h8v1h-8zM54 180h1v1h-1zM1245 180h2v1h-2zM1250 180h4v1h-4zM55 181h1v1h-1zM1243 181h2v1h-2zM56 182h1v1h-1zM1241 182h2v1h-2zM57 183h1v1h-1zM1239 183h2v1h-2zM58 184h1v1h-1zM1238 184h1v1h-1zM59 185h1v1h-1zM1236 185h2v1h-2zM60 186h1v1h-1zM1235 186h1v1h-1zM61 187h1v1h-1zM1234 187h1v1h-1zM62 188h1v1h-1zM1232 188h2v1h-2zM63 189h1v1h-1zM1231 189h1v1h-1zM64 190h1v1h-1zM1229 190h2v1h-2zM65 191h1v1h-1zM1227 191h2v1h-2zM66 192h1v1h-1zM1226 192h1v1h-1zM67 193h1v1h-1zM1225 193h1v1h-1zM68 194h1v1h-1zM1224 194h1v1h-1zM69 195h1v1h-1zM1223 195h1v1h-1zM69 196h1v1h-1zM1222 196h1v1h-1zM70 197h1v1h-1zM1221 197h1v1h-1zM71 198h1v1h-1zM1221 198h1v1h-1zM72 199h1v1h-1zM1220 199h1v1h-1zM73 200h1v1h-1zM1219 200h1v1h-1zM73 201h1v1h-1zM1218 201h1v1h-1zM74 202h1v1h-1zM1217 202h1v1h-1zM75 203h1v1h-1zM1217 203h1v1h-1zM76 204h1v1h-1zM1216 204h1v1h-1zM76 205h1v1h-1zM1215 205h1v1h-1zM77 206h1v1h-1zM1214 206h1v1h-1zM78 207h1v1h-1zM1214 207h1v1h-1zM78 208h1v1h-1zM1213 208h1v1h-1zM79 209h1v1h-1zM1212 209h1v1h-1zM80 210h1v1h-1zM1212 210h1v1h-1zM81 211h1v1h-1zM1211 211h1v1h-1zM81 212h1v1h-1zM1210 212h1v1h-1zM82 213h1v1h-1zM1210 213h1v1h-1zM83 214h1v1h-1zM1209 214h1v1h-1zM84 215h2v1h-2zM1208 215h1v1h-1zM86 216h1v1h-1zM1208 216h1v1h-1zM87 217h3v1h-3zM1207 217h1v1h-1zM90 218h3v1h-3zM1206 218h1v1h-1zM93 219h2v1h-2zM1206 219h1v1h-1zM95 220h3v1h-3zM1205 220h1v1h-1zM98 221h4v1h-4zM1204 221h1v1h-1zM102 222h18v1h-18zM1204 222h1v1h-1zM120 223h1v1h-1zM1203 223h1v1h-1zM121 224h1v1h-1zM1202 224h1v1h-1zM122 225h1v1h-1zM1201 225h1v1h-1zM123 226h1v1h-1zM1201 226h1v1h-1zM124 227h2v1h-2zM1200 227h1v1h-1zM126 228h1v1h-1zM1199 228h1v1h-1zM127 229h1v1h-1zM1198 229h1v1h-1zM128 230h2v1h-2zM1197 230h1v1h-1zM130 231h1v1h-1zM1197 231h1v1h-1zM131 232h1v1h-1zM1196 232h1v1h-1zM132 233h2v1h-2zM1195 233h1v1h-1zM134 234h1v1h-1zM1194 234h1v1h-1zM135 235h2v1h-2zM1194 235h1v1h-1zM137 236h2v1h-2zM1193 236h1v1h-1zM139 237h1v1h-1zM1193 237h1v1h-1zM140 238h2v1h-2zM1192 238h1v1h-1zM142 239h1v1h-1zM1192 239h1v1h-1zM143 240h2v1h-2zM1191 240h1v1h-1zM145 241h2v1h-2zM1190 241h1v1h-1zM147 242h3v1h-3zM1190 242h1v1h-1zM150 243h3v1h-3zM1189 243h1v1h-1zM153 244h2v1h-2zM1189 244h1v1h-1zM155 245h2v1h-2zM1188 245h1v1h-1zM157 246h2v1h-2zM1188 246h1v1h-1zM159 247h3v1h-3zM1187 247h1v1h-1zM162 248h4v1h-4zM1186 248h1v1h-1zM166 249h3v1h-3zM647 249h7v1h-7zM1186 249h1v1h-1zM169 250h2v1h-2zM645 250h2v1h-2zM654 250h8v1h-8zM1185 250h1v1h-1zM171 251h2v1h-2zM638 251h7v1h-7zM662 251h4v1h-4zM1184 251h1v1h-1zM173 252h2v1h-2zM635 252h3v1h-3zM666 252h4v1h-4zM1184 252h1v1h-1zM175 253h1v1h-1zM633 253h2v1h-2zM670 253h3v1h-3zM1183 253h1v1h-1zM176 254h2v1h-2zM630 254h3v1h-3zM673 254h2v1h-2zM1182 254h1v1h-1zM178 255h1v1h-1zM619 255h11v1h-11zM675 255h3v1h-3zM1182 255h1v1h-1zM179 256h1v1h-1zM617 256h2v1h-2zM678 256h7v1h-7zM1181 256h1v1h-1zM180 257h2v1h-2zM615 257h2v1h-2zM685 257h2v1h-2zM1181 257h1v1h-1zM182 258h1v1h-1zM613 258h2v1h-2zM687 258h3v1h-3zM1180 258h1v1h-1zM183 259h1v1h-1zM611 259h2v1h-2zM690 259h3v1h-3zM1180 259h1v1h-1zM184 260h2v1h-2zM609 260h2v1h-2zM693 260h2v1h-2zM1179 260h1v1h-1zM186 261h1v1h-1zM607 261h2v1h-2zM695 261h3v1h-3zM1178 261h1v1h-1zM187 262h2v1h-2zM606 262h1v1h-1zM698 262h3v1h-3zM1178 262h1v1h-1zM189 263h2v1h-2zM604 263h2v1h-2zM701 263h2v1h-2zM1177 263h1v1h-1zM191 264h3v1h-3zM603 264h1v1h-1zM703 264h3v1h-3zM1177 264h1v1h-1zM194 265h4v1h-4zM602 265h1v1h-1zM706 265h2v1h-2zM1176 265h1v1h-1zM198 266h4v1h-4zM601 266h1v1h-1zM708 266h2v1h-2zM1176 266h1v1h-1zM202 267h2v1h-2zM600 267h1v1h-1zM710 267h1v1h-1zM1175 267h1v1h-1zM204 268h2v1h-2zM599 268h1v1h-1zM711 268h1v1h-1zM1175 268h1v1h-1zM206 269h1v1h-1zM598 269h1v1h-1zM712 269h2v1h-2zM1174 269h1v1h-1zM207 270h1v1h-1zM597 270h1v1h-1zM714 270h1v1h-1zM1174 270h1v1h-1zM208 271h2v1h-2zM596 271h1v1h-1zM715 271h1v1h-1zM1173 271h1v1h-1zM210 272h1v1h-1zM595 272h1v1h-1zM716 272h1v1h-1zM1173 272h1v1h-1zM211 273h1v1h-1zM594 273h1v1h-1zM717 273h1v1h-1zM1172 273h1v1h-1zM212 274h1v1h-1zM592 274h2v1h-2zM718 274h1v1h-1zM1172 274h1v1h-1zM213 275h1v1h-1zM591 275h1v1h-1zM719 275h1v1h-1zM1171 275h1v1h-1zM214 276h1v1h-1zM446 276h12v1h-12zM590 276h1v1h-1zM720 276h1v1h-1zM1170 276h1v1h-1zM215 277h1v1h-1zM442 277h4v1h-4zM458 277h3v1h-3zM589 277h1v1h-1zM721 277h1v1h-1zM1170 277h1v1h-1zM216 278h2v1h-2zM426 278h16v1h-16zM461 278h2v1h-2zM588 278h1v1h-1zM722 278h1v1h-1zM1169 278h1v1h-1zM218 279h1v1h-1zM422 279h4v1h-4zM463 279h2v1h-2zM587 279h1v1h-1zM723 279h1v1h-1zM1169 279h1v1h-1zM219 280h2v1h-2zM418 280h4v1h-4zM465 280h2v1h-2zM586 280h1v1h-1zM724 280h1v1h-1zM1168 280h1v1h-1zM221 281h2v1h-2zM414 281h4v1h-4zM467 281h1v1h-1zM584 281h2v1h-2zM725 281h1v1h-1zM1168 281h1v1h-1zM223 282h1v1h-1zM410 282h4v1h-4zM468 282h2v1h-2zM583 282h1v1h-1zM726 282h1v1h-1zM1167 282h1v1h-1zM224 283h2v1h-2zM407 283h3v1h-3zM470 283h1v1h-1zM581 283h2v1h-2zM727 283h1v1h-1zM1166 283h1v1h-1zM226 284h1v1h-1zM405 284h2v1h-2zM471 284h2v1h-2zM578 284h3v1h-3zM728 284h1v1h-1zM1166 284h1v1h-1zM227 285h1v1h-1zM403 285h2v1h-2zM473 285h2v1h-2zM558 285h20v1h-20zM729 285h1v1h-1zM1165 285h1v1h-1zM228 286h1v1h-1zM402 286h1v1h-1zM475 286h2v1h-2zM555 286h3v1h-3zM730 286h1v1h-1zM1165 286h1v1h-1zM229 287h1v1h-1zM400 287h2v1h-2zM477 287h2v1h-2zM553 287h2v1h-2zM731 287h1v1h-1zM1164 287h1v1h-1zM230 288h1v1h-1zM399 288h1v1h-1zM479 288h2v1h-2zM551 288h2v1h-2zM732 288h1v1h-1zM1164 288h1v1h-1zM231 289h2v1h-2zM398 289h1v1h-1zM481 289h2v1h-2zM549 289h2v1h-2zM733 289h1v1h-1zM1163 289h1v1h-1zM233 290h2v1h-2zM397 290h1v1h-1zM483 290h3v1h-3zM547 290h2v1h-2zM733 290h1v1h-1zM1163 290h1v1h-1zM235 291h2v1h-2zM396 291h1v1h-1zM486 291h4v1h-4zM546 291h1v1h-1zM734 291h1v1h-1zM1162 291h1v1h-1zM237 292h2v1h-2zM395 292h1v1h-1zM490 292h8v1h-8zM544 292h2v1h-2zM735 292h1v1h-1zM1162 292h1v1h-1zM239 293h3v1h-3zM394 293h1v1h-1zM498 293h4v1h-4zM543 293h1v1h-1zM736 293h1v1h-1zM1161 293h1v1h-1zM242 294h4v1h-4zM393 294h1v1h-1zM502 294h4v1h-4zM541 294h2v1h-2zM737 294h1v1h-1zM1161 294h1v1h-1zM246 295h3v1h-3zM392 295h1v1h-1zM506 295h3v1h-3zM539 295h2v1h-2zM738 295h1v1h-1zM1160 295h1v1h-1zM249 296h2v1h-2zM391 296h1v1h-1zM509 296h2v1h-2zM537 296h2v1h-2zM739 296h1v1h-1zM1160 296h1v1h-1zM251 297h2v1h-2zM390 297h1v1h-1zM511 297h2v1h-2zM535 297h2v1h-2zM740 297h1v1h-1zM1159 297h1v1h-1zM253 298h2v1h-2zM389 298h1v1h-1zM513 298h2v1h-2zM533 298h2v1h-2zM741 298h1v1h-1zM1158 298h1v1h-1zM255 299h3v1h-3zM389 299h1v1h-1zM515 299h3v1h-3zM530 299h3v1h-3zM742 299h1v1h-1zM1158 299h1v1h-1zM258 300h2v1h-2zM388 300h1v1h-1zM518 300h12v1h-12zM743 300h1v1h-1zM1157 300h1v1h-1zM260 301h2v1h-2zM387 301h1v1h-1zM744 301h1v1h-1zM1157 301h1v1h-1zM262 302h1v1h-1zM386 302h1v1h-1zM745 302h1v1h-1zM1156 302h1v1h-1zM263 303h1v1h-1zM385 303h1v1h-1zM745 303h1v1h-1zM1156 303h1v1h-1zM264 304h2v1h-2zM384 304h1v1h-1zM746 304h1v1h-1zM1155 304h1v1h-1zM266 305h1v1h-1zM383 305h1v1h-1zM747 305h1v1h-1zM1155 305h1v1h-1zM267 306h1v1h-1zM382 306h1v1h-1zM748 306h1v1h-1zM910 306h3v1h-3zM1155 306h1v1h-1zM268 307h2v1h-2zM380 307h2v1h-2zM749 307h1v1h-1zM907 307h3v1h-3zM913 307h2v1h-2zM1154 307h1v1h-1zM270 308h1v1h-1zM379 308h1v1h-1zM750 308h1v1h-1zM906 308h1v1h-1zM915 308h1v1h-1zM1154 308h1v1h-1zM271 309h1v1h-1zM377 309h2v1h-2zM751 309h1v1h-1zM904 309h2v1h-2zM916 309h2v1h-2zM1153 309h1v1h-1zM272 310h1v1h-1zM375 310h2v1h-2zM752 310h1v1h-1zM903 310h1v1h-1zM918 310h1v1h-1zM1153 310h1v1h-1zM273 311h1v1h-1zM373 311h2v1h-2zM752 311h1v1h-1zM901 311h2v1h-2zM919 311h1v1h-1zM1153 311h1v1h-1zM274 312h1v1h-1zM370 312h3v1h-3zM753 312h1v1h-1zM899 312h2v1h-2zM920 312h1v1h-1zM1152 312h1v1h-1zM275 313h1v1h-1zM366 313h4v1h-4zM754 313h1v1h-1zM898 313h1v1h-1zM921 313h1v1h-1zM1152 313h1v1h-1zM276 314h1v1h-1zM362 314h4v1h-4zM754 314h1v1h-1zM858 314h4v1h-4zM897 314h1v1h-1zM922 314h1v1h-1zM1151 314h1v1h-1zM277 315h1v1h-1zM358 315h4v1h-4zM755 315h1v1h-1zM855 315h3v1h-3zM862 315h2v1h-2zM897 315h1v1h-1zM923 315h1v1h-1zM1151 315h1v1h-1zM278 316h1v1h-1zM354 316h4v1h-4zM756 316h1v1h-1zM854 316h1v1h-1zM864 316h2v1h-2zM896 316h1v1h-1zM924 316h1v1h-1zM1151 316h1v1h-1zM279 317h1v1h-1zM351 317h3v1h-3zM757 317h1v1h-1zM853 317h1v1h-1zM866 317h1v1h-1zM895 317h1v1h-1zM924 317h1v1h-1zM1150 317h1v1h-1zM280 318h2v1h-2zM350 318h1v1h-1zM757 318h1v1h-1zM852 318h1v1h-1zM867 318h1v1h-1zM894 318h1v1h-1zM925 318h1v1h-1zM1150 318h1v1h-1zM282 319h1v1h-1zM348 319h2v1h-2zM758 319h1v1h-1zM851 319h1v1h-1zM868 319h2v1h-2zM893 319h1v1h-1zM926 319h1v1h-1zM1149 319h1v1h-1zM283 320h2v1h-2zM347 320h1v1h-1zM759 320h1v1h-1zM849 320h2v1h-2zM870 320h1v1h-1zM892 320h1v1h-1zM926 320h1v1h-1zM1149 320h1v1h-1zM285 321h2v1h-2zM345 321h2v1h-2zM760 321h1v1h-1zM847 321h2v1h-2zM871 321h1v1h-1zM891 321h1v1h-1zM927 321h1v1h-1zM1149 321h1v1h-1zM287 322h2v1h-2zM342 322h3v1h-3zM760 322h1v1h-1zM845 322h2v1h-2zM872 322h2v1h-2zM890 322h1v1h-1zM928 322h1v1h-1zM1148 322h1v1h-1zM289 323h2v1h-2zM302 323h4v1h-4zM338 323h4v1h-4zM761 323h1v1h-1zM843 323h2v1h-2zM874 323h1v1h-1zM889 323h1v1h-1zM929 323h1v1h-1zM1148 323h1v1h-1zM291 324h11v1h-11zM306 324h4v1h-4zM335 324h3v1h-3zM762 324h1v1h-1zM841 324h2v1h-2zM875 324h3v1h-3zM888 324h1v1h-1zM929 324h1v1h-1zM1147 324h1v1h-1zM310 325h20v1h-20zM333 325h2v1h-2zM762 325h1v1h-1zM839 325h2v1h-2zM878 325h4v1h-4zM886 325h2v1h-2zM930 325h1v1h-1zM1147 325h1v1h-1zM330 326h3v1h-3zM763 326h1v1h-1zM838 326h1v1h-1zM882 326h4v1h-4zM931 326h1v1h-1zM1147 326h1v1h-1zM764 327h1v1h-1zM837 327h1v1h-1zM932 327h1v1h-1zM1146 327h1v1h-1zM764 328h1v1h-1zM837 328h1v1h-1zM932 328h1v1h-1zM1146 328h1v1h-1zM765 329h1v1h-1zM836 329h1v1h-1zM933 329h1v1h-1zM1145 329h1v1h-1zM766 330h1v1h-1zM835 330h1v1h-1zM934 330h1v1h-1zM1145 330h1v1h-1zM766 331h1v1h-1zM834 331h1v1h-1zM934 331h1v1h-1zM1144 331h1v1h-1zM767 332h1v1h-1zM833 332h1v1h-1zM935 332h1v1h-1zM1144 332h1v1h-1zM768 333h1v1h-1zM833 333h1v1h-1zM936 333h1v1h-1zM1143 333h1v1h-1zM768 334h1v1h-1zM832 334h1v1h-1zM937 334h1v1h-1zM1143 334h1v1h-1zM769 335h1v1h-1zM831 335h1v1h-1zM938 335h1v1h-1zM1142 335h1v1h-1zM770 336h1v1h-1zM830 336h1v1h-1zM939 336h1v1h-1zM1142 336h1v1h-1zM770 337h1v1h-1zM830 337h1v1h-1zM940 337h1v1h-1zM1141 337h1v1h-1zM771 338h1v1h-1zM829 338h1v1h-1zM940 338h1v1h-1zM1141 338h1v1h-1zM772 339h1v1h-1zM829 339h1v1h-1zM941 339h1v1h-1zM1140 339h1v1h-1zM773 340h1v1h-1zM828 340h1v1h-1zM941 340h1v1h-1zM1140 340h1v1h-1zM773 341h1v1h-1zM828 341h1v1h-1zM942 341h1v1h-1zM1139 341h1v1h-1zM774 342h1v1h-1zM827 342h1v1h-1zM942 342h1v1h-1zM1138 342h1v1h-1zM775 343h1v1h-1zM826 343h1v1h-1zM943 343h1v1h-1zM1138 343h1v1h-1zM776 344h1v1h-1zM825 344h1v1h-1zM944 344h1v1h-1zM1137 344h1v1h-1zM777 345h1v1h-1zM824 345h1v1h-1zM944 345h1v1h-1zM1136 345h1v1h-1zM778 346h1v1h-1zM823 346h1v1h-1zM945 346h1v1h-1zM1136 346h1v1h-1zM779 347h1v1h-1zM822 347h1v1h-1zM945 347h1v1h-1zM1135 347h1v1h-1zM780 348h1v1h-1zM821 348h1v1h-1zM946 348h1v1h-1zM1134 348h1v1h-1zM781 349h1v1h-1zM820 349h1v1h-1zM946 349h1v1h-1zM1133 349h1v1h-1zM782 350h1v1h-1zM819 350h1v1h-1zM947 350h1v1h-1zM1133 350h1v1h-1zM783 351h1v1h-1zM818 351h1v1h-1zM947 351h1v1h-1zM1132 351h1v1h-1zM784 352h1v1h-1zM816 352h2v1h-2zM948 352h1v1h-1zM1131 352h1v1h-1zM785 353h1v1h-1zM815 353h1v1h-1zM948 353h1v1h-1zM1130 353h1v1h-1zM786 354h1v1h-1zM814 354h1v1h-1zM949 354h1v1h-1zM1130 354h1v1h-1zM787 355h1v1h-1zM812 355h2v1h-2zM949 355h1v1h-1zM1129 355h1v1h-1zM788 356h1v1h-1zM811 356h1v1h-1zM950 356h1v1h-1zM1129 356h1v1h-1zM789 357h1v1h-1zM810 357h1v1h-1zM950 357h1v1h-1zM1128 357h1v1h-1zM790 358h1v1h-1zM808 358h2v1h-2zM951 358h1v1h-1zM1128 358h1v1h-1zM791 359h3v1h-3zM807 359h1v1h-1zM951 359h1v1h-1zM1127 359h1v1h-1zM794 360h4v1h-4zM805 360h2v1h-2zM952 360h1v1h-1zM1126 360h1v1h-1zM798 361h7v1h-7zM952 361h1v1h-1zM1126 361h1v1h-1zM953 362h1v1h-1zM1125 362h1v1h-1zM953 363h1v1h-1zM1125 363h1v1h-1zM954 364h1v1h-1zM1124 364h1v1h-1zM954 365h1v1h-1zM1124 365h1v1h-1zM955 366h1v1h-1zM1123 366h1v1h-1zM956 367h1v1h-1zM1122 367h1v1h-1zM956 368h1v1h-1zM1122 368h1v1h-1zM957 369h1v1h-1zM1121 369h1v1h-1zM957 370h1v1h-1zM1120 370h1v1h-1zM958 371h1v1h-1zM1120 371h1v1h-1zM958 372h1v1h-1zM1119 372h1v1h-1zM959 373h1v1h-1zM1118 373h1v1h-1zM960 374h1v1h-1zM1118 374h1v1h-1zM961 375h1v1h-1zM1117 375h1v1h-1zM962 376h1v1h-1zM1116 376h1v1h-1zM963 377h1v1h-1zM1116 377h1v1h-1zM964 378h1v1h-1zM1115 378h1v1h-1zM965 379h1v1h-1zM1114 379h1v1h-1zM966 380h1v1h-1zM1113 380h1v1h-1zM967 381h1v1h-1zM1113 381h1v1h-1zM968 382h2v1h-2zM1006 382h3v1h-3zM1112 382h1v1h-1zM970 383h1v1h-1zM999 383h7v1h-7zM1009 383h2v1h-2zM1111 383h1v1h-1zM971 384h1v1h-1zM997 384h2v1h-2zM1011 384h3v1h-3zM1110 384h1v1h-1zM972 385h1v1h-1zM995 385h2v1h-2zM1014 385h2v1h-2zM1110 385h1v1h-1zM973 386h1v1h-1zM993 386h2v1h-2zM1016 386h2v1h-2zM1109 386h1v1h-1zM973 387h1v1h-1zM991 387h2v1h-2zM1018 387h1v1h-1zM1108 387h1v1h-1zM974 388h1v1h-1zM989 388h2v1h-2zM1019 388h2v1h-2zM1108 388h1v1h-1zM975 389h2v1h-2zM987 389h2v1h-2zM1021 389h2v1h-2zM1107 389h1v1h-1zM977 390h2v1h-2zM985 390h2v1h-2zM1023 390h1v1h-1zM1106 390h1v1h-1zM979 391h6v1h-6zM1024 391h2v1h-2zM1105 391h1v1h-1zM1026 392h1v1h-1zM1105 392h1v1h-1zM1027 393h2v1h-2zM1104 393h1v1h-1zM1029 394h2v1h-2zM1042 394h12v1h-12zM1103 394h1v1h-1zM1031 395h3v1h-3zM1038 395h4v1h-4zM1054 395h3v1h-3zM1101 395h2v1h-2zM1034 396h4v1h-4zM1057 396h2v1h-2zM1099 396h2v1h-2zM1059 397h1v1h-1zM1097 397h2v1h-2zM1060 398h2v1h-2zM1094 398h3v1h-3zM1062 399h1v1h-1zM1083 399h11v1h-11zM1063 400h2v1h-2zM1081 400h2v1h-2zM1065 401h2v1h-2zM1079 401h2v1h-2zM1067 402h7v1h-7zM1077 402h2v1h-2zM1074 403h3v1h-3z" fill="#0000ff"/><path d="M831 553h1v1h-1zM830 554h2v1h-2zM828 555h2v1h-2zM832 555h1v1h-1zM826 556h2v1h-2zM832 556h1v1h-1zM823 557h3v1h-3zM833 557h1v1h-1zM1131 557h1v1h-1zM1154 557h2v1h-2zM811 558h1v1h-1zM822 558h1v1h-1zM833 558h1v1h-1zM1130 558h1v1h-1zM1132 558h2v1h-2zM1147 558h7v1h-7zM1155 558h1v1h-1zM810 559h1v1h-1zM812 559h1v1h-1zM821 559h1v1h-1zM833 559h1v1h-1zM1128 559h2v1h-2zM1134 559h1v1h-1zM1146 559h1v1h-1zM1155 559h1v1h-1zM808 560h2v1h-2zM812 560h1v1h-1zM821 560h1v1h-1zM834 560h1v1h-1zM1127 560h1v1h-1zM1135 560h7v1h-7zM1144 560h2v1h-2zM1156 560h1v1h-1zM807 561h1v1h-1zM813 561h1v1h-1zM820 561h1v1h-1zM834 561h1v1h-1zM1126 561h1v1h-1zM1142 561h2v1h-2zM1156 561h1v1h-1zM806 562h1v1h-1zM813 562h1v1h-1zM819 562h1v1h-1zM835 562h1v1h-1zM1124 562h2v1h-2zM1156 562h1v1h-1zM806 563h1v1h-1zM814 563h1v1h-1zM818 563h1v1h-1zM835 563h1v1h-1zM1123 563h1v1h-1zM1156 563h1v1h-1zM346 564h2v1h-2zM595 564h3v1h-3zM805 564h1v1h-1zM814 564h1v1h-1zM816 564h2v1h-2zM836 564h1v1h-1zM1122 564h1v1h-1zM1157 564h1v1h-1zM343 565h3v1h-3zM348 565h1v1h-1zM593 565h2v1h-2zM598 565h2v1h-2zM805 565h1v1h-1zM815 565h1v1h-1zM836 565h1v1h-1zM1120 565h2v1h-2zM1157 565h1v1h-1zM341 566h2v1h-2zM349 566h1v1h-1zM591 566h2v1h-2zM600 566h2v1h-2zM804 566h1v1h-1zM837 566h1v1h-1zM1111 566h3v1h-3zM1118 566h2v1h-2zM1157 566h1v1h-1zM339 567h2v1h-2zM350 567h1v1h-1zM589 567h2v1h-2zM602 567h1v1h-1zM804 567h1v1h-1zM838 567h1v1h-1zM1109 567h2v1h-2zM1114 567h4v1h-4zM1157 567h1v1h-1zM338 568h1v1h-1zM351 568h3v1h-3zM390 568h4v1h-4zM547 568h1v1h-1zM587 568h2v1h-2zM603 568h1v1h-1zM803 568h1v1h-1zM838 568h1v1h-1zM1107 568h2v1h-2zM1158 568h1v1h-1zM337 569h1v1h-1zM354 569h2v1h-2zM387 569h3v1h-3zM394 569h3v1h-3zM546 569h1v1h-1zM548 569h1v1h-1zM585 569h2v1h-2zM603 569h1v1h-1zM803 569h1v1h-1zM839 569h1v1h-1zM1106 569h1v1h-1zM1158 569h1v1h-1zM337 570h1v1h-1zM356 570h1v1h-1zM386 570h1v1h-1zM397 570h2v1h-2zM535 570h1v1h-1zM544 570h2v1h-2zM548 570h1v1h-1zM583 570h2v1h-2zM604 570h1v1h-1zM802 570h1v1h-1zM839 570h1v1h-1zM1106 570h1v1h-1zM1158 570h1v1h-1zM1195 570h1v1h-1zM1263 570h2v1h-2zM336 571h1v1h-1zM357 571h1v1h-1zM385 571h1v1h-1zM399 571h1v1h-1zM533 571h2v1h-2zM536 571h2v1h-2zM543 571h1v1h-1zM549 571h1v1h-1zM583 571h1v1h-1zM604 571h1v1h-1zM801 571h1v1h-1zM840 571h1v1h-1zM1105 571h1v1h-1zM1158 571h1v1h-1zM1194 571h1v1h-1zM1196 571h1v1h-1zM1247 571h1v1h-1zM1262 571h1v1h-1zM1265 571h2v1h-2zM335 572h1v1h-1zM358 572h1v1h-1zM385 572h1v1h-1zM399 572h1v1h-1zM531 572h2v1h-2zM538 572h1v1h-1zM541 572h2v1h-2zM549 572h1v1h-1zM582 572h1v1h-1zM605 572h1v1h-1zM800 572h1v1h-1zM840 572h1v1h-1zM1105 572h1v1h-1zM1159 572h1v1h-1zM1167 572h2v1h-2zM1193 572h1v1h-1zM1196 572h1v1h-1zM1239 572h2v1h-2zM1246 572h1v1h-1zM1248 572h1v1h-1zM1262 572h1v1h-1zM334 573h1v1h-1zM359 573h1v1h-1zM384 573h1v1h-1zM400 573h1v1h-1zM530 573h1v1h-1zM539 573h2v1h-2zM550 573h1v1h-1zM582 573h1v1h-1zM605 573h1v1h-1zM615 573h1v1h-1zM798 573h2v1h-2zM840 573h1v1h-1zM1015 573h2v1h-2zM1079 573h1v1h-1zM1104 573h1v1h-1zM1159 573h2v1h-2zM1166 573h1v1h-1zM1169 573h2v1h-2zM1193 573h1v1h-1zM1197 573h1v1h-1zM1238 573h1v1h-1zM1241 573h2v1h-2zM1244 573h2v1h-2zM1249 573h1v1h-1zM1255 573h1v1h-1zM1261 573h1v1h-1zM334 574h1v1h-1zM360 574h1v1h-1zM379 574h5v1h-5zM400 574h1v1h-1zM506 574h2v1h-2zM530 574h1v1h-1zM550 574h1v1h-1zM582 574h1v1h-1zM606 574h1v1h-1zM614 574h2v1h-2zM795 574h3v1h-3zM840 574h1v1h-1zM1014 574h1v1h-1zM1017 574h2v1h-2zM1078 574h1v1h-1zM1080 574h2v1h-2zM1104 574h1v1h-1zM1161 574h2v1h-2zM1164 574h2v1h-2zM1171 574h1v1h-1zM1192 574h1v1h-1zM1198 574h1v1h-1zM1238 574h1v1h-1zM1243 574h1v1h-1zM1250 574h1v1h-1zM1253 574h2v1h-2zM1256 574h2v1h-2zM1260 574h1v1h-1zM333 575h1v1h-1zM361 575h1v1h-1zM378 575h1v1h-1zM400 575h1v1h-1zM502 575h4v1h-4zM507 575h1v1h-1zM529 575h1v1h-1zM551 575h1v1h-1zM581 575h1v1h-1zM606 575h1v1h-1zM613 575h1v1h-1zM616 575h1v1h-1zM795 575h1v1h-1zM841 575h1v1h-1zM1013 575h1v1h-1zM1019 575h1v1h-1zM1076 575h2v1h-2zM1082 575h1v1h-1zM1099 575h5v1h-5zM1163 575h1v1h-1zM1172 575h2v1h-2zM1191 575h1v1h-1zM1198 575h1v1h-1zM1237 575h1v1h-1zM1251 575h2v1h-2zM1258 575h1v1h-1zM1260 575h1v1h-1zM322 576h2v1h-2zM332 576h1v1h-1zM362 576h1v1h-1zM377 576h1v1h-1zM400 576h1v1h-1zM499 576h3v1h-3zM508 576h1v1h-1zM523 576h2v1h-2zM528 576h1v1h-1zM552 576h2v1h-2zM581 576h1v1h-1zM607 576h1v1h-1zM612 576h1v1h-1zM616 576h1v1h-1zM795 576h1v1h-1zM841 576h1v1h-1zM899 576h1v1h-1zM1013 576h1v1h-1zM1020 576h1v1h-1zM1075 576h1v1h-1zM1083 576h1v1h-1zM1098 576h1v1h-1zM1174 576h1v1h-1zM1190 576h1v1h-1zM1199 576h1v1h-1zM1237 576h1v1h-1zM1259 576h1v1h-1zM95 577h1v1h-1zM319 577h3v1h-3zM324 577h2v1h-2zM332 577h1v1h-1zM363 577h1v1h-1zM376 577h1v1h-1zM401 577h1v1h-1zM497 577h2v1h-2zM508 577h1v1h-1zM522 577h1v1h-1zM525 577h2v1h-2zM528 577h1v1h-1zM554 577h1v1h-1zM580 577h1v1h-1zM607 577h5v1h-5zM617 577h1v1h-1zM794 577h1v1h-1zM841 577h1v1h-1zM897 577h2v1h-2zM900 577h1v1h-1zM1012 577h1v1h-1zM1020 577h1v1h-1zM1074 577h1v1h-1zM1084 577h1v1h-1zM1098 577h1v1h-1zM1175 577h3v1h-3zM1190 577h1v1h-1zM1200 577h1v1h-1zM1223 577h2v1h-2zM1236 577h1v1h-1zM94 578h1v1h-1zM96 578h1v1h-1zM318 578h1v1h-1zM326 578h1v1h-1zM330 578h2v1h-2zM364 578h2v1h-2zM375 578h1v1h-1zM401 578h1v1h-1zM495 578h2v1h-2zM509 578h1v1h-1zM521 578h1v1h-1zM527 578h1v1h-1zM555 578h1v1h-1zM580 578h1v1h-1zM617 578h1v1h-1zM794 578h1v1h-1zM841 578h1v1h-1zM895 578h2v1h-2zM901 578h1v1h-1zM1011 578h1v1h-1zM1021 578h1v1h-1zM1072 578h2v1h-2zM1084 578h1v1h-1zM1097 578h1v1h-1zM1178 578h2v1h-2zM1189 578h1v1h-1zM1201 578h1v1h-1zM1221 578h2v1h-2zM1225 578h2v1h-2zM1236 578h1v1h-1zM92 579h2v1h-2zM97 579h1v1h-1zM103 579h2v1h-2zM316 579h2v1h-2zM327 579h3v1h-3zM366 579h1v1h-1zM373 579h2v1h-2zM401 579h1v1h-1zM495 579h1v1h-1zM509 579h1v1h-1zM520 579h1v1h-1zM556 579h1v1h-1zM580 579h1v1h-1zM618 579h1v1h-1zM647 579h1v1h-1zM794 579h1v1h-1zM842 579h1v1h-1zM893 579h2v1h-2zM901 579h1v1h-1zM1010 579h1v1h-1zM1022 579h1v1h-1zM1071 579h1v1h-1zM1085 579h1v1h-1zM1096 579h1v1h-1zM1180 579h2v1h-2zM1188 579h1v1h-1zM1201 579h1v1h-1zM1214 579h7v1h-7zM1227 579h9v1h-9zM91 580h1v1h-1zM98 580h1v1h-1zM101 580h2v1h-2zM105 580h2v1h-2zM315 580h1v1h-1zM367 580h6v1h-6zM401 580h1v1h-1zM447 580h6v1h-6zM494 580h1v1h-1zM510 580h1v1h-1zM519 580h1v1h-1zM557 580h1v1h-1zM579 580h1v1h-1zM618 580h1v1h-1zM646 580h1v1h-1zM648 580h2v1h-2zM794 580h1v1h-1zM842 580h1v1h-1zM855 580h1v1h-1zM891 580h2v1h-2zM902 580h1v1h-1zM1010 580h1v1h-1zM1022 580h1v1h-1zM1071 580h1v1h-1zM1086 580h1v1h-1zM1096 580h1v1h-1zM1182 580h1v1h-1zM1188 580h1v1h-1zM1202 580h1v1h-1zM1210 580h4v1h-4zM89 581h2v1h-2zM99 581h2v1h-2zM107 581h5v1h-5zM314 581h1v1h-1zM402 581h1v1h-1zM446 581h1v1h-1zM453 581h2v1h-2zM458 581h2v1h-2zM494 581h1v1h-1zM510 581h1v1h-1zM518 581h1v1h-1zM557 581h1v1h-1zM579 581h1v1h-1zM619 581h1v1h-1zM646 581h1v1h-1zM650 581h1v1h-1zM706 581h2v1h-2zM794 581h1v1h-1zM842 581h1v1h-1zM854 581h2v1h-2zM891 581h1v1h-1zM903 581h5v1h-5zM955 581h1v1h-1zM1009 581h1v1h-1zM1023 581h1v1h-1zM1070 581h1v1h-1zM1086 581h1v1h-1zM1090 581h6v1h-6zM1183 581h5v1h-5zM1203 581h7v1h-7zM87 582h2v1h-2zM112 582h1v1h-1zM219 582h7v1h-7zM314 582h1v1h-1zM402 582h1v1h-1zM445 582h1v1h-1zM455 582h3v1h-3zM460 582h1v1h-1zM494 582h1v1h-1zM511 582h1v1h-1zM516 582h2v1h-2zM558 582h1v1h-1zM577 582h2v1h-2zM619 582h1v1h-1zM645 582h1v1h-1zM651 582h1v1h-1zM703 582h3v1h-3zM708 582h1v1h-1zM793 582h1v1h-1zM842 582h1v1h-1zM853 582h1v1h-1zM856 582h1v1h-1zM890 582h1v1h-1zM908 582h1v1h-1zM942 582h4v1h-4zM954 582h1v1h-1zM956 582h2v1h-2zM1009 582h1v1h-1zM1024 582h1v1h-1zM1070 582h1v1h-1zM1087 582h3v1h-3zM11 583h3v1h-3zM87 583h1v1h-1zM113 583h1v1h-1zM219 583h1v1h-1zM226 583h2v1h-2zM235 583h3v1h-3zM313 583h1v1h-1zM402 583h1v1h-1zM444 583h1v1h-1zM460 583h1v1h-1zM493 583h1v1h-1zM511 583h5v1h-5zM559 583h1v1h-1zM567 583h10v1h-10zM620 583h1v1h-1zM639 583h2v1h-2zM644 583h1v1h-1zM652 583h1v1h-1zM703 583h1v1h-1zM708 583h1v1h-1zM793 583h1v1h-1zM843 583h1v1h-1zM853 583h1v1h-1zM856 583h1v1h-1zM890 583h1v1h-1zM909 583h1v1h-1zM939 583h3v1h-3zM946 583h3v1h-3zM953 583h1v1h-1zM958 583h1v1h-1zM1008 583h1v1h-1zM1024 583h1v1h-1zM1069 583h1v1h-1zM10 584h1v1h-1zM14 584h2v1h-2zM86 584h1v1h-1zM114 584h1v1h-1zM151 584h3v1h-3zM218 584h1v1h-1zM227 584h1v1h-1zM234 584h1v1h-1zM238 584h4v1h-4zM312 584h1v1h-1zM402 584h1v1h-1zM442 584h2v1h-2zM461 584h1v1h-1zM493 584h1v1h-1zM560 584h2v1h-2zM566 584h1v1h-1zM621 584h1v1h-1zM637 584h2v1h-2zM641 584h2v1h-2zM644 584h1v1h-1zM652 584h1v1h-1zM702 584h1v1h-1zM709 584h1v1h-1zM793 584h1v1h-1zM843 584h3v1h-3zM852 584h1v1h-1zM857 584h1v1h-1zM889 584h1v1h-1zM910 584h1v1h-1zM938 584h1v1h-1zM949 584h2v1h-2zM952 584h1v1h-1zM959 584h1v1h-1zM1008 584h1v1h-1zM1025 584h1v1h-1zM1051 584h2v1h-2zM1069 584h1v1h-1zM3 585h3v1h-3zM8 585h2v1h-2zM16 585h1v1h-1zM86 585h1v1h-1zM115 585h1v1h-1zM151 585h1v1h-1zM154 585h2v1h-2zM218 585h1v1h-1zM228 585h1v1h-1zM234 585h1v1h-1zM242 585h2v1h-2zM291 585h2v1h-2zM299 585h5v1h-5zM312 585h1v1h-1zM403 585h1v1h-1zM439 585h3v1h-3zM461 585h1v1h-1zM492 585h1v1h-1zM562 585h1v1h-1zM564 585h2v1h-2zM622 585h1v1h-1zM634 585h3v1h-3zM643 585h1v1h-1zM653 585h1v1h-1zM702 585h1v1h-1zM710 585h1v1h-1zM793 585h1v1h-1zM846 585h6v1h-6zM857 585h1v1h-1zM889 585h1v1h-1zM911 585h1v1h-1zM937 585h1v1h-1zM951 585h1v1h-1zM960 585h1v1h-1zM967 585h3v1h-3zM1007 585h1v1h-1zM1026 585h1v1h-1zM1039 585h3v1h-3zM1050 585h1v1h-1zM1053 585h2v1h-2zM1068 585h1v1h-1zM6 586h2v1h-2zM16 586h1v1h-1zM86 586h1v1h-1zM116 586h1v1h-1zM150 586h1v1h-1zM156 586h1v1h-1zM207 586h1v1h-1zM218 586h1v1h-1zM228 586h1v1h-1zM233 586h1v1h-1zM244 586h1v1h-1zM290 586h1v1h-1zM293 586h2v1h-2zM297 586h2v1h-2zM304 586h1v1h-1zM311 586h1v1h-1zM403 586h5v1h-5zM439 586h1v1h-1zM462 586h1v1h-1zM492 586h1v1h-1zM563 586h1v1h-1zM623 586h2v1h-2zM631 586h3v1h-3zM653 586h1v1h-1zM701 586h1v1h-1zM710 586h1v1h-1zM793 586h1v1h-1zM857 586h1v1h-1zM889 586h1v1h-1zM912 586h1v1h-1zM931 586h3v1h-3zM936 586h1v1h-1zM961 586h1v1h-1zM966 586h1v1h-1zM970 586h8v1h-8zM1005 586h2v1h-2zM1026 586h1v1h-1zM1038 586h1v1h-1zM1042 586h3v1h-3zM1049 586h1v1h-1zM1055 586h1v1h-1zM1068 586h1v1h-1zM17 587h1v1h-1zM85 587h1v1h-1zM117 587h1v1h-1zM150 587h1v1h-1zM157 587h1v1h-1zM206 587h1v1h-1zM208 587h2v1h-2zM217 587h1v1h-1zM229 587h1v1h-1zM233 587h1v1h-1zM245 587h1v1h-1zM290 587h1v1h-1zM295 587h2v1h-2zM305 587h1v1h-1zM310 587h1v1h-1zM408 587h1v1h-1zM438 587h1v1h-1zM462 587h1v1h-1zM487 587h2v1h-2zM492 587h1v1h-1zM625 587h2v1h-2zM629 587h2v1h-2zM654 587h1v1h-1zM701 587h1v1h-1zM711 587h2v1h-2zM792 587h1v1h-1zM858 587h1v1h-1zM888 587h1v1h-1zM913 587h1v1h-1zM930 587h1v1h-1zM934 587h2v1h-2zM962 587h1v1h-1zM964 587h2v1h-2zM978 587h3v1h-3zM1002 587h3v1h-3zM1027 587h1v1h-1zM1037 587h1v1h-1zM1045 587h2v1h-2zM1048 587h1v1h-1zM1056 587h2v1h-2zM1063 587h3v1h-3zM1067 587h1v1h-1zM18 588h1v1h-1zM85 588h1v1h-1zM117 588h1v1h-1zM150 588h1v1h-1zM158 588h1v1h-1zM205 588h1v1h-1zM210 588h1v1h-1zM217 588h1v1h-1zM229 588h1v1h-1zM232 588h1v1h-1zM245 588h1v1h-1zM289 588h1v1h-1zM305 588h1v1h-1zM309 588h1v1h-1zM409 588h1v1h-1zM438 588h1v1h-1zM463 588h3v1h-3zM486 588h1v1h-1zM489 588h3v1h-3zM627 588h2v1h-2zM654 588h1v1h-1zM667 588h1v1h-1zM701 588h1v1h-1zM713 588h2v1h-2zM792 588h1v1h-1zM858 588h1v1h-1zM888 588h1v1h-1zM914 588h1v1h-1zM929 588h1v1h-1zM963 588h1v1h-1zM981 588h2v1h-2zM999 588h3v1h-3zM1028 588h2v1h-2zM1036 588h1v1h-1zM1047 588h1v1h-1zM1058 588h1v1h-1zM1061 588h2v1h-2zM1066 588h2v1h-2zM18 589h1v1h-1zM22 589h4v1h-4zM85 589h1v1h-1zM118 589h1v1h-1zM149 589h1v1h-1zM159 589h2v1h-2zM198 589h3v1h-3zM205 589h1v1h-1zM211 589h1v1h-1zM216 589h1v1h-1zM230 589h1v1h-1zM232 589h1v1h-1zM246 589h1v1h-1zM250 589h3v1h-3zM288 589h1v1h-1zM306 589h1v1h-1zM308 589h1v1h-1zM410 589h1v1h-1zM437 589h1v1h-1zM466 589h2v1h-2zM485 589h1v1h-1zM491 589h1v1h-1zM655 589h6v1h-6zM666 589h1v1h-1zM668 589h2v1h-2zM700 589h1v1h-1zM715 589h1v1h-1zM792 589h1v1h-1zM859 589h1v1h-1zM887 589h1v1h-1zM915 589h2v1h-2zM929 589h1v1h-1zM983 589h3v1h-3zM998 589h1v1h-1zM1030 589h1v1h-1zM1034 589h2v1h-2zM1059 589h2v1h-2zM19 590h3v1h-3zM26 590h8v1h-8zM84 590h1v1h-1zM119 590h1v1h-1zM149 590h1v1h-1zM161 590h2v1h-2zM195 590h3v1h-3zM201 590h2v1h-2zM204 590h1v1h-1zM212 590h1v1h-1zM216 590h1v1h-1zM230 590h2v1h-2zM247 590h3v1h-3zM253 590h2v1h-2zM258 590h2v1h-2zM288 590h1v1h-1zM307 590h1v1h-1zM411 590h1v1h-1zM423 590h1v1h-1zM437 590h1v1h-1zM468 590h2v1h-2zM485 590h1v1h-1zM661 590h2v1h-2zM664 590h2v1h-2zM670 590h1v1h-1zM700 590h1v1h-1zM716 590h1v1h-1zM792 590h1v1h-1zM859 590h1v1h-1zM887 590h1v1h-1zM917 590h2v1h-2zM928 590h1v1h-1zM986 590h4v1h-4zM996 590h2v1h-2zM1031 590h3v1h-3zM34 591h6v1h-6zM84 591h1v1h-1zM120 591h1v1h-1zM148 591h1v1h-1zM163 591h2v1h-2zM194 591h1v1h-1zM203 591h1v1h-1zM213 591h1v1h-1zM216 591h1v1h-1zM231 591h1v1h-1zM255 591h3v1h-3zM260 591h1v1h-1zM287 591h1v1h-1zM412 591h2v1h-2zM422 591h1v1h-1zM424 591h1v1h-1zM437 591h1v1h-1zM470 591h1v1h-1zM484 591h1v1h-1zM663 591h1v1h-1zM671 591h1v1h-1zM699 591h1v1h-1zM717 591h1v1h-1zM792 591h1v1h-1zM860 591h1v1h-1zM885 591h2v1h-2zM919 591h9v1h-9zM990 591h6v1h-6zM40 592h1v1h-1zM84 592h1v1h-1zM121 592h1v1h-1zM148 592h1v1h-1zM165 592h2v1h-2zM192 592h2v1h-2zM214 592h2v1h-2zM261 592h1v1h-1zM286 592h1v1h-1zM414 592h1v1h-1zM420 592h2v1h-2zM425 592h1v1h-1zM436 592h1v1h-1zM471 592h6v1h-6zM483 592h1v1h-1zM672 592h1v1h-1zM699 592h1v1h-1zM717 592h1v1h-1zM791 592h1v1h-1zM860 592h1v1h-1zM883 592h2v1h-2zM40 593h1v1h-1zM83 593h1v1h-1zM122 593h1v1h-1zM148 593h1v1h-1zM167 593h1v1h-1zM191 593h1v1h-1zM215 593h1v1h-1zM261 593h1v1h-1zM284 593h2v1h-2zM415 593h5v1h-5zM426 593h1v1h-1zM430 593h3v1h-3zM436 593h1v1h-1zM477 593h2v1h-2zM481 593h2v1h-2zM673 593h1v1h-1zM698 593h1v1h-1zM718 593h1v1h-1zM791 593h1v1h-1zM861 593h1v1h-1zM881 593h2v1h-2zM41 594h1v1h-1zM67 594h2v1h-2zM79 594h5v1h-5zM123 594h3v1h-3zM130 594h8v1h-8zM142 594h4v1h-4zM147 594h1v1h-1zM168 594h2v1h-2zM191 594h1v1h-1zM262 594h1v1h-1zM283 594h1v1h-1zM427 594h3v1h-3zM433 594h3v1h-3zM479 594h2v1h-2zM674 594h1v1h-1zM698 594h1v1h-1zM719 594h1v1h-1zM787 594h5v1h-5zM862 594h1v1h-1zM879 594h2v1h-2zM41 595h1v1h-1zM65 595h2v1h-2zM69 595h2v1h-2zM79 595h1v1h-1zM126 595h4v1h-4zM138 595h4v1h-4zM146 595h2v1h-2zM170 595h1v1h-1zM190 595h1v1h-1zM263 595h3v1h-3zM282 595h1v1h-1zM435 595h1v1h-1zM675 595h1v1h-1zM697 595h1v1h-1zM720 595h2v1h-2zM785 595h2v1h-2zM862 595h1v1h-1zM878 595h1v1h-1zM42 596h1v1h-1zM63 596h2v1h-2zM71 596h1v1h-1zM78 596h1v1h-1zM171 596h1v1h-1zM190 596h1v1h-1zM266 596h10v1h-10zM282 596h1v1h-1zM676 596h2v1h-2zM697 596h1v1h-1zM722 596h1v1h-1zM778 596h7v1h-7zM863 596h1v1h-1zM878 596h1v1h-1zM42 597h1v1h-1zM51 597h1v1h-1zM62 597h1v1h-1zM71 597h1v1h-1zM78 597h1v1h-1zM172 597h1v1h-1zM190 597h1v1h-1zM276 597h1v1h-1zM281 597h1v1h-1zM678 597h1v1h-1zM682 597h3v1h-3zM696 597h1v1h-1zM723 597h2v1h-2zM775 597h3v1h-3zM864 597h1v1h-1zM877 597h1v1h-1zM43 598h2v1h-2zM50 598h1v1h-1zM52 598h2v1h-2zM60 598h2v1h-2zM72 598h1v1h-1zM77 598h1v1h-1zM172 598h1v1h-1zM189 598h1v1h-1zM277 598h1v1h-1zM280 598h1v1h-1zM679 598h3v1h-3zM685 598h2v1h-2zM696 598h1v1h-1zM725 598h2v1h-2zM775 598h1v1h-1zM865 598h1v1h-1zM877 598h1v1h-1zM45 599h2v1h-2zM48 599h2v1h-2zM54 599h1v1h-1zM58 599h2v1h-2zM72 599h1v1h-1zM77 599h1v1h-1zM173 599h1v1h-1zM189 599h1v1h-1zM278 599h1v1h-1zM280 599h1v1h-1zM687 599h3v1h-3zM695 599h1v1h-1zM727 599h3v1h-3zM774 599h1v1h-1zM866 599h1v1h-1zM876 599h1v1h-1zM47 600h1v1h-1zM55 600h3v1h-3zM73 600h1v1h-1zM77 600h1v1h-1zM173 600h1v1h-1zM188 600h1v1h-1zM279 600h1v1h-1zM690 600h6v1h-6zM730 600h3v1h-3zM774 600h1v1h-1zM867 600h3v1h-3zM876 600h1v1h-1zM73 601h1v1h-1zM76 601h1v1h-1zM174 601h1v1h-1zM188 601h1v1h-1zM733 601h2v1h-2zM774 601h1v1h-1zM870 601h4v1h-4zM875 601h1v1h-1zM74 602h1v1h-1zM76 602h1v1h-1zM174 602h1v1h-1zM188 602h1v1h-1zM735 602h3v1h-3zM773 602h1v1h-1zM874 602h2v1h-2zM74 603h2v1h-2zM175 603h3v1h-3zM187 603h1v1h-1zM738 603h3v1h-3zM773 603h1v1h-1zM75 604h1v1h-1zM178 604h10v1h-10zM741 604h2v1h-2zM773 604h1v1h-1zM743 605h1v1h-1zM772 605h1v1h-1zM744 606h1v1h-1zM772 606h1v1h-1zM745 607h1v1h-1zM772 607h1v1h-1zM746 608h1v1h-1zM771 608h1v1h-1zM747 609h11v1h-11zM771 609h1v1h-1zM758 610h4v1h-4zM770 610h1v1h-1zM762 611h3v1h-3zM769 611h1v1h-1zM765 612h2v1h-2zM768 612h1v1h-1zM767 613h1v1h-1z" fill="#1e90ff"/><rect x="3" y="686" width="1" height="4" fill="#c0c0c0"/><rect x="7" y="686" width="1" height="4" fill="#c0c0c0"/><rect x="11" y="686" width="1" height="3" fill="#c0c0c0"/><rect x="15" y="686" width="1" height="3" fill="#c0c0c0"/><rect x="19" y="686" width="1" height="4" fill="#c0c0c0"/><rect x="23" y="686" width="1" height="5" fill="#c0c0c0"/><rect x="27" y="686" width="1" height="5" fill="#c0c0c0"/><rect x="31" y="686" width="1" height="6" fill="#c0c0c0"/><rect x="35" y="686" width="1" height="6" fill="#c0c0c0"/><rect x="39" y="686" width="1" height="6" fill="#c0c0c0"/><rect x="43" y="686" width="1" height="8" fill="#c0c0c0"/><rect x="47" y="686" width="1" height="11" fill="#c0c0c0"/><rect x="51" y="686" width="1" height="12" fill="#c0c0c0"/><rect x="55" y="686" width="1" height="13" fill="#c0c0c0"/><rect x="59" y="686" width="1" height="15" fill="#c0c0c0"/><rect x="63" y="686" width="1" height="15" fill="#c0c0c0"/><rect x="67" y="686" width="1" height="15" fill="#c0c0c0"/><rect x="71" y="686" width="1" height="15" fill="#c0c0c0"/><rect x="75" y="686" width="1" height="17" fill="#c0c0c0"/><rect x="79" y="686" width="1" height="17" fill="#c0c0c0"/><rect x="83" y="686" width="1" height="17" fill="#c0c0c0"/><rect x="87" y="686" width="1" height="14" fill="#c0c0c0"/><rect x="91" y="686" width="1" height="11" fill="#c0c0c0"/><rect x="95" y="686" width="1" height="8" fill="#c0c0c0"/><rect x="99" y="686" width="1" height="6" fill="#c0c0c0"/><rect x="103" y="686" width="1" height="4" fill="#c0c0c0"/><rect x="107" y="686" width="1" height="3" fill="#c0c0c0"/><rect x="111" y="686" width="1" height="2" fill="#c0c0c0"/><rect x="115" y="686" width="1" height="2" fill="#c0c0c0"/><rect x="119" y="686" width="1" height="3" fill="#c0c0c0"/><rect x="123" y="686" width="1" height="6" fill="#c0c0c0"/><rect x="127" y="686" width="1" height="8" fill="#c0c0c0"/><rect x="131" y="686" width="1" height="9" fill="#c0c0c0"/><rect x="135" y="686" width="1" height="10" fill="#c0c0c0"/><rect x="139" y="686" width="1" height="11" fill="#c0c0c0"/><rect x="143" y="686" width="1" height="11" fill="#c0c0c0"/><rect x="147" y="686" width="1" height="12" fill="#c0c0c0"/><rect x="151" y="686" width="1" height="10" fill="#c0c0c0"/><rect x="155" y="686" width="1" height="9" fill="#c0c0c0"/><rect x="159" y="686" width="1" height="9" fill="#c0c0c0"/><rect x="163" y="686" width="1" height="9" fill="#c0c0c0"/><rect x="167" y="686" width="1" height="10" fill="#c0c0c0"/><rect x="171" y="686" width="1" height="11" fill="#c0c0c0"/><rect x="175" y="686" width="1" height="14" fill="#c0c0c0"/><rect x="179" y="686" width="1" height="16" fill="#c0c0c0"/><rect x="183" y="686" width="1" height="18" fill="#c0c0c0"/><rect x="187" y="686" width="1" height="20" fill="#c0c0c0"/><rect x="191" y="686" width="1" height="19" fill="#c0c0c0"/><rect x="195" y="686" width="1" height="18" fill="#c0c0c0"/><rect x="199" y="686" width="1" height="16" fill="#c0c0c0"/><rect x="203" y="686" width="1" height="15" fill="#c0c0c0"/><rect x="207" y="686" width="1" height="13" fill="#c0c0c0"/><rect x="211" y="686" width="1" height="13" fill="#c0c0c0"/><rect x="215" y="686" width="1" height="13" fill="#c0c0c0"/><rect x="219" y="686" width="1" height="11" fill="#c0c0c0"/><rect x="223" y="686" width="1" height="9" fill="#c0c0c0"/><rect x="227" y="686" width="1" height="7" fill="#c0c0c0"/><rect x="231" y="686" width="1" height="8" fill="#c0c0c0"/><rect x="235" y="686" width="1" height="7" fill="#c0c0c0"/><rect x="239" y="686" width="1" height="6" fill="#c0c0c0"/><rect x="243" y="686" width="1" height="6" fill="#c0c0c0"/><rect x="247" y="686" width="1" height="7" fill="#c0c0c0"/><rect x="251" y="686" width="1" height="7" fill="#c0c0c0"/><rect x="255" y="686" width="1" height="8" fill="#c0c0c0"/><rect x="259" y="686" width="1" height="8" fill="#c0c0c0"/><rect x="263" y="686" width="1" height="10" fill="#c0c0c0"/><rect x="267" y="686" width="1" height="12" fill="#c0c0c0"/><rect x="271" y="686" width="1" height="13" fill="#c0c0c0"/><rect x="275" y="686" width="1" height="14" fill="#c0c0c0"/><rect x="279" y="686" width="1" height="15" fill="#c0c0c0"/><rect x="283" y="686" width="1" height="15" fill="#c0c0c0"/><rect x="287" y="686" width="1" height="15" fill="#c0c0c0"/><rect x="291" y="686" width="1" height="13" fill="#c0c0c0"/><rect x="295" y="686" width="1" height="12" fill="#c0c0c0"/><rect x="299" y="686" width="1" height="10" fill="#c0c0c0"/><rect x="303" y="686" width="1" height="9" fill="#c0c0c0"/><rect x="307" y="686" width="1" height="9" fill="#c0c0c0"/><rect x="311" y="686" width="1" height="8" fill="#c0c0c0"/><rect x="315" y="686" width="1" height="6" fill="#c0c0c0"/><rect x="319" y="686" width="1" height="4" fill="#c0c0c0"/><rect x="323" y="686" width="1" height="2" fill="#c0c0c0"/><rect x="327" y="686" width="1" height="1" fill="#c0c0c0"/><rect x="331" y="685" width="1" height="1" fill="#c0c0c0"/><rect x="335" y="683" width="1" height="3" fill="#c0c0c0"/><rect x="339" y="680" width="1" height="6" fill="#c0c0c0"/><rect x="343" y="676" width="1" height="10" fill="#c0c0c0"/><rect x="347" y="674" width="1" height="12" fill="#c0c0c0"/><rect x="351" y="672" width="1" height="14" fill="#c0c0c0"/><rect x="355" y="671" width="1" height="15" fill="#c0c0c0"/><rect x="359" y="671" width="1" height="15" fill="#c0c0c0"/><rect x="363" y="672" width="1" height="14" fill="#c0c0c0"/><rect x="367" y="674" width="1" height="12" fill="#c0c0c0"/><rect x="371" y="675" width="1" height="11" fill="#c0c0c0"/><rect x="375" y="676" width="1" height="10" fill="#c0c0c0"/><rect x="379" y="676" width="1" height="10" fill="#c0c0c0"/><rect x="383" y="676" width="1" height="10" fill="#c0c0c0"/><rect x="387" y="675" width="1" height="11" fill="#c0c0c0"/><rect x="391" y="674" width="1" height="12" fill="#c0c0c0"/><rect x="395" y="673" width="1" height="13" fill="#c0c0c0"/><rect x="399" y="673" width="1" height="13" fill="#c0c0c0"/><rect x="403" y="676" width="1" height="10" fill="#c0c0c0"/><rect x="407" y="678" width="1" height="8" fill="#c0c0c0"/><rect x="411" y="681" width="1" height="5" fill="#c0c0c0"/><rect x="415" y="684" width="1" height="2" fill="#c0c0c0"/><rect x="423" y="686" width="1" height="1" fill="#c0c0c0"/><rect x="427" y="686" width="1" height="3" fill="#c0c0c0"/><rect x="431" y="686" width="1" height="5" fill="#c0c0c0"/><rect x="435" y="686" width="1" height="6" fill="#c0c0c0"/><rect x="439" y="686" width="1" height="6" fill="#c0c0c0"/><rect x="443" y="686" width="1" height="5" fill="#c0c0c0"/><rect x="447" y="686" width="1" height="4" fill="#c0c0c0"/><rect x="451" y="686" width="1" height="2" fill="#c0c0c0"/><rect x="455" y="686" width="1" height="2" fill="#c0c0c0"/><rect x="459" y="686" width="1" height="1" fill="#c0c0c0"/><rect x="463" y="686" width="1" height="2" fill="#c0c0c0"/><rect x="467" y="686" width="1" height="3" fill="#c0c0c0"/><rect x="471" y="686" width="1" height="4" fill="#c0c0c0"/><rect x="475" y="686" width="1" height="5" fill="#c0c0c0"/><rect x="479" y="686" width="1" height="6" fill="#c0c0c0"/><rect x="483" y="686" width="1" height="6" fill="#c0c0c0"/><rect x="487" y="686" width="1" height="6" fill="#c0c0c0"/><rect x="491" y="686" width="1" height="6" fill="#c0c0c0"/><rect x="495" y="686" width="1" height="4" fill="#c0c0c0"/><rect x="499" y="686" width="1" height="2" fill="#c0c0c0"/><rect x="503" y="686" width="1" height="1" fill="#c0c0c0"/><rect x="507" y="685" width="1" height="1" fill="#c0c0c0"/><rect x="511" y="685" width="1" height="1" fill="#c0c0c0"/><rect x="515" y="685" width="1" height="1" fill="#c0c0c0"/><rect x="519" y="685" width="1" height="1" fill="#c0c0c0"/><rect x="523" y="684" width="1" height="2" fill="#c0c0c0"/><rect x="527" y="683" width="1" height="3" fill="#c0c0c0"/><rect x="531" y="682" width="1" height="4" fill="#c0c0c0"/><rect x="535" y="680" width="1" height="6" fill="#c0c0c0"/><rect x="539" y="679" width="1" height="7" fill="#c0c0c0"/><rect x="543" y="678" width="1" height="8" fill="#c0c0c0"/><rect x="547" y="677" width="1" height="9" fill="#c0c0c0"/><rect x="551" y="677" width="1" height="9" fill="#c0c0c0"/><rect x="555" y="677" width="1" height="9" fill="#c0c0c0"/><rect x="559" y="679" width="1" height="7" fill="#c0c0c0"/><rect x="563" y="681" width="1" height="5" fill="#c0c0c0"/><rect x="567" y="681" width="1" height="5" fill="#c0c0c0"/><rect x="571" y="682" width="1" height="4" fill="#c0c0c0"/><rect x="575" y="683" width="1" height="3" fill="#c0c0c0"/><rect x="579" y="683" width="1" height="3" fill="#c0c0c0"/><rect x="583" y="681" width="1" height="5" fill="#c0c0c0"/><rect x="587" y="679" width="1" height="7" fill="#c0c0c0"/><rect x="591" y="677" width="1" height="9" fill="#c0c0c0"/><rect x="595" y="674" width="1" height="12" fill="#c0c0c0"/><rect x="599" y="673" width="1" height="13" fill="#c0c0c0"/><rect x="603" y="672" width="1" height="14" fill="#c0c0c0"/><rect x="607" y="673" width="1" height="13" fill="#c0c0c0"/><rect x="611" y="674" width="1" height="12" fill="#c0c0c0"/><rect x="615" y="674" width="1" height="12" fill="#c0c0c0"/><rect x="619" y="676" width="1" height="10" fill="#c0c0c0"/><rect x="623" y="678" width="1" height="8" fill="#c0c0c0"/><rect x="627" y="680" width="1" height="6" fill="#c0c0c0"/><rect x="631" y="682" width="1" height="4" fill="#c0c0c0"/><rect x="635" y="683" width="1" height="3" fill="#c0c0c0"/><rect x="639" y="683" width="1" height="3" fill="#c0c0c0"/><rect x="643" y="684" width="1" height="2" fill="#c0c0c0"/><rect x="647" y="684" width="1" height="2" fill="#c0c0c0"/><rect x="651" y="684" width="1" height="2" fill="#c0c0c0"/><rect x="659" y="686" width="1" height="1" fill="#c0c0c0"/><rect x="663" y="686" width="1" height="2" fill="#c0c0c0"/><rect x="667" y="686" width="1" height="3" fill="#c0c0c0"/><rect x="671" y="686" width="1" height="4" fill="#c0c0c0"/><rect x="675" y="686" width="1" height="6" fill="#c0c0c0"/><rect x="679" y="686" width="1" height="8" fill="#c0c0c0"/><rect x="683" y="686" width="1" height="9" fill="#c0c0c0"/><rect x="687" y="686" width="1" height="10" fill="#c0c0c0"/><rect x="691" y="686" width="1" height="12" fill="#c0c0c0"/><rect x="695" y="686" width="1" height="13" fill="#c0c0c0"/><rect x="699" y="686" width="1" height="12" fill="#c0c0c0"/><rect x="703" y="686" width="1" height="10" fill="#c0c0c0"/><rect x="707" y="686" width="1" height="8" fill="#c0c0c0"/><rect x="711" y="686" width="1" height="8" fill="#c0c0c0"/><rect x="715" y="686" width="1" height="8" fill="#c0c0c0"/><rect x="719" y="686" width="1" height="9" fill="#c0c0c0"/><rect x="723" y="686" width="1" height="11" fill="#c0c0c0"/><rect x="727" y="686" width="1" height="12" fill="#c0c0c0"/><rect x="731" y="686" width="1" height="14" fill="#c0c0c0"/><rect x="735" y="686" width="1" height="16" fill="#c0c0c0"/><rect x="739" y="686" width="1" height="17" fill="#c0c0c0"/><rect x="743" y="686" width="1" height="19" fill="#c0c0c0"/><rect x="747" y="686" width="1" height="21" fill="#c0c0c0"/><rect x="751" y="686" width="1" height="23" fill="#c0c0c0"/><rect x="755" y="686" width="1" height="25" fill="#c0c0c0"/><rect x="759" y="686" width="1" height="26" fill="#c0c0c0"/><rect x="763" y="686" width="1" height="27" fill="#c0c0c0"/><rect x="767" y="686" width="1" height="28" fill="#c0c0c0"/><rect x="771" y="686" width="1" height="28" fill="#c0c0c0"/><rect x="775" y="686" width="1" height="27" fill="#c0c0c0"/><rect x="779" y="686" width="1" height="25" fill="#c0c0c0"/><rect x="783" y="686" width="1" height="23" fill="#c0c0c0"/><rect x="787" y="686" width="1" height="22" fill="#c0c0c0"/><rect x="791" y="686" width="1" height="20" fill="#c0c0c0"/><rect x="795" y="686" width="1" height="15" fill="#c0c0c0"/><rect x="799" y="686" width="1" height="10" fill="#c0c0c0"/><rect x="803" y="686" width="1" height="5" fill="#c0c0c0"/><rect x="807" y="684" width="1" height="2" fill="#c0c0c0"/><rect x="811" y="677" width="1" height="9" fill="#c0c0c0"/><rect x="815" y="672" width="1" height="14" fill="#c0c0c0"/><rect x="819" y="668" width="1" height="18" fill="#c0c0c0"/><rect x="823" y="660" width="1" height="26" fill="#c0c0c0"/><rect x="827" y="655" width="1" height="31" fill="#c0c0c0"/><rect x="831" y="647" width="1" height="39" fill="#c0c0c0"/><rect x="835" y="644" width="1" height="42" fill="#c0c0c0"/><rect x="839" y="644" width="1" height="42" fill="#c0c0c0"/><rect x="843" y="651" width="1" height="35" fill="#c0c0c0"/><rect x="847" y="658" width="1" height="28" fill="#c0c0c0"/><rect x="851" y="663" width="1" height="23" fill="#c0c0c0"/><rect x="855" y="665" width="1" height="21" fill="#c0c0c0"/><rect x="859" y="672" width="1" height="14" fill="#c0c0c0"/><rect x="863" y="683" width="1" height="3" fill="#c0c0c0"/><rect x="867" y="686" width="1" height="9" fill="#c0c0c0"/><rect x="871" y="686" width="1" height="19" fill="#c0c0c0"/><rect x="875" y="686" width="1" height="28" fill="#c0c0c0"/><rect x="879" y="686" width="1" height="31" fill="#c0c0c0"/><rect x="883" y="686" width="1" height="32" fill="#c0c0c0"/><rect x="887" y="686" width="1" height="31" fill="#c0c0c0"/><rect x="891" y="686" width="1" height="24" fill="#c0c0c0"/><rect x="895" y="686" width="1" height="17" fill="#c0c0c0"/><rect x="899" y="686" width="1" height="9" fill="#c0c0c0"/><rect x="903" y="686" width="1" height="6" fill="#c0c0c0"/><rect x="907" y="686" width="1" height="4" fill="#c0c0c0"/><rect x="911" y="686" width="1" height="5" fill="#c0c0c0"/><rect x="915" y="686" width="1" height="8" fill="#c0c0c0"/><rect x="919" y="686" width="1" height="12" fill="#c0c0c0"/><rect x="923" y="686" width="1" height="15" fill="#c0c0c0"/><rect x="927" y="686" width="1" height="17" fill="#c0c0c0"/><rect x="931" y="686" width="1" height="16" fill="#c0c0c0"/><rect x="935" y="686" width="1" height="16" fill="#c0c0c0"/><rect x="939" y="686" width="1" height="13" fill="#c0c0c0"/><rect x="943" y="686" width="1" height="11" fill="#c0c0c0"/><rect x="947" y="686" width="1" height="9" fill="#c0c0c0"/><rect x="951" y="686" width="1" height="8" fill="#c0c0c0"/><rect x="955" y="686" width="1" height="6" fill="#c0c0c0"/><rect x="959" y="686" width="1" height="5" fill="#c0c0c0"/><rect x="963" y="686" width="1" height="7" fill="#c0c0c0"/><rect x="967" y="686" width="1" height="7" fill="#c0c0c0"/><rect x="971" y="686" width="1" height="8" fill="#c0c0c0"/><rect x="975" y="686" width="1" height="8" fill="#c0c0c0"/><rect x="979" y="686" width="1" height="9" fill="#c0c0c0"/><rect x="983" y="686" width="1" height="10" fill="#c0c0c0"/><rect x="987" y="686" width="1" height="11" fill="#c0c0c0"/><rect x="991" y="686" width="1" height="13" fill="#c0c0c0"/><rect x="995" y="686" width="1" height="14" fill="#c0c0c0"/><rect x="999" y="686" width="1" height="13" fill="#c0c0c0"/><rect x="1003" y="686" width="1" height="13" fill="#c0c0c0"/><rect x="1007" y="686" width="1" height="11" fill="#c0c0c0"/><rect x="1011" y="686" width="1" height="8" fill="#c0c0c0"/><rect x="1015" y="686" width="1" height="3" fill="#c0c0c0"/><rect x="1019" y="685" width="1" height="1" fill="#c0c0c0"/><rect x="1023" y="685" width="1" height="1" fill="#c0c0c0"/><rect x="1027" y="686" width="1" height="1" fill="#c0c0c0"/><rect x="1031" y="686" width="1" height="3" fill="#c0c0c0"/><rect x="1035" y="686" width="1" height="5" fill="#c0c0c0"/><rect x="1039" y="686" width="1" height="5" fill="#c0c0c0"/><rect x="1043" y="686" width="1" height="5" fill="#c0c0c0"/><rect x="1047" y="686" width="1" height="6" fill="#c0c0c0"/><rect x="1051" y="686" width="1" height="6" fill="#c0c0c0"/><rect x="1055" y="686" width="1" height="6" fill="#c0c0c0"/><rect x="1059" y="686" width="1" height="7" fill="#c0c0c0"/><rect x="1063" y="686" width="1" height="8" fill="#c0c0c0"/><rect x="1067" y="686" width="1" height="8" fill="#c0c0c0"/><rect x="1071" y="686" width="1" height="5" fill="#c0c0c0"/><rect x="1075" y="686" width="1" height="2" fill="#c0c0c0"/><rect x="1079" y="684" width="1" height="2" fill="#c0c0c0"/><rect x="1083" y="682" width="1" height="4" fill="#c0c0c0"/><rect x="1087" y="682" width="1" height="4" fill="#c0c0c0"/><rect x="1091" y="682" width="1" height="4" fill="#c0c0c0"/><rect x="1095" y="682" width="1" height="4" fill="#c0c0c0"/><rect x="1099" y="680" width="1" height="6" fill="#c0c0c0"/><rect x="1103" y="678" width="1" height="8" fill="#c0c0c0"/><rect x="1107" y="674" width="1" height="12" fill="#c0c0c0"/><rect x="1111" y="669" width="1" height="17" fill="#c0c0c0"/><rect x="1115" y="666" width="1" height="20" fill="#c0c0c0"/><rect x="1119" y="663" width="1" height="23" fill="#c0c0c0"/><rect x="1123" y="660" width="1" height="26" fill="#c0c0c0"/><rect x="1127" y="655" width="1" height="31" fill="#c0c0c0"/><rect x="1131" y="649" width="1" height="37" fill="#c0c0c0"/><rect x="1135" y="645" width="1" height="41" fill="#c0c0c0"/><rect x="1139" y="643" width="1" height="43" fill="#c0c0c0"/><rect x="1143" y="642" width="1" height="44" fill="#c0c0c0"/><rect x="1147" y="640" width="1" height="46" fill="#c0c0c0"/><rect x="1151" y="638" width="1" height="48" fill="#c0c0c0"/><rect x="1155" y="637" width="1" height="49" fill="#c0c0c0"/><rect x="1159" y="641" width="1" height="45" fill="#c0c0c0"/><rect x="1163" y="645" width="1" height="41" fill="#c0c0c0"/><rect x="1167" y="647" width="1" height="39" fill="#c0c0c0"/><rect x="1171" y="650" width="1" height="36" fill="#c0c0c0"/><rect x="1175" y="653" width="1" height="33" fill="#c0c0c0"/><rect x="1179" y="657" width="1" height="29" fill="#c0c0c0"/><rect x="1183" y="661" width="1" height="25" fill="#c0c0c0"/><rect x="1187" y="664" width="1" height="22" fill="#c0c0c0"/><rect x="1191" y="665" width="1" height="21" fill="#c0c0c0"/><rect x="1195" y="663" width="1" height="23" fill="#c0c0c0"/><rect x="1199" y="664" width="1" height="22" fill="#c0c0c0"/><rect x="1203" y="667" width="1" height="19" fill="#c0c0c0"/><rect x="1207" y="669" width="1" height="17" fill="#c0c0c0"/><rect x="1211" y="671" width="1" height="15" fill="#c0c0c0"/><rect x="1215" y="672" width="1" height="14" fill="#c0c0c0"/><rect x="1219" y="673" width="1" height="13" fill="#c0c0c0"/><rect x="1223" y="673" width="1" height="13" fill="#c0c0c0"/><rect x="1227" y="674" width="1" height="12" fill="#c0c0c0"/><rect x="1231" y="675" width="1" height="11" fill="#c0c0c0"/><rect x="1235" y="676" width="1" height="10" fill="#c0c0c0"/><rect x="1239" y="675" width="1" height="11" fill="#c0c0c0"/><rect x="1243" y="674" width="1" height="12" fill="#c0c0c0"/><rect x="1247" y="673" width="1" height="13" fill="#c0c0c0"/><rect x="1251" y="673" width="1" height="13" fill="#c0c0c0"/><rect x="1255" y="672" width="1" height="14" fill="#c0c0c0"/><rect x="1259" y="673" width="1" height="13" fill="#c0c0c0"/><rect x="1263" y="671" width="1" height="15" fill="#c0c0c0"/><rect x="1267" y="670" width="1" height="16" fill="#c0c0c0"/><path d="M1162 642h1v1h-1zM1166 642h3v1h-3zM1160 643h2v1h-2zM1172 643h2v1h-2zM1174 644h1v1h-1zM1155 645h2v1h-2zM1178 645h2v1h-2zM1154 646h1v1h-1zM1180 646h1v1h-1zM1150 649h1v1h-1zM1184 649h2v1h-2zM1148 650h2v1h-2zM1186 650h1v1h-1zM1190 653h1v1h-1zM852 654h3v1h-3zM1144 654h1v1h-1zM1191 654h2v1h-2zM858 655h1v1h-1zM1143 655h1v1h-1zM847 656h2v1h-2zM859 656h1v1h-1zM1142 656h1v1h-1zM1196 656h1v1h-1zM846 657h1v1h-1zM860 657h1v1h-1zM1197 657h2v1h-2zM842 659h1v1h-1zM1138 659h1v1h-1zM1202 659h1v1h-1zM840 660h2v1h-2zM864 660h1v1h-1zM1137 660h1v1h-1zM1203 660h1v1h-1zM865 661h1v1h-1zM1136 661h1v1h-1zM1204 661h1v1h-1zM865 662h1v1h-1zM1208 663h1v1h-1zM837 664h1v1h-1zM1209 664h2v1h-2zM836 665h1v1h-1zM1132 665h1v1h-1zM835 666h1v1h-1zM868 666h1v1h-1zM1131 666h1v1h-1zM1214 666h3v1h-3zM869 667h1v1h-1zM1130 667h1v1h-1zM869 668h1v1h-1zM1220 668h2v1h-2zM1222 669h1v1h-1zM832 670h1v1h-1zM1226 670h3v1h-3zM832 671h1v1h-1zM1126 671h1v1h-1zM1232 671h2v1h-2zM831 672h1v1h-1zM872 672h1v1h-1zM1124 672h2v1h-2zM1234 672h1v1h-1zM381 673h1v1h-1zM872 673h1v1h-1zM1238 673h3v1h-3zM1262 673h3v1h-3zM370 674h2v1h-2zM375 674h3v1h-3zM382 674h2v1h-2zM387 674h3v1h-3zM393 674h3v1h-3zM399 674h3v1h-3zM873 674h1v1h-1zM1244 674h3v1h-3zM1250 674h3v1h-3zM1256 674h3v1h-3zM369 675h1v1h-1zM405 675h3v1h-3zM615 675h3v1h-3zM621 675h3v1h-3zM627 675h3v1h-3zM1119 675h2v1h-2zM363 676h3v1h-3zM411 676h3v1h-3zM610 676h2v1h-2zM633 676h1v1h-1zM828 676h1v1h-1zM1118 676h1v1h-1zM417 677h2v1h-2zM609 677h1v1h-1zM634 677h2v1h-2zM828 677h1v1h-1zM359 678h1v1h-1zM419 678h1v1h-1zM603 678h3v1h-3zM639 678h3v1h-3zM827 678h1v1h-1zM875 678h1v1h-1zM1113 678h2v1h-2zM357 679h2v1h-2zM423 679h2v1h-2zM561 679h3v1h-3zM567 679h3v1h-3zM573 679h1v1h-1zM598 679h2v1h-2zM875 679h1v1h-1zM1112 679h1v1h-1zM425 680h1v1h-1zM555 680h3v1h-3zM574 680h2v1h-2zM579 680h3v1h-3zM585 680h1v1h-1zM597 680h1v1h-1zM645 680h2v1h-2zM876 680h1v1h-1zM353 681h1v1h-1zM550 681h2v1h-2zM586 681h2v1h-2zM591 681h3v1h-3zM647 681h1v1h-1zM1107 681h2v1h-2zM351 682h2v1h-2zM429 682h2v1h-2zM549 682h1v1h-1zM651 682h3v1h-3zM824 682h1v1h-1zM1106 682h1v1h-1zM431 683h1v1h-1zM538 683h2v1h-2zM543 683h3v1h-3zM657 683h1v1h-1zM824 683h1v1h-1zM347 684h1v1h-1zM537 684h1v1h-1zM658 684h2v1h-2zM823 684h1v1h-1zM878 684h1v1h-1zM1101 684h2v1h-2zM3 685h3v1h-3zM345 685h2v1h-2zM435 685h2v1h-2zM531 685h3v1h-3zM663 685h3v1h-3zM669 685h1v1h-1zM878 685h1v1h-1zM1100 685h1v1h-1zM9 686h1v1h-1zM437 686h1v1h-1zM526 686h2v1h-2zM670 686h2v1h-2zM879 686h1v1h-1zM1095 686h2v1h-2zM10 687h2v1h-2zM341 687h1v1h-1zM441 687h1v1h-1zM525 687h1v1h-1zM675 687h3v1h-3zM1094 687h1v1h-1zM15 688h3v1h-3zM339 688h2v1h-2zM442 688h2v1h-2zM519 688h3v1h-3zM681 688h1v1h-1zM820 688h1v1h-1zM1090 688h1v1h-1zM21 689h3v1h-3zM447 689h3v1h-3zM466 689h2v1h-2zM471 689h3v1h-3zM477 689h3v1h-3zM513 689h3v1h-3zM682 689h2v1h-2zM819 689h1v1h-1zM1042 689h1v1h-1zM1046 689h3v1h-3zM1052 689h2v1h-2zM1088 689h2v1h-2zM27 690h3v1h-3zM33 690h1v1h-1zM334 690h2v1h-2zM453 690h3v1h-3zM459 690h3v1h-3zM465 690h1v1h-1zM483 690h3v1h-3zM489 690h3v1h-3zM502 690h2v1h-2zM507 690h3v1h-3zM818 690h1v1h-1zM881 690h1v1h-1zM1040 690h2v1h-2zM1054 690h1v1h-1zM1082 690h3v1h-3zM34 691h2v1h-2zM39 691h3v1h-3zM45 691h1v1h-1zM123 691h3v1h-3zM129 691h3v1h-3zM135 691h3v1h-3zM333 691h1v1h-1zM495 691h3v1h-3zM501 691h1v1h-1zM687 691h3v1h-3zM882 691h1v1h-1zM1034 691h3v1h-3zM1058 691h3v1h-3zM1078 691h1v1h-1zM46 692h2v1h-2zM119 692h1v1h-1zM141 692h1v1h-1zM329 692h1v1h-1zM693 692h1v1h-1zM882 692h1v1h-1zM1029 692h2v1h-2zM1064 692h3v1h-3zM1070 692h3v1h-3zM1076 692h2v1h-2zM51 693h3v1h-3zM117 693h2v1h-2zM142 693h2v1h-2zM250 693h2v1h-2zM255 693h3v1h-3zM261 693h3v1h-3zM327 693h2v1h-2zM694 693h2v1h-2zM980 693h2v1h-2zM1028 693h1v1h-1zM57 694h1v1h-1zM147 694h3v1h-3zM249 694h1v1h-1zM267 694h3v1h-3zM273 694h1v1h-1zM323 694h1v1h-1zM699 694h3v1h-3zM815 694h1v1h-1zM970 694h1v1h-1zM974 694h3v1h-3zM982 694h1v1h-1zM986 694h3v1h-3zM1022 694h3v1h-3zM58 695h2v1h-2zM111 695h3v1h-3zM153 695h3v1h-3zM243 695h3v1h-3zM274 695h2v1h-2zM321 695h2v1h-2zM705 695h1v1h-1zM814 695h1v1h-1zM968 695h2v1h-2zM992 695h2v1h-2zM63 696h3v1h-3zM159 696h3v1h-3zM165 696h3v1h-3zM171 696h3v1h-3zM177 696h1v1h-1zM238 696h2v1h-2zM279 696h3v1h-3zM706 696h2v1h-2zM711 696h3v1h-3zM717 696h3v1h-3zM723 696h3v1h-3zM729 696h3v1h-3zM813 696h1v1h-1zM885 696h1v1h-1zM932 696h2v1h-2zM962 696h3v1h-3zM994 696h1v1h-1zM998 696h3v1h-3zM1017 696h2v1h-2zM69 697h1v1h-1zM106 697h2v1h-2zM178 697h2v1h-2zM237 697h1v1h-1zM285 697h1v1h-1zM315 697h3v1h-3zM735 697h3v1h-3zM741 697h1v1h-1zM886 697h1v1h-1zM926 697h3v1h-3zM934 697h1v1h-1zM958 697h1v1h-1zM1004 697h3v1h-3zM1010 697h3v1h-3zM1016 697h1v1h-1zM70 698h2v1h-2zM105 698h1v1h-1zM183 698h3v1h-3zM231 698h3v1h-3zM286 698h2v1h-2zM310 698h2v1h-2zM742 698h2v1h-2zM886 698h1v1h-1zM921 698h2v1h-2zM938 698h3v1h-3zM956 698h2v1h-2zM75 699h3v1h-3zM101 699h1v1h-1zM189 699h1v1h-1zM226 699h2v1h-2zM291 699h3v1h-3zM297 699h3v1h-3zM303 699h3v1h-3zM309 699h1v1h-1zM920 699h1v1h-1zM944 699h3v1h-3zM950 699h3v1h-3zM81 700h1v1h-1zM99 700h2v1h-2zM190 700h2v1h-2zM225 700h1v1h-1zM747 700h2v1h-2zM809 700h1v1h-1zM82 701h2v1h-2zM87 701h3v1h-3zM93 701h3v1h-3zM195 701h3v1h-3zM219 701h3v1h-3zM749 701h1v1h-1zM808 701h1v1h-1zM915 701h2v1h-2zM201 702h3v1h-3zM213 702h3v1h-3zM753 702h1v1h-1zM807 702h1v1h-1zM890 702h1v1h-1zM914 702h1v1h-1zM207 703h3v1h-3zM754 703h2v1h-2zM891 703h1v1h-1zM892 704h1v1h-1zM759 705h2v1h-2zM803 705h1v1h-1zM909 705h2v1h-2zM761 706h1v1h-1zM802 706h1v1h-1zM908 706h1v1h-1zM765 707h1v1h-1zM801 707h1v1h-1zM896 707h2v1h-2zM766 708h2v1h-2zM898 708h1v1h-1zM902 708h3v1h-3zM797 709h1v1h-1zM771 710h3v1h-3zM795 710h2v1h-2zM777 711h1v1h-1zM790 711h2v1h-2zM778 712h2v1h-2zM783 712h3v1h-3zM789 712h1v1h-1z" fill="#ff0000"/><rect x="2" y="29" width="1594" height="1" fill="#000"/><rect x="2" y="535" width="1594" height="1" fill="#000"/><rect x="2" y="29" width="1" height="507" fill="#000"/><rect x="1595" y="29" width="1" height="507" fill="#000"/><rect x="2" y="537" width="1594" height="1" fill="#000"/><rect x="2" y="629" width="1594" height="1" fill="#000"/><rect x="2" y="537" width="1" height="93" fill="#000"/><rect x="1595" y="537" width="1" height="93" fill="#000"/><rect x="2" y="631" width="1594" height="1" fill="#000"/><rect x="2" y="723" width="1594" height="1" fill="#000"/><rect x="2" y="631" width="1" height="93" fill="#000"/><rect x="1595" y="631" width="1" height="93" fill="#000"/><rect x="1596" y="37" width="2" height="1" fill="#000"/><rect x="1596" y="70" width="2" height="1" fill="#000"/><rect x="1596" y="169" width="2" height="1" fill="#000"/><rect x="1596" y="202" width="2" height="1" fill="#000"/><rect x="1596" y="235" width="2" height="1" fill="#000"/><rect x="1596" y="301" width="2" height="1" fill="#000"/><rect x="1596" y="334" width="2" height="1" fill="#000"/><rect x="1596" y="367" width="2" height="1" fill="#000"/><rect x="1596" y="400" width="2" height="1" fill="#000"/><rect x="1596" y="433" width="2" height="1" fill="#000"/><rect x="1596" y="466" width="2" height="1" fill="#000"/><rect x="1596" y="499" width="2" height="1" fill="#000"/><rect x="1596" y="532" width="2" height="1" fill="#000"/><rect x="1596" y="103" width="1" height="1" fill="#000"/><rect x="1596" y="136" width="1" height="1" fill="#000"/><rect x="1596" y="268" width="1" height="1" fill="#000"/><rect x="1596" y="539" width="2" height="1" fill="#000"/><rect x="1596" y="628" width="2" height="1" fill="#000"/><rect x="1596" y="633" width="2" height="1" fill="#000"/><rect x="1596" y="722" width="2" height="1" fill="#000"/><rect x="1596" y="565" width="2" height="1" fill="#000"/><rect x="1596" y="601" width="2" height="1" fill="#000"/><rect x="1596" y="686" width="2" height="1" fill="#000"/><line x1="4" x2="1595" y1="565.5" y2="565.5" stroke="#c0c0c0" stroke-width="1" stroke-dasharray="3 3"/><line x1="4" x2="1595" y1="601.5" y2="601.5" stroke="#c0c0c0" stroke-width="1" stroke-dasharray="3 3"/><rect x="3" y="724" width="1" height="3" fill="#000"/><rect x="67" y="724" width="1" height="3" fill="#000"/><rect x="131" y="724" width="1" height="3" fill="#000"/><rect x="195" y="724" width="1" height="3" fill="#000"/><rect x="259" y="724" width="1" height="3" fill="#000"/><rect x="323" y="724" width="1" height="3" fill="#000"/><rect x="387" y="724" width="1" height="3" fill="#000"/><rect x="451" y="724" width="1" height="3" fill="#000"/><rect x="515" y="724" width="1" height="3" fill="#000"/><rect x="579" y="724" width="1" height="3" fill="#000"/><rect x="643" y="724" width="1" height="3" fill="#000"/><rect x="707" y="724" width="1" height="3" fill="#000"/><rect x="771" y="724" width="1" height="3" fill="#000"/><rect x="835" y="724" width="1" height="3" fill="#000"/><rect x="899" y="724" width="1" height="3" fill="#000"/><rect x="963" y="724" width="1" height="3" fill="#000"/><rect x="1027" y="724" width="1" height="3" fill="#000"/><rect x="1091" y="724" width="1" height="3" fill="#000"/><rect x="1155" y="724" width="1" height="3" fill="#000"/><rect x="1219" y="724" width="1" height="3" fill="#000"/><rect x="3" y="102" width="1592" height="2" fill="#ff0000"/><rect x="2" y="100" width="6" height="6" fill="#ff0000"/><rect x="4" y="102" width="2" height="2" fill="#fff"/><rect x="1589" y="100" width="6" height="6" fill="#ff0000"/><rect x="1591" y="102" width="2" height="2" fill="#fff"/><rect x="3" y="158" width="1594" height="2" fill="#ff0000"/><rect x="3" y="214" width="1592" height="2" fill="#00ff00"/><rect x="2" y="212" width="6" height="6" fill="#00ff00"/><rect x="4" y="214" width="2" height="2" fill="#fff"/><rect x="1589" y="212" width="6" height="6" fill="#00ff00"/><rect x="1591" y="214" width="2" height="2" fill="#fff"/><rect x="3" y="268" width="1592" height="2" fill="#0000ff"/><rect x="2" y="266" width="6" height="6" fill="#0000ff"/><rect x="4" y="268" width="2" height="2" fill="#fff"/><rect x="1589" y="266" width="6" height="6" fill="#0000ff"/><rect x="1591" y="268" width="2" height="2" fill="#fff"/><rect x="3" y="323" width="1592" height="2" fill="#0000ff"/><rect x="2" y="321" width="6" height="6" fill="#0000ff"/><rect x="4" y="323" width="2" height="2" fill="#fff"/><rect x="1589" y="321" width="6" height="6" fill="#0000ff"/><rect x="1591" y="323" width="2" height="2" fill="#fff"/><path d="M1271 30h9v1h-9zM1272 31h7v1h-7zM1273 32h5v1h-5zM1274 33h3v1h-3zM1275 34h1v1h-1z" fill="#c0c0c0"/></svg><div style="position:absolute;left:0;top:744px;width:1640px;height:1px;background:#e3e3e3"></div><div style="position:absolute;left:0;top:745px;width:1640px;height:1px;background:#f0f0f0"></div><div style="position:absolute;left:0;top:746px;width:1640px;height:21px;background:#f0f0f0"></div><div style="position:absolute;left:0;top:746px;width:1640px;height:1px;background:#000"></div><div style="position:absolute;left:0;top:767px;width:1640px;height:2px;background:#fafafa"></div><div style="position:absolute;left:0;top:769px;width:1640px;height:1px;background:#e8e8e8"></div><div style="position:absolute;left:0;top:770px;width:1640px;height:1px;background:#a8a8a8"></div><div style="position:absolute;left:0;top:771px;width:1640px;height:3px;background:#fbfbfb"></div><div style="position:absolute;left:187px;top:771px;width:1px;height:3px;background:#e6e6e6"></div><div style="position:absolute;left:317px;top:771px;width:1px;height:3px;background:#e6e6e6"></div><div style="position:absolute;left:418px;top:771px;width:1px;height:3px;background:#e6e6e6"></div><div style="position:absolute;left:548px;top:771px;width:1px;height:3px;background:#e6e6e6"></div><div style="position:absolute;left:693px;top:771px;width:1px;height:3px;background:#e6e6e6"></div><div style="position:absolute;left:838px;top:771px;width:1px;height:3px;background:#e6e6e6"></div><div style="position:absolute;left:983px;top:771px;width:1px;height:3px;background:#e6e6e6"></div><div style="position:absolute;left:1128px;top:771px;width:1px;height:3px;background:#e6e6e6"></div><div style="position:absolute;left:1273px;top:771px;width:1px;height:3px;background:#e6e6e6"></div><div style="position:absolute;left:1418px;top:771px;width:1px;height:3px;background:#e6e6e6"></div><div style="position:absolute;left:5px;top:746px;width:104px;height:20px;background:#8a8a8a"></div><div style="position:absolute;left:4px;top:745px;width:104px;height:20px;background:#fff;border:1px solid #000;border-top:1px solid #fff"></div><div class="tab" style="left:16px;color:#000">EURUSD,Daily</div><div class="tab" style="left:117.8px;transform:scaleX(1.013);transform-origin:0 0">USDCHF,Daily</div><div class="sep" style="left:208px"></div><div class="tab" style="left:218.5px;transform:scaleX(1.012);transform-origin:0 0">AUDUSD,Daily</div><div class="sep" style="left:312px"></div><div class="tab" style="left:322.2px;transform:scaleX(1.02);transform-origin:0 0">USDCAD,Daily</div><div class="sep" style="left:416px"></div><div class="tab" style="left:425.5px;transform:scaleX(1.038);transform-origin:0 0">USDCNH,Daily</div><div class="sep" style="left:520px"></div><div class="tab" style="left:530.5px;transform:scaleX(1.022);transform-origin:0 0">EURUSD,M15</div><div class="sep" style="left:620px"></div><div class="tab" style="left:630.5px;transform:scaleX(1.013);transform-origin:0 0">GBPUSD,M30</div><div class="sep" style="left:720px"></div><div class="tab" style="left:730.2px;transform:scaleX(1.016);transform-origin:0 0">XAUUSD,Daily</div><div class="sep" style="left:824px"></div><div class="tab" style="left:834.5px;transform:scaleX(1.049);transform-origin:0 0">HK50,H1</div><div class="sep" style="left:896px"></div><div class="tab" style="left:906.5px;transform:scaleX(1.043);transform-origin:0 0">UK100,H1</div><div class="sep" style="left:975px"></div><div class="tab" style="left:986.2px;transform:scaleX(1.048);transform-origin:0 0">UK100,H1</div><div class="sep" style="left:1055px"></div><div class="tab" style="left:1066.9px;transform:scaleX(0.972);transform-origin:0 0">GER30,H1</div><div class="sep" style="left:1136px"></div><div class="tab" style="left:1146.0px;transform:scaleX(0.984);transform-origin:0 0">FRA40,H1</div><div class="sep" style="left:1212px"></div><div class="tab" style="left:1222.1px;transform:scaleX(1.037);transform-origin:0 0">USOil,Daily</div><div class="sep" style="left:1296px"></div><div class="tab" style="left:1305.9px;transform:scaleX(0.987);transform-origin:0 0">USDJPY,H1</div><div class="sep" style="left:1380px"></div><div class="tab" style="left:1390.8px;transform:scaleX(1.062);transform-origin:0 0">DJ30,M15</div><div class="sep" style="left:1460px"></div><svg style="position:absolute;left:1605px;top:750px" width="35" height="14"><path d="M10 2 v8 l-4 -4z M24 2 v8 l4 -4z" fill="#8a8a8a"/></svg></body></html>
